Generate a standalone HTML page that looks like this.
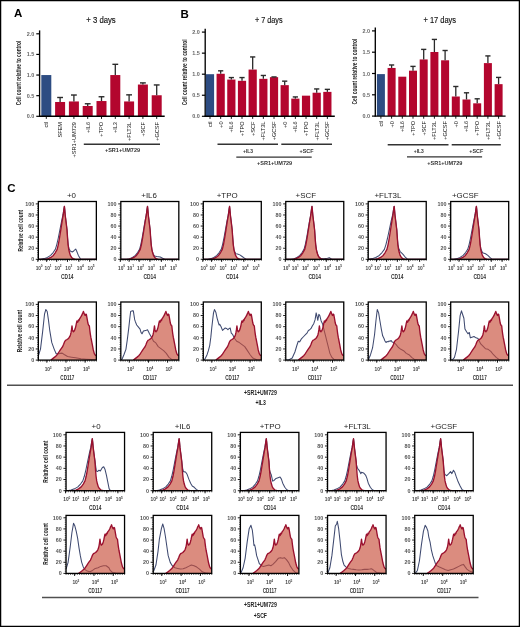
<!DOCTYPE html><html><head><meta charset="utf-8"><style>html,body{margin:0;padding:0;background:#fff;width:520px;height:627px;overflow:hidden;}body{position:relative;font-family:"Liberation Sans",sans-serif;}</style></head><body><svg width="520" height="627" viewBox="0 0 520 627" style="position:absolute;left:0;top:0;will-change:transform;font-family:'Liberation Sans', sans-serif">
<rect x="0" y="0" width="520" height="627" fill="#fff"/>
<text x="13.90" y="17.00" font-size="11.5" text-anchor="start" fill="#000" font-weight="bold" >A</text>
<text x="180.60" y="17.60" font-size="11.5" text-anchor="start" fill="#000" font-weight="bold" >B</text>
<text x="7.30" y="191.80" font-size="11.5" text-anchor="start" fill="#000" font-weight="bold" >C</text>
<text x="101.00" y="23.00" font-size="8.4" text-anchor="middle" fill="#111" textLength="29.40" lengthAdjust="spacingAndGlyphs" stroke="#111" stroke-width="0.15">+ 3 days</text>
<text x="268.80" y="23.00" font-size="8.4" text-anchor="middle" fill="#111" textLength="27.60" lengthAdjust="spacingAndGlyphs" stroke="#111" stroke-width="0.15">+ 7 days</text>
<text x="439.80" y="22.80" font-size="8.4" text-anchor="middle" fill="#111" textLength="32.60" lengthAdjust="spacingAndGlyphs" stroke="#111" stroke-width="0.15">+ 17 days</text>
<line x1="39.60" y1="30.40" x2="39.60" y2="116.80" stroke="#000" stroke-width="1.35" />
<line x1="36.30" y1="116.30" x2="39.60" y2="116.30" stroke="#000" stroke-width="1.2" />
<text x="34.30" y="118.30" font-size="5.8" text-anchor="end" fill="#666" font-weight="bold" textLength="7.60" lengthAdjust="spacingAndGlyphs" >0.0</text>
<line x1="36.30" y1="95.67" x2="39.60" y2="95.67" stroke="#000" stroke-width="1.2" />
<text x="34.30" y="97.67" font-size="5.8" text-anchor="end" fill="#666" font-weight="bold" textLength="7.60" lengthAdjust="spacingAndGlyphs" >0.5</text>
<line x1="36.30" y1="75.05" x2="39.60" y2="75.05" stroke="#000" stroke-width="1.2" />
<text x="34.30" y="77.05" font-size="5.8" text-anchor="end" fill="#666" font-weight="bold" textLength="7.60" lengthAdjust="spacingAndGlyphs" >1.0</text>
<line x1="36.30" y1="54.42" x2="39.60" y2="54.42" stroke="#000" stroke-width="1.2" />
<text x="34.30" y="56.42" font-size="5.8" text-anchor="end" fill="#666" font-weight="bold" textLength="7.60" lengthAdjust="spacingAndGlyphs" >1.5</text>
<line x1="36.30" y1="33.80" x2="39.60" y2="33.80" stroke="#000" stroke-width="1.2" />
<text x="34.30" y="35.80" font-size="5.8" text-anchor="end" fill="#666" font-weight="bold" textLength="7.60" lengthAdjust="spacingAndGlyphs" >2.0</text>
<text x="20.50" y="73.00" font-size="6.3" text-anchor="middle" fill="#222" font-weight="bold" textLength="64.60" lengthAdjust="spacingAndGlyphs" transform="rotate(-90 20.50 73.00)" >Cell count relative to control</text>
<rect x="41.30" y="75.05" width="10.00" height="41.25" fill="#2d4c82"/>
<line x1="46.30" y1="116.30" x2="46.30" y2="118.90" stroke="#000" stroke-width="0.9" />
<rect x="55.10" y="101.99" width="10.00" height="14.31" fill="#b3062e"/>
<line x1="60.10" y1="97.49" x2="60.10" y2="101.99" stroke="#2a2a2a" stroke-width="1.3" />
<line x1="57.20" y1="97.49" x2="63.00" y2="97.49" stroke="#2a2a2a" stroke-width="1.4" />
<line x1="60.10" y1="116.30" x2="60.10" y2="118.90" stroke="#000" stroke-width="0.9" />
<rect x="68.90" y="101.45" width="10.00" height="14.85" fill="#b3062e"/>
<line x1="73.90" y1="95.02" x2="73.90" y2="101.45" stroke="#2a2a2a" stroke-width="1.3" />
<line x1="71.00" y1="95.02" x2="76.80" y2="95.02" stroke="#2a2a2a" stroke-width="1.4" />
<line x1="73.90" y1="116.30" x2="73.90" y2="118.90" stroke="#000" stroke-width="0.9" />
<rect x="82.70" y="105.99" width="10.00" height="10.31" fill="#b3062e"/>
<line x1="87.70" y1="103.76" x2="87.70" y2="105.99" stroke="#2a2a2a" stroke-width="1.3" />
<line x1="84.80" y1="103.76" x2="90.60" y2="103.76" stroke="#2a2a2a" stroke-width="1.4" />
<line x1="87.70" y1="116.30" x2="87.70" y2="118.90" stroke="#000" stroke-width="0.9" />
<rect x="96.50" y="101.04" width="10.00" height="15.26" fill="#b3062e"/>
<line x1="101.50" y1="96.75" x2="101.50" y2="101.04" stroke="#2a2a2a" stroke-width="1.3" />
<line x1="98.60" y1="96.75" x2="104.40" y2="96.75" stroke="#2a2a2a" stroke-width="1.4" />
<line x1="101.50" y1="116.30" x2="101.50" y2="118.90" stroke="#000" stroke-width="0.9" />
<rect x="110.30" y="75.05" width="10.00" height="41.25" fill="#b3062e"/>
<line x1="115.30" y1="64.32" x2="115.30" y2="75.05" stroke="#2a2a2a" stroke-width="1.3" />
<line x1="112.40" y1="64.32" x2="118.20" y2="64.32" stroke="#2a2a2a" stroke-width="1.4" />
<line x1="115.30" y1="116.30" x2="115.30" y2="118.90" stroke="#000" stroke-width="0.9" />
<rect x="124.10" y="101.45" width="10.00" height="14.85" fill="#b3062e"/>
<line x1="129.10" y1="94.85" x2="129.10" y2="101.45" stroke="#2a2a2a" stroke-width="1.3" />
<line x1="126.20" y1="94.85" x2="132.00" y2="94.85" stroke="#2a2a2a" stroke-width="1.4" />
<line x1="129.10" y1="116.30" x2="129.10" y2="118.90" stroke="#000" stroke-width="0.9" />
<rect x="137.90" y="84.54" width="10.00" height="31.76" fill="#b3062e"/>
<line x1="142.90" y1="82.89" x2="142.90" y2="84.54" stroke="#2a2a2a" stroke-width="1.3" />
<line x1="140.00" y1="82.89" x2="145.80" y2="82.89" stroke="#2a2a2a" stroke-width="1.4" />
<line x1="142.90" y1="116.30" x2="142.90" y2="118.90" stroke="#000" stroke-width="0.9" />
<rect x="151.70" y="95.26" width="10.00" height="21.04" fill="#b3062e"/>
<line x1="156.70" y1="84.95" x2="156.70" y2="95.26" stroke="#2a2a2a" stroke-width="1.3" />
<line x1="153.80" y1="84.95" x2="159.60" y2="84.95" stroke="#2a2a2a" stroke-width="1.4" />
<line x1="156.70" y1="116.30" x2="156.70" y2="118.90" stroke="#000" stroke-width="0.9" />
<line x1="39.00" y1="116.30" x2="164.70" y2="116.30" stroke="#000" stroke-width="1.4" />
<text x="48.20" y="122.00" font-size="5.6" text-anchor="end" fill="#111" textLength="5.60" lengthAdjust="spacingAndGlyphs" transform="rotate(-90 48.20 122.00)" >ctl</text>
<text x="62.00" y="122.00" font-size="5.6" text-anchor="end" fill="#111" textLength="15.56" lengthAdjust="spacingAndGlyphs" transform="rotate(-90 62.00 122.00)" >SFEM</text>
<text x="75.80" y="122.00" font-size="5.6" text-anchor="end" fill="#111" textLength="35.49" lengthAdjust="spacingAndGlyphs" transform="rotate(-90 75.80 122.00)" >+SR1+UM729</text>
<text x="89.60" y="122.00" font-size="5.6" text-anchor="end" fill="#111" textLength="11.05" lengthAdjust="spacingAndGlyphs" transform="rotate(-90 89.60 122.00)" >+IL6</text>
<text x="103.40" y="122.00" font-size="5.6" text-anchor="end" fill="#111" textLength="14.78" lengthAdjust="spacingAndGlyphs" transform="rotate(-90 103.40 122.00)" >+TPO</text>
<text x="117.20" y="122.00" font-size="5.6" text-anchor="end" fill="#111" textLength="11.05" lengthAdjust="spacingAndGlyphs" transform="rotate(-90 117.20 122.00)" >+IL3</text>
<text x="131.00" y="122.00" font-size="5.6" text-anchor="end" fill="#111" textLength="19.04" lengthAdjust="spacingAndGlyphs" transform="rotate(-90 131.00 122.00)" >+FLT3L</text>
<text x="144.80" y="122.00" font-size="5.6" text-anchor="end" fill="#111" textLength="14.47" lengthAdjust="spacingAndGlyphs" transform="rotate(-90 144.80 122.00)" >+SCF</text>
<text x="158.60" y="122.00" font-size="5.6" text-anchor="end" fill="#111" textLength="18.83" lengthAdjust="spacingAndGlyphs" transform="rotate(-90 158.60 122.00)" >+GCSF</text>
<line x1="205.20" y1="28.70" x2="205.20" y2="116.80" stroke="#000" stroke-width="1.35" />
<line x1="201.90" y1="116.30" x2="205.20" y2="116.30" stroke="#000" stroke-width="1.2" />
<text x="199.90" y="118.30" font-size="5.8" text-anchor="end" fill="#666" font-weight="bold" textLength="7.60" lengthAdjust="spacingAndGlyphs" >0.0</text>
<line x1="201.90" y1="95.25" x2="205.20" y2="95.25" stroke="#000" stroke-width="1.2" />
<text x="199.90" y="97.25" font-size="5.8" text-anchor="end" fill="#666" font-weight="bold" textLength="7.60" lengthAdjust="spacingAndGlyphs" >0.5</text>
<line x1="201.90" y1="74.20" x2="205.20" y2="74.20" stroke="#000" stroke-width="1.2" />
<text x="199.90" y="76.20" font-size="5.8" text-anchor="end" fill="#666" font-weight="bold" textLength="7.60" lengthAdjust="spacingAndGlyphs" >1.0</text>
<line x1="201.90" y1="53.15" x2="205.20" y2="53.15" stroke="#000" stroke-width="1.2" />
<text x="199.90" y="55.15" font-size="5.8" text-anchor="end" fill="#666" font-weight="bold" textLength="7.60" lengthAdjust="spacingAndGlyphs" >1.5</text>
<line x1="201.90" y1="32.10" x2="205.20" y2="32.10" stroke="#000" stroke-width="1.2" />
<text x="199.90" y="34.10" font-size="5.8" text-anchor="end" fill="#666" font-weight="bold" textLength="7.60" lengthAdjust="spacingAndGlyphs" >2.0</text>
<text x="187.00" y="72.30" font-size="6.3" text-anchor="middle" fill="#222" font-weight="bold" textLength="66.00" lengthAdjust="spacingAndGlyphs" transform="rotate(-90 187.00 72.30)" >Cell count relative to control</text>
<rect x="205.90" y="74.20" width="8.20" height="42.10" fill="#2d4c82"/>
<line x1="210.00" y1="116.30" x2="210.00" y2="118.90" stroke="#000" stroke-width="0.9" />
<rect x="216.57" y="73.78" width="8.20" height="42.52" fill="#b3062e"/>
<line x1="220.67" y1="70.83" x2="220.67" y2="73.78" stroke="#2a2a2a" stroke-width="1.3" />
<line x1="218.07" y1="70.83" x2="223.27" y2="70.83" stroke="#2a2a2a" stroke-width="1.4" />
<line x1="220.67" y1="116.30" x2="220.67" y2="118.90" stroke="#000" stroke-width="0.9" />
<rect x="227.24" y="79.55" width="8.20" height="36.75" fill="#b3062e"/>
<line x1="231.34" y1="77.57" x2="231.34" y2="79.55" stroke="#2a2a2a" stroke-width="1.3" />
<line x1="228.74" y1="77.57" x2="233.94" y2="77.57" stroke="#2a2a2a" stroke-width="1.4" />
<line x1="231.34" y1="116.30" x2="231.34" y2="118.90" stroke="#000" stroke-width="0.9" />
<rect x="237.91" y="80.81" width="8.20" height="35.49" fill="#b3062e"/>
<line x1="242.01" y1="77.57" x2="242.01" y2="80.81" stroke="#2a2a2a" stroke-width="1.3" />
<line x1="239.41" y1="77.57" x2="244.61" y2="77.57" stroke="#2a2a2a" stroke-width="1.4" />
<line x1="242.01" y1="116.30" x2="242.01" y2="118.90" stroke="#000" stroke-width="0.9" />
<rect x="248.58" y="69.57" width="8.20" height="46.73" fill="#b3062e"/>
<line x1="252.68" y1="56.94" x2="252.68" y2="69.57" stroke="#2a2a2a" stroke-width="1.3" />
<line x1="250.08" y1="56.94" x2="255.28" y2="56.94" stroke="#2a2a2a" stroke-width="1.4" />
<line x1="252.68" y1="116.30" x2="252.68" y2="118.90" stroke="#000" stroke-width="0.9" />
<rect x="259.25" y="78.83" width="8.20" height="37.47" fill="#b3062e"/>
<line x1="263.35" y1="75.46" x2="263.35" y2="78.83" stroke="#2a2a2a" stroke-width="1.3" />
<line x1="260.75" y1="75.46" x2="265.95" y2="75.46" stroke="#2a2a2a" stroke-width="1.4" />
<line x1="263.35" y1="116.30" x2="263.35" y2="118.90" stroke="#000" stroke-width="0.9" />
<rect x="269.92" y="77.15" width="8.20" height="39.15" fill="#b3062e"/>
<line x1="274.02" y1="76.94" x2="274.02" y2="77.15" stroke="#2a2a2a" stroke-width="1.3" />
<line x1="271.42" y1="76.94" x2="276.62" y2="76.94" stroke="#2a2a2a" stroke-width="1.4" />
<line x1="274.02" y1="116.30" x2="274.02" y2="118.90" stroke="#000" stroke-width="0.9" />
<rect x="280.59" y="85.15" width="8.20" height="31.15" fill="#b3062e"/>
<line x1="284.69" y1="81.15" x2="284.69" y2="85.15" stroke="#2a2a2a" stroke-width="1.3" />
<line x1="282.09" y1="81.15" x2="287.29" y2="81.15" stroke="#2a2a2a" stroke-width="1.4" />
<line x1="284.69" y1="116.30" x2="284.69" y2="118.90" stroke="#000" stroke-width="0.9" />
<rect x="291.26" y="98.62" width="8.20" height="17.68" fill="#b3062e"/>
<line x1="295.36" y1="96.93" x2="295.36" y2="98.62" stroke="#2a2a2a" stroke-width="1.3" />
<line x1="292.76" y1="96.93" x2="297.96" y2="96.93" stroke="#2a2a2a" stroke-width="1.4" />
<line x1="295.36" y1="116.30" x2="295.36" y2="118.90" stroke="#000" stroke-width="0.9" />
<rect x="301.93" y="95.67" width="8.20" height="20.63" fill="#b3062e"/>
<line x1="306.03" y1="116.30" x2="306.03" y2="118.90" stroke="#000" stroke-width="0.9" />
<rect x="312.60" y="92.72" width="8.20" height="23.58" fill="#b3062e"/>
<line x1="316.70" y1="88.94" x2="316.70" y2="92.72" stroke="#2a2a2a" stroke-width="1.3" />
<line x1="314.10" y1="88.94" x2="319.30" y2="88.94" stroke="#2a2a2a" stroke-width="1.4" />
<line x1="316.70" y1="116.30" x2="316.70" y2="118.90" stroke="#000" stroke-width="0.9" />
<rect x="323.27" y="91.88" width="8.20" height="24.42" fill="#b3062e"/>
<line x1="327.37" y1="89.36" x2="327.37" y2="91.88" stroke="#2a2a2a" stroke-width="1.3" />
<line x1="324.77" y1="89.36" x2="329.97" y2="89.36" stroke="#2a2a2a" stroke-width="1.4" />
<line x1="327.37" y1="116.30" x2="327.37" y2="118.90" stroke="#000" stroke-width="0.9" />
<line x1="204.60" y1="116.30" x2="334.80" y2="116.30" stroke="#000" stroke-width="1.4" />
<text x="211.90" y="121.50" font-size="5.6" text-anchor="end" fill="#111" textLength="5.60" lengthAdjust="spacingAndGlyphs" transform="rotate(-90 211.90 121.50)" >ctl</text>
<text x="222.57" y="121.50" font-size="5.6" text-anchor="end" fill="#111" textLength="6.38" lengthAdjust="spacingAndGlyphs" transform="rotate(-90 222.57 121.50)" >+0</text>
<text x="233.24" y="121.50" font-size="5.6" text-anchor="end" fill="#111" textLength="11.05" lengthAdjust="spacingAndGlyphs" transform="rotate(-90 233.24 121.50)" >+IL6</text>
<text x="243.91" y="121.50" font-size="5.6" text-anchor="end" fill="#111" textLength="14.78" lengthAdjust="spacingAndGlyphs" transform="rotate(-90 243.91 121.50)" >+TPO</text>
<text x="254.58" y="121.50" font-size="5.6" text-anchor="end" fill="#111" textLength="14.47" lengthAdjust="spacingAndGlyphs" transform="rotate(-90 254.58 121.50)" >+SCF</text>
<text x="265.25" y="121.50" font-size="5.6" text-anchor="end" fill="#111" textLength="19.04" lengthAdjust="spacingAndGlyphs" transform="rotate(-90 265.25 121.50)" >+FLT3L</text>
<text x="275.92" y="121.50" font-size="5.6" text-anchor="end" fill="#111" textLength="18.83" lengthAdjust="spacingAndGlyphs" transform="rotate(-90 275.92 121.50)" >+GCSF</text>
<text x="286.59" y="121.50" font-size="5.6" text-anchor="end" fill="#111" textLength="6.38" lengthAdjust="spacingAndGlyphs" transform="rotate(-90 286.59 121.50)" >+0</text>
<text x="297.26" y="121.50" font-size="5.6" text-anchor="end" fill="#111" textLength="11.05" lengthAdjust="spacingAndGlyphs" transform="rotate(-90 297.26 121.50)" >+IL6</text>
<text x="307.93" y="121.50" font-size="5.6" text-anchor="end" fill="#111" textLength="14.78" lengthAdjust="spacingAndGlyphs" transform="rotate(-90 307.93 121.50)" >+TPO</text>
<text x="318.60" y="121.50" font-size="5.6" text-anchor="end" fill="#111" textLength="19.04" lengthAdjust="spacingAndGlyphs" transform="rotate(-90 318.60 121.50)" >+FLT3L</text>
<text x="329.27" y="121.50" font-size="5.6" text-anchor="end" fill="#111" textLength="18.83" lengthAdjust="spacingAndGlyphs" transform="rotate(-90 329.27 121.50)" >+GCSF</text>
<line x1="375.30" y1="27.50" x2="375.30" y2="116.60" stroke="#000" stroke-width="1.35" />
<line x1="372.00" y1="116.10" x2="375.30" y2="116.10" stroke="#000" stroke-width="1.2" />
<text x="370.00" y="118.10" font-size="5.8" text-anchor="end" fill="#666" font-weight="bold" textLength="7.60" lengthAdjust="spacingAndGlyphs" >0.0</text>
<line x1="372.00" y1="94.80" x2="375.30" y2="94.80" stroke="#000" stroke-width="1.2" />
<text x="370.00" y="96.80" font-size="5.8" text-anchor="end" fill="#666" font-weight="bold" textLength="7.60" lengthAdjust="spacingAndGlyphs" >0.5</text>
<line x1="372.00" y1="73.50" x2="375.30" y2="73.50" stroke="#000" stroke-width="1.2" />
<text x="370.00" y="75.50" font-size="5.8" text-anchor="end" fill="#666" font-weight="bold" textLength="7.60" lengthAdjust="spacingAndGlyphs" >1.0</text>
<line x1="372.00" y1="52.20" x2="375.30" y2="52.20" stroke="#000" stroke-width="1.2" />
<text x="370.00" y="54.20" font-size="5.8" text-anchor="end" fill="#666" font-weight="bold" textLength="7.60" lengthAdjust="spacingAndGlyphs" >1.5</text>
<line x1="372.00" y1="30.90" x2="375.30" y2="30.90" stroke="#000" stroke-width="1.2" />
<text x="370.00" y="32.90" font-size="5.8" text-anchor="end" fill="#666" font-weight="bold" textLength="7.60" lengthAdjust="spacingAndGlyphs" >2.0</text>
<text x="357.00" y="71.60" font-size="6.3" text-anchor="middle" fill="#222" font-weight="bold" textLength="66.00" lengthAdjust="spacingAndGlyphs" transform="rotate(-90 357.00 71.60)" >Cell count relative to control</text>
<rect x="376.90" y="74.10" width="8.00" height="42.00" fill="#2d4c82"/>
<line x1="380.90" y1="116.10" x2="380.90" y2="118.70" stroke="#000" stroke-width="0.9" />
<rect x="387.60" y="67.96" width="8.00" height="48.14" fill="#b3062e"/>
<line x1="391.60" y1="64.98" x2="391.60" y2="67.96" stroke="#2a2a2a" stroke-width="1.3" />
<line x1="389.00" y1="64.98" x2="394.20" y2="64.98" stroke="#2a2a2a" stroke-width="1.4" />
<line x1="391.60" y1="116.10" x2="391.60" y2="118.70" stroke="#000" stroke-width="0.9" />
<rect x="398.30" y="76.69" width="8.00" height="39.41" fill="#b3062e"/>
<line x1="402.30" y1="116.10" x2="402.30" y2="118.70" stroke="#000" stroke-width="0.9" />
<rect x="409.00" y="70.69" width="8.00" height="45.41" fill="#b3062e"/>
<line x1="413.00" y1="66.39" x2="413.00" y2="70.69" stroke="#2a2a2a" stroke-width="1.3" />
<line x1="410.40" y1="66.39" x2="415.60" y2="66.39" stroke="#2a2a2a" stroke-width="1.4" />
<line x1="413.00" y1="116.10" x2="413.00" y2="118.70" stroke="#000" stroke-width="0.9" />
<rect x="419.70" y="59.44" width="8.00" height="56.66" fill="#b3062e"/>
<line x1="423.70" y1="49.39" x2="423.70" y2="59.44" stroke="#2a2a2a" stroke-width="1.3" />
<line x1="421.10" y1="49.39" x2="426.30" y2="49.39" stroke="#2a2a2a" stroke-width="1.4" />
<line x1="423.70" y1="116.10" x2="423.70" y2="118.70" stroke="#000" stroke-width="0.9" />
<rect x="430.40" y="51.99" width="8.00" height="64.11" fill="#b3062e"/>
<line x1="434.40" y1="39.42" x2="434.40" y2="51.99" stroke="#2a2a2a" stroke-width="1.3" />
<line x1="431.80" y1="39.42" x2="437.00" y2="39.42" stroke="#2a2a2a" stroke-width="1.4" />
<line x1="434.40" y1="116.10" x2="434.40" y2="118.70" stroke="#000" stroke-width="0.9" />
<rect x="441.10" y="60.29" width="8.00" height="55.81" fill="#b3062e"/>
<line x1="445.10" y1="50.50" x2="445.10" y2="60.29" stroke="#2a2a2a" stroke-width="1.3" />
<line x1="442.50" y1="50.50" x2="447.70" y2="50.50" stroke="#2a2a2a" stroke-width="1.4" />
<line x1="445.10" y1="116.10" x2="445.10" y2="118.70" stroke="#000" stroke-width="0.9" />
<rect x="451.80" y="96.50" width="8.00" height="19.60" fill="#b3062e"/>
<line x1="455.80" y1="86.49" x2="455.80" y2="96.50" stroke="#2a2a2a" stroke-width="1.3" />
<line x1="453.20" y1="86.49" x2="458.40" y2="86.49" stroke="#2a2a2a" stroke-width="1.4" />
<line x1="455.80" y1="116.10" x2="455.80" y2="118.70" stroke="#000" stroke-width="0.9" />
<rect x="462.50" y="99.49" width="8.00" height="16.61" fill="#b3062e"/>
<line x1="466.50" y1="92.80" x2="466.50" y2="99.49" stroke="#2a2a2a" stroke-width="1.3" />
<line x1="463.90" y1="92.80" x2="469.10" y2="92.80" stroke="#2a2a2a" stroke-width="1.4" />
<line x1="466.50" y1="116.10" x2="466.50" y2="118.70" stroke="#000" stroke-width="0.9" />
<rect x="473.20" y="103.32" width="8.00" height="12.78" fill="#b3062e"/>
<line x1="477.20" y1="98.80" x2="477.20" y2="103.32" stroke="#2a2a2a" stroke-width="1.3" />
<line x1="474.60" y1="98.80" x2="479.80" y2="98.80" stroke="#2a2a2a" stroke-width="1.4" />
<line x1="477.20" y1="116.10" x2="477.20" y2="118.70" stroke="#000" stroke-width="0.9" />
<rect x="483.90" y="63.11" width="8.00" height="52.99" fill="#b3062e"/>
<line x1="487.90" y1="55.91" x2="487.90" y2="63.11" stroke="#2a2a2a" stroke-width="1.3" />
<line x1="485.30" y1="55.91" x2="490.50" y2="55.91" stroke="#2a2a2a" stroke-width="1.4" />
<line x1="487.90" y1="116.10" x2="487.90" y2="118.70" stroke="#000" stroke-width="0.9" />
<rect x="494.60" y="84.15" width="8.00" height="31.95" fill="#b3062e"/>
<line x1="498.60" y1="77.42" x2="498.60" y2="84.15" stroke="#2a2a2a" stroke-width="1.3" />
<line x1="496.00" y1="77.42" x2="501.20" y2="77.42" stroke="#2a2a2a" stroke-width="1.4" />
<line x1="498.60" y1="116.10" x2="498.60" y2="118.70" stroke="#000" stroke-width="0.9" />
<line x1="374.70" y1="116.10" x2="505.60" y2="116.10" stroke="#000" stroke-width="1.4" />
<text x="382.80" y="121.00" font-size="5.6" text-anchor="end" fill="#111" textLength="5.60" lengthAdjust="spacingAndGlyphs" transform="rotate(-90 382.80 121.00)" >ctl</text>
<text x="393.50" y="121.00" font-size="5.6" text-anchor="end" fill="#111" textLength="6.38" lengthAdjust="spacingAndGlyphs" transform="rotate(-90 393.50 121.00)" >+0</text>
<text x="404.20" y="121.00" font-size="5.6" text-anchor="end" fill="#111" textLength="11.05" lengthAdjust="spacingAndGlyphs" transform="rotate(-90 404.20 121.00)" >+IL6</text>
<text x="414.90" y="121.00" font-size="5.6" text-anchor="end" fill="#111" textLength="14.78" lengthAdjust="spacingAndGlyphs" transform="rotate(-90 414.90 121.00)" >+TPO</text>
<text x="425.60" y="121.00" font-size="5.6" text-anchor="end" fill="#111" textLength="14.47" lengthAdjust="spacingAndGlyphs" transform="rotate(-90 425.60 121.00)" >+SCF</text>
<text x="436.30" y="121.00" font-size="5.6" text-anchor="end" fill="#111" textLength="19.04" lengthAdjust="spacingAndGlyphs" transform="rotate(-90 436.30 121.00)" >+FLT3L</text>
<text x="447.00" y="121.00" font-size="5.6" text-anchor="end" fill="#111" textLength="18.83" lengthAdjust="spacingAndGlyphs" transform="rotate(-90 447.00 121.00)" >+GCSF</text>
<text x="457.70" y="121.00" font-size="5.6" text-anchor="end" fill="#111" textLength="6.38" lengthAdjust="spacingAndGlyphs" transform="rotate(-90 457.70 121.00)" >+0</text>
<text x="468.40" y="121.00" font-size="5.6" text-anchor="end" fill="#111" textLength="11.05" lengthAdjust="spacingAndGlyphs" transform="rotate(-90 468.40 121.00)" >+IL6</text>
<text x="479.10" y="121.00" font-size="5.6" text-anchor="end" fill="#111" textLength="14.78" lengthAdjust="spacingAndGlyphs" transform="rotate(-90 479.10 121.00)" >+TPO</text>
<text x="489.80" y="121.00" font-size="5.6" text-anchor="end" fill="#111" textLength="19.04" lengthAdjust="spacingAndGlyphs" transform="rotate(-90 489.80 121.00)" >+FLT3L</text>
<text x="500.50" y="121.00" font-size="5.6" text-anchor="end" fill="#111" textLength="18.83" lengthAdjust="spacingAndGlyphs" transform="rotate(-90 500.50 121.00)" >+GCSF</text>
<line x1="83.80" y1="144.30" x2="160.00" y2="144.30" stroke="#333" stroke-width="1.4" />
<text x="122.50" y="152.40" font-size="5.8" text-anchor="middle" fill="#333" font-weight="bold" textLength="35.20" lengthAdjust="spacingAndGlyphs" >+SR1+UM729</text>
<line x1="217.50" y1="144.30" x2="278.00" y2="144.30" stroke="#333" stroke-width="1.4" />
<line x1="281.30" y1="144.30" x2="332.00" y2="144.30" stroke="#333" stroke-width="1.4" />
<text x="248.10" y="152.80" font-size="5.8" text-anchor="middle" fill="#333" font-weight="bold" textLength="10.00" lengthAdjust="spacingAndGlyphs" >+IL3</text>
<text x="306.50" y="152.80" font-size="5.8" text-anchor="middle" fill="#333" font-weight="bold" textLength="14.00" lengthAdjust="spacingAndGlyphs" >+SCF</text>
<line x1="236.30" y1="157.10" x2="311.70" y2="157.10" stroke="#333" stroke-width="1.4" />
<text x="274.60" y="164.70" font-size="5.8" text-anchor="middle" fill="#333" font-weight="bold" textLength="35.20" lengthAdjust="spacingAndGlyphs" >+SR1+UM729</text>
<line x1="387.70" y1="144.80" x2="448.50" y2="144.80" stroke="#333" stroke-width="1.4" />
<line x1="451.70" y1="144.80" x2="500.80" y2="144.80" stroke="#333" stroke-width="1.4" />
<text x="418.80" y="152.80" font-size="5.8" text-anchor="middle" fill="#333" font-weight="bold" textLength="10.00" lengthAdjust="spacingAndGlyphs" >+IL3</text>
<text x="476.30" y="152.80" font-size="5.8" text-anchor="middle" fill="#333" font-weight="bold" textLength="14.00" lengthAdjust="spacingAndGlyphs" >+SCF</text>
<line x1="407.00" y1="156.90" x2="482.10" y2="156.90" stroke="#333" stroke-width="1.4" />
<text x="444.80" y="164.70" font-size="5.8" text-anchor="middle" fill="#333" font-weight="bold" textLength="35.20" lengthAdjust="spacingAndGlyphs" >+SR1+UM729</text>
<clipPath id="c38_201"><rect x="38.35" y="201.50" width="58.00" height="57.80"/></clipPath>
<g clip-path="url(#c38_201)">
<path d="M38.35,259.30 L40.47,259.30 L44.09,258.64 L47.35,257.42 L50.62,255.42 L53.15,252.54 L55.33,249.33 L56.78,244.62 L58.23,238.25 L59.90,229.77 L61.49,221.63 L62.94,214.98 L63.81,209.44 L64.39,206.39 L64.74,209.44 L65.20,214.98 L66.02,221.63 L67.00,229.77 L67.58,238.25 L68.10,244.62 L68.86,248.22 L70.25,250.99 L72.28,251.99 L73.73,250.99 L75.70,249.00 L76.63,250.99 L78.37,255.42 L80.69,259.30 L96.35,259.30" fill="none" stroke="#3f4a70" stroke-width="1.05" stroke-linejoin="round"/>
<path d="M38.35,259.30 L38.35,259.30 L45.25,259.30 L48.15,258.64 L50.76,257.42 L53.37,255.42 L55.40,252.54 L57.14,249.33 L58.30,244.62 L59.46,238.25 L60.80,229.77 L62.07,221.63 L63.23,214.98 L63.93,209.44 L64.39,206.39 L64.74,209.44 L65.20,214.98 L66.02,221.63 L67.00,229.77 L67.58,238.25 L68.10,244.62 L68.74,249.33 L69.50,252.54 L70.37,255.42 L71.64,257.42 L73.09,258.64 L75.41,259.30 L96.35,259.30 L96.35,259.30 Z" fill="#c84f3b" fill-opacity="0.65" stroke="none"/>
<path d="M38.35,259.30 L45.25,259.30 L48.15,258.64 L50.76,257.42 L53.37,255.42 L55.40,252.54 L57.14,249.33 L58.30,244.62 L59.46,238.25 L60.80,229.77 L62.07,221.63 L63.23,214.98 L63.93,209.44 L64.39,206.39 L64.74,209.44 L65.20,214.98 L66.02,221.63 L67.00,229.77 L67.58,238.25 L68.10,244.62 L68.74,249.33 L69.50,252.54 L70.37,255.42 L71.64,257.42 L73.09,258.64 L75.41,259.30 L96.35,259.30" fill="none" stroke="#9a102e" stroke-width="1.35" stroke-linejoin="round"/>
</g>
<rect x="38.35" y="201.50" width="58.00" height="57.80" fill="none" stroke="#000" stroke-width="1.3"/>
<path d="M35.75,259.30H38.35M35.75,248.22H38.35M35.75,237.14H38.35M35.75,226.06H38.35M35.75,214.98H38.35M35.75,203.90H38.35" stroke="#000" stroke-width="0.9"/>
<path d="M37.05,257.08H38.35M37.05,254.87H38.35M37.05,252.65H38.35M37.05,250.44H38.35M37.05,246.00H38.35M37.05,243.79H38.35M37.05,241.57H38.35M37.05,239.36H38.35M37.05,234.92H38.35M37.05,232.71H38.35M37.05,230.49H38.35M37.05,228.28H38.35M37.05,223.84H38.35M37.05,221.63H38.35M37.05,219.41H38.35M37.05,217.20H38.35M37.05,212.76H38.35M37.05,210.55H38.35M37.05,208.33H38.35M37.05,206.12H38.35" stroke="#000" stroke-width="0.6"/>
<text x="34.15" y="261.10" font-size="5.2" text-anchor="end" fill="#555" font-weight="bold" textLength="3.00" lengthAdjust="spacingAndGlyphs" >0</text>
<text x="34.15" y="250.02" font-size="5.2" text-anchor="end" fill="#555" font-weight="bold" textLength="6.00" lengthAdjust="spacingAndGlyphs" >20</text>
<text x="34.15" y="238.94" font-size="5.2" text-anchor="end" fill="#555" font-weight="bold" textLength="6.00" lengthAdjust="spacingAndGlyphs" >40</text>
<text x="34.15" y="227.86" font-size="5.2" text-anchor="end" fill="#555" font-weight="bold" textLength="6.00" lengthAdjust="spacingAndGlyphs" >60</text>
<text x="34.15" y="216.78" font-size="5.2" text-anchor="end" fill="#555" font-weight="bold" textLength="6.00" lengthAdjust="spacingAndGlyphs" >80</text>
<text x="34.15" y="205.70" font-size="5.2" text-anchor="end" fill="#555" font-weight="bold" textLength="9.00" lengthAdjust="spacingAndGlyphs" >100</text>
<path d="M38.35,259.30v1.6M40.58,259.30v1.6M42.81,259.30v1.6M45.04,259.30v1.6M47.27,259.30v1.6M49.50,259.30v1.6M51.73,259.30v1.6M53.97,259.30v1.6M56.20,259.30v1.6M58.43,259.30v1.6M60.66,259.30v1.6M62.89,259.30v1.6M65.12,259.30v1.6M67.35,259.30v1.6M69.58,259.30v1.6M71.81,259.30v1.6M74.04,259.30v1.6M76.27,259.30v1.6M78.50,259.30v1.6M80.73,259.30v1.6M82.97,259.30v1.6M85.20,259.30v1.6M87.43,259.30v1.6M89.66,259.30v1.6M91.89,259.30v1.6M94.12,259.30v1.6M96.35,259.30v1.6" stroke="#000" stroke-width="0.6"/>
<path d="M37.84,259.30v2.6M46.65,259.30v2.6M56.69,259.30v2.6M67.47,259.30v2.6M78.90,259.30v2.6M89.75,259.30v2.6" stroke="#000" stroke-width="0.9"/>
<text x="38.34" y="269.60" font-size="5.5" text-anchor="middle" fill="#444" font-weight="bold" textLength="5.4" lengthAdjust="spacingAndGlyphs">10</text>
<text x="41.74" y="267.20" font-size="3.2" text-anchor="middle" fill="#444" font-weight="bold">0</text>
<text x="47.15" y="269.60" font-size="5.5" text-anchor="middle" fill="#444" font-weight="bold" textLength="5.4" lengthAdjust="spacingAndGlyphs">10</text>
<text x="50.55" y="267.20" font-size="3.2" text-anchor="middle" fill="#444" font-weight="bold">1</text>
<text x="57.19" y="269.60" font-size="5.5" text-anchor="middle" fill="#444" font-weight="bold" textLength="5.4" lengthAdjust="spacingAndGlyphs">10</text>
<text x="60.59" y="267.20" font-size="3.2" text-anchor="middle" fill="#444" font-weight="bold">2</text>
<text x="67.97" y="269.60" font-size="5.5" text-anchor="middle" fill="#444" font-weight="bold" textLength="5.4" lengthAdjust="spacingAndGlyphs">10</text>
<text x="71.37" y="267.20" font-size="3.2" text-anchor="middle" fill="#444" font-weight="bold">3</text>
<text x="79.40" y="269.60" font-size="5.5" text-anchor="middle" fill="#444" font-weight="bold" textLength="5.4" lengthAdjust="spacingAndGlyphs">10</text>
<text x="82.80" y="267.20" font-size="3.2" text-anchor="middle" fill="#444" font-weight="bold">4</text>
<text x="90.25" y="269.60" font-size="5.5" text-anchor="middle" fill="#444" font-weight="bold" textLength="5.4" lengthAdjust="spacingAndGlyphs">10</text>
<text x="93.65" y="267.20" font-size="3.2" text-anchor="middle" fill="#444" font-weight="bold">5</text>
<text x="67.35" y="279.00" font-size="7.0" text-anchor="middle" fill="#333" font-weight="bold" textLength="12.50" lengthAdjust="spacingAndGlyphs" >CD14</text>
<text x="71.50" y="197.60" font-size="8.0" text-anchor="middle" fill="#222" textLength="9.03" lengthAdjust="spacingAndGlyphs" >+0</text>
<clipPath id="c38_302"><rect x="38.35" y="302.00" width="58.00" height="58.10"/></clipPath>
<g clip-path="url(#c38_302)">
<path d="M38.35,355.81 L40.49,349.09 L42.64,331.65 L44.51,314.20 L45.85,309.50 L47.19,311.51 L48.40,319.57 L49.74,330.30 L51.74,342.38 L54.16,349.09 L56.17,353.79 L58.17,353.79 L60.18,353.39 L62.19,353.12 L64.20,354.46 L67.55,356.48 L71.57,357.15 L75.59,357.82 L80.95,358.76 L86.30,359.16 L91.66,359.56 L96.35,359.83" fill="none" stroke="#3f4a70" stroke-width="1.05" stroke-linejoin="round"/>
<path d="M50.87,360.10 L50.87,360.10 L52.75,358.62 L54.63,357.13 L56.25,355.78 L57.59,354.17 L58.94,352.01 L60.15,350.12 L61.36,348.37 L62.57,346.75 L63.65,344.19 L64.59,341.76 L65.53,340.27 L66.61,339.74 L67.55,339.20 L68.36,338.52 L69.03,337.71 L69.84,336.50 L70.51,334.75 L71.05,332.45 L71.45,329.89 L71.99,325.84 L72.53,329.89 L73.07,331.51 L73.47,331.78 L74.01,330.97 L74.41,330.83 L75.22,328.54 L75.90,325.84 L76.43,323.15 L76.97,320.85 L77.38,322.34 L77.91,321.93 L78.45,319.91 L78.99,320.45 L79.66,318.56 L80.47,317.48 L81.14,316.40 L81.95,314.92 L82.49,313.44 L83.03,312.36 L83.43,311.41 L83.97,313.17 L84.37,313.98 L84.91,315.19 L85.32,315.46 L85.85,314.11 L86.39,314.52 L86.93,317.62 L87.33,319.91 L87.87,323.01 L88.28,324.36 L88.81,325.44 L89.35,325.84 L89.76,329.75 L90.29,333.80 L90.83,337.17 L91.37,339.74 L91.91,342.57 L92.31,344.73 L93.25,349.72 L94.33,353.63 L95.27,355.11 L96.35,355.78 L96.35,360.10 Z" fill="#c84f3b" fill-opacity="0.65" stroke="none"/>
<path d="M50.87,360.10 L52.75,358.62 L54.63,357.13 L56.25,355.78 L57.59,354.17 L58.94,352.01 L60.15,350.12 L61.36,348.37 L62.57,346.75 L63.65,344.19 L64.59,341.76 L65.53,340.27 L66.61,339.74 L67.55,339.20 L68.36,338.52 L69.03,337.71 L69.84,336.50 L70.51,334.75 L71.05,332.45 L71.45,329.89 L71.99,325.84 L72.53,329.89 L73.07,331.51 L73.47,331.78 L74.01,330.97 L74.41,330.83 L75.22,328.54 L75.90,325.84 L76.43,323.15 L76.97,320.85 L77.38,322.34 L77.91,321.93 L78.45,319.91 L78.99,320.45 L79.66,318.56 L80.47,317.48 L81.14,316.40 L81.95,314.92 L82.49,313.44 L83.03,312.36 L83.43,311.41 L83.97,313.17 L84.37,313.98 L84.91,315.19 L85.32,315.46 L85.85,314.11 L86.39,314.52 L86.93,317.62 L87.33,319.91 L87.87,323.01 L88.28,324.36 L88.81,325.44 L89.35,325.84 L89.76,329.75 L90.29,333.80 L90.83,337.17 L91.37,339.74 L91.91,342.57 L92.31,344.73 L93.25,349.72 L94.33,353.63 L95.27,355.11 L96.35,355.78" fill="none" stroke="#9a102e" stroke-width="1.35" stroke-linejoin="round"/>
</g>
<rect x="38.35" y="302.00" width="58.00" height="58.10" fill="none" stroke="#000" stroke-width="1.3"/>
<path d="M35.75,360.10H38.35M35.75,348.96H38.35M35.75,337.82H38.35M35.75,326.68H38.35M35.75,315.54H38.35M35.75,304.40H38.35" stroke="#000" stroke-width="0.9"/>
<path d="M37.05,357.87H38.35M37.05,355.64H38.35M37.05,353.42H38.35M37.05,351.19H38.35M37.05,346.73H38.35M37.05,344.50H38.35M37.05,342.28H38.35M37.05,340.05H38.35M37.05,335.59H38.35M37.05,333.36H38.35M37.05,331.14H38.35M37.05,328.91H38.35M37.05,324.45H38.35M37.05,322.22H38.35M37.05,320.00H38.35M37.05,317.77H38.35M37.05,313.31H38.35M37.05,311.08H38.35M37.05,308.86H38.35M37.05,306.63H38.35" stroke="#000" stroke-width="0.6"/>
<text x="34.15" y="361.90" font-size="5.2" text-anchor="end" fill="#555" font-weight="bold" textLength="3.00" lengthAdjust="spacingAndGlyphs" >0</text>
<text x="34.15" y="350.76" font-size="5.2" text-anchor="end" fill="#555" font-weight="bold" textLength="6.00" lengthAdjust="spacingAndGlyphs" >20</text>
<text x="34.15" y="339.62" font-size="5.2" text-anchor="end" fill="#555" font-weight="bold" textLength="6.00" lengthAdjust="spacingAndGlyphs" >40</text>
<text x="34.15" y="328.48" font-size="5.2" text-anchor="end" fill="#555" font-weight="bold" textLength="6.00" lengthAdjust="spacingAndGlyphs" >60</text>
<text x="34.15" y="317.34" font-size="5.2" text-anchor="end" fill="#555" font-weight="bold" textLength="6.00" lengthAdjust="spacingAndGlyphs" >80</text>
<text x="34.15" y="306.20" font-size="5.2" text-anchor="end" fill="#555" font-weight="bold" textLength="9.00" lengthAdjust="spacingAndGlyphs" >100</text>
<path d="M38.35,360.10v1.6M40.58,360.10v1.6M42.81,360.10v1.6M45.04,360.10v1.6M47.27,360.10v1.6M49.50,360.10v1.6M51.73,360.10v1.6M53.97,360.10v1.6M56.20,360.10v1.6M58.43,360.10v1.6M60.66,360.10v1.6M62.89,360.10v1.6M65.12,360.10v1.6M67.35,360.10v1.6M69.58,360.10v1.6M71.81,360.10v1.6M74.04,360.10v1.6M76.27,360.10v1.6M78.50,360.10v1.6M80.73,360.10v1.6M82.97,360.10v1.6M85.20,360.10v1.6M87.43,360.10v1.6M89.66,360.10v1.6M91.89,360.10v1.6M94.12,360.10v1.6M96.35,360.10v1.6" stroke="#000" stroke-width="0.6"/>
<path d="M46.83,360.10v2.6M66.02,360.10v2.6M85.11,360.10v2.6" stroke="#000" stroke-width="0.9"/>
<text x="47.33" y="371.00" font-size="5.5" text-anchor="middle" fill="#444" font-weight="bold" textLength="5.4" lengthAdjust="spacingAndGlyphs">10</text>
<text x="50.73" y="368.60" font-size="3.2" text-anchor="middle" fill="#444" font-weight="bold">3</text>
<text x="66.52" y="371.00" font-size="5.5" text-anchor="middle" fill="#444" font-weight="bold" textLength="5.4" lengthAdjust="spacingAndGlyphs">10</text>
<text x="69.92" y="368.60" font-size="3.2" text-anchor="middle" fill="#444" font-weight="bold">4</text>
<text x="85.61" y="371.00" font-size="5.5" text-anchor="middle" fill="#444" font-weight="bold" textLength="5.4" lengthAdjust="spacingAndGlyphs">10</text>
<text x="89.01" y="368.60" font-size="3.2" text-anchor="middle" fill="#444" font-weight="bold">5</text>
<text x="67.35" y="379.80" font-size="7.0" text-anchor="middle" fill="#333" font-weight="bold" textLength="14.00" lengthAdjust="spacingAndGlyphs" >CD117</text>
<clipPath id="c120_201"><rect x="120.82" y="201.50" width="58.00" height="57.80"/></clipPath>
<g clip-path="url(#c120_201)">
<path d="M120.82,259.30 L126.45,259.30 L129.64,258.64 L132.51,257.42 L135.38,255.42 L137.61,252.54 L139.53,249.33 L140.80,244.62 L142.08,238.25 L143.54,229.77 L144.95,221.63 L146.22,214.98 L146.99,209.44 L147.50,206.39 L147.85,209.44 L148.31,214.98 L149.12,221.63 L150.11,229.77 L150.69,238.25 L151.21,244.62 L151.85,249.33 L152.60,252.54 L153.13,253.76 L154.46,255.98 L156.78,256.53 L160.26,257.08 L162.58,258.19 L164.90,259.30 L178.82,259.30" fill="none" stroke="#3f4a70" stroke-width="1.05" stroke-linejoin="round"/>
<path d="M120.82,259.30 L120.82,259.30 L128.36,259.30 L131.26,258.64 L133.87,257.42 L136.48,255.42 L138.51,252.54 L140.25,249.33 L141.41,244.62 L142.57,238.25 L143.90,229.77 L145.18,221.63 L146.34,214.98 L147.04,209.44 L147.50,206.39 L147.85,209.44 L148.31,214.98 L149.12,221.63 L150.11,229.77 L150.69,238.25 L151.21,244.62 L151.85,249.33 L152.60,252.54 L153.47,255.42 L154.75,257.42 L156.20,258.64 L158.52,259.30 L178.82,259.30 L178.82,259.30 Z" fill="#c84f3b" fill-opacity="0.65" stroke="none"/>
<path d="M120.82,259.30 L128.36,259.30 L131.26,258.64 L133.87,257.42 L136.48,255.42 L138.51,252.54 L140.25,249.33 L141.41,244.62 L142.57,238.25 L143.90,229.77 L145.18,221.63 L146.34,214.98 L147.04,209.44 L147.50,206.39 L147.85,209.44 L148.31,214.98 L149.12,221.63 L150.11,229.77 L150.69,238.25 L151.21,244.62 L151.85,249.33 L152.60,252.54 L153.47,255.42 L154.75,257.42 L156.20,258.64 L158.52,259.30 L178.82,259.30" fill="none" stroke="#9a102e" stroke-width="1.35" stroke-linejoin="round"/>
</g>
<rect x="120.82" y="201.50" width="58.00" height="57.80" fill="none" stroke="#000" stroke-width="1.3"/>
<path d="M118.22,259.30H120.82M118.22,248.22H120.82M118.22,237.14H120.82M118.22,226.06H120.82M118.22,214.98H120.82M118.22,203.90H120.82" stroke="#000" stroke-width="0.9"/>
<path d="M119.52,257.08H120.82M119.52,254.87H120.82M119.52,252.65H120.82M119.52,250.44H120.82M119.52,246.00H120.82M119.52,243.79H120.82M119.52,241.57H120.82M119.52,239.36H120.82M119.52,234.92H120.82M119.52,232.71H120.82M119.52,230.49H120.82M119.52,228.28H120.82M119.52,223.84H120.82M119.52,221.63H120.82M119.52,219.41H120.82M119.52,217.20H120.82M119.52,212.76H120.82M119.52,210.55H120.82M119.52,208.33H120.82M119.52,206.12H120.82" stroke="#000" stroke-width="0.6"/>
<text x="116.62" y="261.10" font-size="5.2" text-anchor="end" fill="#555" font-weight="bold" textLength="3.00" lengthAdjust="spacingAndGlyphs" >0</text>
<text x="116.62" y="250.02" font-size="5.2" text-anchor="end" fill="#555" font-weight="bold" textLength="6.00" lengthAdjust="spacingAndGlyphs" >20</text>
<text x="116.62" y="238.94" font-size="5.2" text-anchor="end" fill="#555" font-weight="bold" textLength="6.00" lengthAdjust="spacingAndGlyphs" >40</text>
<text x="116.62" y="227.86" font-size="5.2" text-anchor="end" fill="#555" font-weight="bold" textLength="6.00" lengthAdjust="spacingAndGlyphs" >60</text>
<text x="116.62" y="216.78" font-size="5.2" text-anchor="end" fill="#555" font-weight="bold" textLength="6.00" lengthAdjust="spacingAndGlyphs" >80</text>
<text x="116.62" y="205.70" font-size="5.2" text-anchor="end" fill="#555" font-weight="bold" textLength="9.00" lengthAdjust="spacingAndGlyphs" >100</text>
<path d="M120.82,259.30v1.6M123.05,259.30v1.6M125.28,259.30v1.6M127.51,259.30v1.6M129.74,259.30v1.6M131.97,259.30v1.6M134.20,259.30v1.6M136.44,259.30v1.6M138.67,259.30v1.6M140.90,259.30v1.6M143.13,259.30v1.6M145.36,259.30v1.6M147.59,259.30v1.6M149.82,259.30v1.6M152.05,259.30v1.6M154.28,259.30v1.6M156.51,259.30v1.6M158.74,259.30v1.6M160.97,259.30v1.6M163.20,259.30v1.6M165.44,259.30v1.6M167.67,259.30v1.6M169.90,259.30v1.6M172.13,259.30v1.6M174.36,259.30v1.6M176.59,259.30v1.6M178.82,259.30v1.6" stroke="#000" stroke-width="0.6"/>
<path d="M120.31,259.30v2.6M129.12,259.30v2.6M139.16,259.30v2.6M149.94,259.30v2.6M161.37,259.30v2.6M172.22,259.30v2.6" stroke="#000" stroke-width="0.9"/>
<text x="120.81" y="269.60" font-size="5.5" text-anchor="middle" fill="#444" font-weight="bold" textLength="5.4" lengthAdjust="spacingAndGlyphs">10</text>
<text x="124.21" y="267.20" font-size="3.2" text-anchor="middle" fill="#444" font-weight="bold">0</text>
<text x="129.62" y="269.60" font-size="5.5" text-anchor="middle" fill="#444" font-weight="bold" textLength="5.4" lengthAdjust="spacingAndGlyphs">10</text>
<text x="133.02" y="267.20" font-size="3.2" text-anchor="middle" fill="#444" font-weight="bold">1</text>
<text x="139.66" y="269.60" font-size="5.5" text-anchor="middle" fill="#444" font-weight="bold" textLength="5.4" lengthAdjust="spacingAndGlyphs">10</text>
<text x="143.06" y="267.20" font-size="3.2" text-anchor="middle" fill="#444" font-weight="bold">2</text>
<text x="150.44" y="269.60" font-size="5.5" text-anchor="middle" fill="#444" font-weight="bold" textLength="5.4" lengthAdjust="spacingAndGlyphs">10</text>
<text x="153.84" y="267.20" font-size="3.2" text-anchor="middle" fill="#444" font-weight="bold">3</text>
<text x="161.87" y="269.60" font-size="5.5" text-anchor="middle" fill="#444" font-weight="bold" textLength="5.4" lengthAdjust="spacingAndGlyphs">10</text>
<text x="165.27" y="267.20" font-size="3.2" text-anchor="middle" fill="#444" font-weight="bold">4</text>
<text x="172.72" y="269.60" font-size="5.5" text-anchor="middle" fill="#444" font-weight="bold" textLength="5.4" lengthAdjust="spacingAndGlyphs">10</text>
<text x="176.12" y="267.20" font-size="3.2" text-anchor="middle" fill="#444" font-weight="bold">5</text>
<text x="149.82" y="279.00" font-size="7.0" text-anchor="middle" fill="#333" font-weight="bold" textLength="12.50" lengthAdjust="spacingAndGlyphs" >CD14</text>
<text x="149.10" y="197.60" font-size="8.0" text-anchor="middle" fill="#222" textLength="15.63" lengthAdjust="spacingAndGlyphs" >+IL6</text>
<clipPath id="c120_302"><rect x="120.82" y="302.00" width="58.00" height="58.10"/></clipPath>
<g clip-path="url(#c120_302)">
<path d="M120.82,360.10 L121.90,359.43 L123.92,354.71 L125.93,349.31 L127.28,339.87 L128.63,329.08 L129.97,316.94 L130.64,311.55 L131.99,310.87 L133.34,310.87 L134.68,319.64 L135.35,321.66 L136.70,325.03 L138.05,326.65 L140.06,329.08 L141.01,332.45 L142.08,333.80 L143.43,331.10 L144.50,330.70 L145.45,330.43 L146.39,330.16 L147.47,329.75 L148.54,331.78 L149.48,333.80 L151.50,337.17 L153.52,341.22 L155.54,342.57 L158.23,346.61 L160.92,348.64 L163.61,350.66 L166.30,353.36 L169.00,357.40 L171.69,359.43 L178.82,360.10" fill="none" stroke="#3f4a70" stroke-width="1.05" stroke-linejoin="round"/>
<path d="M133.34,360.10 L133.34,360.10 L135.22,358.62 L137.10,357.13 L138.72,355.78 L140.06,354.17 L141.41,352.01 L142.62,350.12 L143.83,348.37 L145.04,346.75 L146.12,344.19 L147.06,341.76 L148.00,340.27 L149.08,339.74 L150.02,339.20 L150.83,338.52 L151.50,337.71 L152.31,336.50 L152.98,334.75 L153.52,332.45 L153.92,329.89 L154.46,325.84 L155.00,329.89 L155.54,331.51 L155.94,331.78 L156.48,330.97 L156.88,330.83 L157.69,328.54 L158.37,325.84 L158.90,323.15 L159.44,320.85 L159.85,322.34 L160.38,321.93 L160.92,319.91 L161.46,320.45 L162.13,318.56 L162.94,317.48 L163.61,316.40 L164.42,314.92 L164.96,313.44 L165.50,312.36 L165.90,311.41 L166.44,313.17 L166.84,313.98 L167.38,315.19 L167.79,315.46 L168.32,314.11 L168.86,314.52 L169.40,317.62 L169.80,319.91 L170.34,323.01 L170.75,324.36 L171.28,325.44 L171.82,325.84 L172.23,329.75 L172.76,333.80 L173.30,337.17 L173.84,339.74 L174.38,342.57 L174.78,344.73 L175.72,349.72 L176.80,353.63 L177.74,355.11 L178.82,355.78 L178.82,360.10 Z" fill="#c84f3b" fill-opacity="0.65" stroke="none"/>
<path d="M133.34,360.10 L135.22,358.62 L137.10,357.13 L138.72,355.78 L140.06,354.17 L141.41,352.01 L142.62,350.12 L143.83,348.37 L145.04,346.75 L146.12,344.19 L147.06,341.76 L148.00,340.27 L149.08,339.74 L150.02,339.20 L150.83,338.52 L151.50,337.71 L152.31,336.50 L152.98,334.75 L153.52,332.45 L153.92,329.89 L154.46,325.84 L155.00,329.89 L155.54,331.51 L155.94,331.78 L156.48,330.97 L156.88,330.83 L157.69,328.54 L158.37,325.84 L158.90,323.15 L159.44,320.85 L159.85,322.34 L160.38,321.93 L160.92,319.91 L161.46,320.45 L162.13,318.56 L162.94,317.48 L163.61,316.40 L164.42,314.92 L164.96,313.44 L165.50,312.36 L165.90,311.41 L166.44,313.17 L166.84,313.98 L167.38,315.19 L167.79,315.46 L168.32,314.11 L168.86,314.52 L169.40,317.62 L169.80,319.91 L170.34,323.01 L170.75,324.36 L171.28,325.44 L171.82,325.84 L172.23,329.75 L172.76,333.80 L173.30,337.17 L173.84,339.74 L174.38,342.57 L174.78,344.73 L175.72,349.72 L176.80,353.63 L177.74,355.11 L178.82,355.78" fill="none" stroke="#9a102e" stroke-width="1.35" stroke-linejoin="round"/>
</g>
<rect x="120.82" y="302.00" width="58.00" height="58.10" fill="none" stroke="#000" stroke-width="1.3"/>
<path d="M118.22,360.10H120.82M118.22,348.96H120.82M118.22,337.82H120.82M118.22,326.68H120.82M118.22,315.54H120.82M118.22,304.40H120.82" stroke="#000" stroke-width="0.9"/>
<path d="M119.52,357.87H120.82M119.52,355.64H120.82M119.52,353.42H120.82M119.52,351.19H120.82M119.52,346.73H120.82M119.52,344.50H120.82M119.52,342.28H120.82M119.52,340.05H120.82M119.52,335.59H120.82M119.52,333.36H120.82M119.52,331.14H120.82M119.52,328.91H120.82M119.52,324.45H120.82M119.52,322.22H120.82M119.52,320.00H120.82M119.52,317.77H120.82M119.52,313.31H120.82M119.52,311.08H120.82M119.52,308.86H120.82M119.52,306.63H120.82" stroke="#000" stroke-width="0.6"/>
<text x="116.62" y="361.90" font-size="5.2" text-anchor="end" fill="#555" font-weight="bold" textLength="3.00" lengthAdjust="spacingAndGlyphs" >0</text>
<text x="116.62" y="350.76" font-size="5.2" text-anchor="end" fill="#555" font-weight="bold" textLength="6.00" lengthAdjust="spacingAndGlyphs" >20</text>
<text x="116.62" y="339.62" font-size="5.2" text-anchor="end" fill="#555" font-weight="bold" textLength="6.00" lengthAdjust="spacingAndGlyphs" >40</text>
<text x="116.62" y="328.48" font-size="5.2" text-anchor="end" fill="#555" font-weight="bold" textLength="6.00" lengthAdjust="spacingAndGlyphs" >60</text>
<text x="116.62" y="317.34" font-size="5.2" text-anchor="end" fill="#555" font-weight="bold" textLength="6.00" lengthAdjust="spacingAndGlyphs" >80</text>
<text x="116.62" y="306.20" font-size="5.2" text-anchor="end" fill="#555" font-weight="bold" textLength="9.00" lengthAdjust="spacingAndGlyphs" >100</text>
<path d="M120.82,360.10v1.6M123.05,360.10v1.6M125.28,360.10v1.6M127.51,360.10v1.6M129.74,360.10v1.6M131.97,360.10v1.6M134.20,360.10v1.6M136.44,360.10v1.6M138.67,360.10v1.6M140.90,360.10v1.6M143.13,360.10v1.6M145.36,360.10v1.6M147.59,360.10v1.6M149.82,360.10v1.6M152.05,360.10v1.6M154.28,360.10v1.6M156.51,360.10v1.6M158.74,360.10v1.6M160.97,360.10v1.6M163.20,360.10v1.6M165.44,360.10v1.6M167.67,360.10v1.6M169.90,360.10v1.6M172.13,360.10v1.6M174.36,360.10v1.6M176.59,360.10v1.6M178.82,360.10v1.6" stroke="#000" stroke-width="0.6"/>
<path d="M129.30,360.10v2.6M148.49,360.10v2.6M167.58,360.10v2.6" stroke="#000" stroke-width="0.9"/>
<text x="129.80" y="371.00" font-size="5.5" text-anchor="middle" fill="#444" font-weight="bold" textLength="5.4" lengthAdjust="spacingAndGlyphs">10</text>
<text x="133.20" y="368.60" font-size="3.2" text-anchor="middle" fill="#444" font-weight="bold">3</text>
<text x="148.99" y="371.00" font-size="5.5" text-anchor="middle" fill="#444" font-weight="bold" textLength="5.4" lengthAdjust="spacingAndGlyphs">10</text>
<text x="152.39" y="368.60" font-size="3.2" text-anchor="middle" fill="#444" font-weight="bold">4</text>
<text x="168.08" y="371.00" font-size="5.5" text-anchor="middle" fill="#444" font-weight="bold" textLength="5.4" lengthAdjust="spacingAndGlyphs">10</text>
<text x="171.48" y="368.60" font-size="3.2" text-anchor="middle" fill="#444" font-weight="bold">5</text>
<text x="149.82" y="379.80" font-size="7.0" text-anchor="middle" fill="#333" font-weight="bold" textLength="14.00" lengthAdjust="spacingAndGlyphs" >CD117</text>
<clipPath id="c203_201"><rect x="203.29" y="201.50" width="58.00" height="57.80"/></clipPath>
<g clip-path="url(#c203_201)">
<path d="M203.29,259.30 L207.55,259.30 L210.89,258.64 L213.89,257.42 L216.89,255.42 L219.23,252.54 L221.23,249.33 L222.56,244.62 L223.89,238.25 L225.43,229.77 L226.90,221.63 L228.23,214.98 L229.03,209.44 L229.56,206.39 L229.91,209.44 L230.38,214.98 L231.19,221.63 L232.17,229.77 L232.75,238.25 L233.28,244.62 L233.91,249.33 L234.32,250.99 L235.77,253.76 L237.51,254.04 L239.83,254.87 L242.15,256.53 L244.47,258.19 L246.21,259.30 L261.29,259.30" fill="none" stroke="#3f4a70" stroke-width="1.05" stroke-linejoin="round"/>
<path d="M203.29,259.30 L203.29,259.30 L210.42,259.30 L213.32,258.64 L215.93,257.42 L218.54,255.42 L220.57,252.54 L222.31,249.33 L223.47,244.62 L224.63,238.25 L225.97,229.77 L227.24,221.63 L228.40,214.98 L229.10,209.44 L229.56,206.39 L229.91,209.44 L230.38,214.98 L231.19,221.63 L232.17,229.77 L232.75,238.25 L233.28,244.62 L233.91,249.33 L234.67,252.54 L235.54,255.42 L236.81,257.42 L238.26,258.64 L240.58,259.30 L261.29,259.30 L261.29,259.30 Z" fill="#c84f3b" fill-opacity="0.65" stroke="none"/>
<path d="M203.29,259.30 L210.42,259.30 L213.32,258.64 L215.93,257.42 L218.54,255.42 L220.57,252.54 L222.31,249.33 L223.47,244.62 L224.63,238.25 L225.97,229.77 L227.24,221.63 L228.40,214.98 L229.10,209.44 L229.56,206.39 L229.91,209.44 L230.38,214.98 L231.19,221.63 L232.17,229.77 L232.75,238.25 L233.28,244.62 L233.91,249.33 L234.67,252.54 L235.54,255.42 L236.81,257.42 L238.26,258.64 L240.58,259.30 L261.29,259.30" fill="none" stroke="#9a102e" stroke-width="1.35" stroke-linejoin="round"/>
</g>
<rect x="203.29" y="201.50" width="58.00" height="57.80" fill="none" stroke="#000" stroke-width="1.3"/>
<path d="M200.69,259.30H203.29M200.69,248.22H203.29M200.69,237.14H203.29M200.69,226.06H203.29M200.69,214.98H203.29M200.69,203.90H203.29" stroke="#000" stroke-width="0.9"/>
<path d="M201.99,257.08H203.29M201.99,254.87H203.29M201.99,252.65H203.29M201.99,250.44H203.29M201.99,246.00H203.29M201.99,243.79H203.29M201.99,241.57H203.29M201.99,239.36H203.29M201.99,234.92H203.29M201.99,232.71H203.29M201.99,230.49H203.29M201.99,228.28H203.29M201.99,223.84H203.29M201.99,221.63H203.29M201.99,219.41H203.29M201.99,217.20H203.29M201.99,212.76H203.29M201.99,210.55H203.29M201.99,208.33H203.29M201.99,206.12H203.29" stroke="#000" stroke-width="0.6"/>
<text x="199.09" y="261.10" font-size="5.2" text-anchor="end" fill="#555" font-weight="bold" textLength="3.00" lengthAdjust="spacingAndGlyphs" >0</text>
<text x="199.09" y="250.02" font-size="5.2" text-anchor="end" fill="#555" font-weight="bold" textLength="6.00" lengthAdjust="spacingAndGlyphs" >20</text>
<text x="199.09" y="238.94" font-size="5.2" text-anchor="end" fill="#555" font-weight="bold" textLength="6.00" lengthAdjust="spacingAndGlyphs" >40</text>
<text x="199.09" y="227.86" font-size="5.2" text-anchor="end" fill="#555" font-weight="bold" textLength="6.00" lengthAdjust="spacingAndGlyphs" >60</text>
<text x="199.09" y="216.78" font-size="5.2" text-anchor="end" fill="#555" font-weight="bold" textLength="6.00" lengthAdjust="spacingAndGlyphs" >80</text>
<text x="199.09" y="205.70" font-size="5.2" text-anchor="end" fill="#555" font-weight="bold" textLength="9.00" lengthAdjust="spacingAndGlyphs" >100</text>
<path d="M203.29,259.30v1.6M205.52,259.30v1.6M207.75,259.30v1.6M209.98,259.30v1.6M212.21,259.30v1.6M214.44,259.30v1.6M216.67,259.30v1.6M218.91,259.30v1.6M221.14,259.30v1.6M223.37,259.30v1.6M225.60,259.30v1.6M227.83,259.30v1.6M230.06,259.30v1.6M232.29,259.30v1.6M234.52,259.30v1.6M236.75,259.30v1.6M238.98,259.30v1.6M241.21,259.30v1.6M243.44,259.30v1.6M245.67,259.30v1.6M247.91,259.30v1.6M250.14,259.30v1.6M252.37,259.30v1.6M254.60,259.30v1.6M256.83,259.30v1.6M259.06,259.30v1.6M261.29,259.30v1.6" stroke="#000" stroke-width="0.6"/>
<path d="M202.78,259.30v2.6M211.59,259.30v2.6M221.63,259.30v2.6M232.41,259.30v2.6M243.84,259.30v2.6M254.69,259.30v2.6" stroke="#000" stroke-width="0.9"/>
<text x="203.28" y="269.60" font-size="5.5" text-anchor="middle" fill="#444" font-weight="bold" textLength="5.4" lengthAdjust="spacingAndGlyphs">10</text>
<text x="206.68" y="267.20" font-size="3.2" text-anchor="middle" fill="#444" font-weight="bold">0</text>
<text x="212.09" y="269.60" font-size="5.5" text-anchor="middle" fill="#444" font-weight="bold" textLength="5.4" lengthAdjust="spacingAndGlyphs">10</text>
<text x="215.49" y="267.20" font-size="3.2" text-anchor="middle" fill="#444" font-weight="bold">1</text>
<text x="222.13" y="269.60" font-size="5.5" text-anchor="middle" fill="#444" font-weight="bold" textLength="5.4" lengthAdjust="spacingAndGlyphs">10</text>
<text x="225.53" y="267.20" font-size="3.2" text-anchor="middle" fill="#444" font-weight="bold">2</text>
<text x="232.91" y="269.60" font-size="5.5" text-anchor="middle" fill="#444" font-weight="bold" textLength="5.4" lengthAdjust="spacingAndGlyphs">10</text>
<text x="236.31" y="267.20" font-size="3.2" text-anchor="middle" fill="#444" font-weight="bold">3</text>
<text x="244.34" y="269.60" font-size="5.5" text-anchor="middle" fill="#444" font-weight="bold" textLength="5.4" lengthAdjust="spacingAndGlyphs">10</text>
<text x="247.74" y="267.20" font-size="3.2" text-anchor="middle" fill="#444" font-weight="bold">4</text>
<text x="255.19" y="269.60" font-size="5.5" text-anchor="middle" fill="#444" font-weight="bold" textLength="5.4" lengthAdjust="spacingAndGlyphs">10</text>
<text x="258.59" y="267.20" font-size="3.2" text-anchor="middle" fill="#444" font-weight="bold">5</text>
<text x="232.29" y="279.00" font-size="7.0" text-anchor="middle" fill="#333" font-weight="bold" textLength="12.50" lengthAdjust="spacingAndGlyphs" >CD14</text>
<text x="227.20" y="197.60" font-size="8.0" text-anchor="middle" fill="#222" textLength="20.91" lengthAdjust="spacingAndGlyphs" >+TPO</text>
<clipPath id="c203_302"><rect x="203.29" y="302.00" width="58.00" height="58.10"/></clipPath>
<g clip-path="url(#c203_302)">
<path d="M203.29,360.10 L204.37,360.10 L205.71,357.40 L207.06,354.71 L208.40,350.66 L209.75,345.26 L210.83,337.17 L211.77,327.73 L212.71,319.64 L213.52,312.90 L214.46,309.52 L215.81,312.22 L217.15,318.29 L218.50,323.01 L219.17,325.03 L219.84,324.36 L221.19,327.06 L222.53,330.43 L223.88,329.08 L225.23,328.00 L226.57,328.41 L227.92,329.75 L229.26,328.41 L230.20,328.00 L231.28,333.13 L232.63,334.48 L234.64,338.52 L236.66,341.22 L239.35,342.57 L242.05,344.59 L244.74,346.61 L247.43,350.66 L250.12,354.71 L252.81,358.08 L256.85,359.83 L261.29,360.10" fill="none" stroke="#3f4a70" stroke-width="1.05" stroke-linejoin="round"/>
<path d="M215.81,360.10 L215.81,360.10 L217.69,358.62 L219.57,357.13 L221.19,355.78 L222.53,354.17 L223.88,352.01 L225.09,350.12 L226.30,348.37 L227.51,346.75 L228.59,344.19 L229.53,341.76 L230.47,340.27 L231.55,339.74 L232.49,339.20 L233.30,338.52 L233.97,337.71 L234.78,336.50 L235.45,334.75 L235.99,332.45 L236.39,329.89 L236.93,325.84 L237.47,329.89 L238.01,331.51 L238.41,331.78 L238.95,330.97 L239.35,330.83 L240.16,328.54 L240.84,325.84 L241.37,323.15 L241.91,320.85 L242.32,322.34 L242.85,321.93 L243.39,319.91 L243.93,320.45 L244.60,318.56 L245.41,317.48 L246.08,316.40 L246.89,314.92 L247.43,313.44 L247.97,312.36 L248.37,311.41 L248.91,313.17 L249.31,313.98 L249.85,315.19 L250.26,315.46 L250.79,314.11 L251.33,314.52 L251.87,317.62 L252.27,319.91 L252.81,323.01 L253.22,324.36 L253.75,325.44 L254.29,325.84 L254.70,329.75 L255.23,333.80 L255.77,337.17 L256.31,339.74 L256.85,342.57 L257.25,344.73 L258.19,349.72 L259.27,353.63 L260.21,355.11 L261.29,355.78 L261.29,360.10 Z" fill="#c84f3b" fill-opacity="0.65" stroke="none"/>
<path d="M215.81,360.10 L217.69,358.62 L219.57,357.13 L221.19,355.78 L222.53,354.17 L223.88,352.01 L225.09,350.12 L226.30,348.37 L227.51,346.75 L228.59,344.19 L229.53,341.76 L230.47,340.27 L231.55,339.74 L232.49,339.20 L233.30,338.52 L233.97,337.71 L234.78,336.50 L235.45,334.75 L235.99,332.45 L236.39,329.89 L236.93,325.84 L237.47,329.89 L238.01,331.51 L238.41,331.78 L238.95,330.97 L239.35,330.83 L240.16,328.54 L240.84,325.84 L241.37,323.15 L241.91,320.85 L242.32,322.34 L242.85,321.93 L243.39,319.91 L243.93,320.45 L244.60,318.56 L245.41,317.48 L246.08,316.40 L246.89,314.92 L247.43,313.44 L247.97,312.36 L248.37,311.41 L248.91,313.17 L249.31,313.98 L249.85,315.19 L250.26,315.46 L250.79,314.11 L251.33,314.52 L251.87,317.62 L252.27,319.91 L252.81,323.01 L253.22,324.36 L253.75,325.44 L254.29,325.84 L254.70,329.75 L255.23,333.80 L255.77,337.17 L256.31,339.74 L256.85,342.57 L257.25,344.73 L258.19,349.72 L259.27,353.63 L260.21,355.11 L261.29,355.78" fill="none" stroke="#9a102e" stroke-width="1.35" stroke-linejoin="round"/>
</g>
<rect x="203.29" y="302.00" width="58.00" height="58.10" fill="none" stroke="#000" stroke-width="1.3"/>
<path d="M200.69,360.10H203.29M200.69,348.96H203.29M200.69,337.82H203.29M200.69,326.68H203.29M200.69,315.54H203.29M200.69,304.40H203.29" stroke="#000" stroke-width="0.9"/>
<path d="M201.99,357.87H203.29M201.99,355.64H203.29M201.99,353.42H203.29M201.99,351.19H203.29M201.99,346.73H203.29M201.99,344.50H203.29M201.99,342.28H203.29M201.99,340.05H203.29M201.99,335.59H203.29M201.99,333.36H203.29M201.99,331.14H203.29M201.99,328.91H203.29M201.99,324.45H203.29M201.99,322.22H203.29M201.99,320.00H203.29M201.99,317.77H203.29M201.99,313.31H203.29M201.99,311.08H203.29M201.99,308.86H203.29M201.99,306.63H203.29" stroke="#000" stroke-width="0.6"/>
<text x="199.09" y="361.90" font-size="5.2" text-anchor="end" fill="#555" font-weight="bold" textLength="3.00" lengthAdjust="spacingAndGlyphs" >0</text>
<text x="199.09" y="350.76" font-size="5.2" text-anchor="end" fill="#555" font-weight="bold" textLength="6.00" lengthAdjust="spacingAndGlyphs" >20</text>
<text x="199.09" y="339.62" font-size="5.2" text-anchor="end" fill="#555" font-weight="bold" textLength="6.00" lengthAdjust="spacingAndGlyphs" >40</text>
<text x="199.09" y="328.48" font-size="5.2" text-anchor="end" fill="#555" font-weight="bold" textLength="6.00" lengthAdjust="spacingAndGlyphs" >60</text>
<text x="199.09" y="317.34" font-size="5.2" text-anchor="end" fill="#555" font-weight="bold" textLength="6.00" lengthAdjust="spacingAndGlyphs" >80</text>
<text x="199.09" y="306.20" font-size="5.2" text-anchor="end" fill="#555" font-weight="bold" textLength="9.00" lengthAdjust="spacingAndGlyphs" >100</text>
<path d="M203.29,360.10v1.6M205.52,360.10v1.6M207.75,360.10v1.6M209.98,360.10v1.6M212.21,360.10v1.6M214.44,360.10v1.6M216.67,360.10v1.6M218.91,360.10v1.6M221.14,360.10v1.6M223.37,360.10v1.6M225.60,360.10v1.6M227.83,360.10v1.6M230.06,360.10v1.6M232.29,360.10v1.6M234.52,360.10v1.6M236.75,360.10v1.6M238.98,360.10v1.6M241.21,360.10v1.6M243.44,360.10v1.6M245.67,360.10v1.6M247.91,360.10v1.6M250.14,360.10v1.6M252.37,360.10v1.6M254.60,360.10v1.6M256.83,360.10v1.6M259.06,360.10v1.6M261.29,360.10v1.6" stroke="#000" stroke-width="0.6"/>
<path d="M211.77,360.10v2.6M230.96,360.10v2.6M250.05,360.10v2.6" stroke="#000" stroke-width="0.9"/>
<text x="212.27" y="371.00" font-size="5.5" text-anchor="middle" fill="#444" font-weight="bold" textLength="5.4" lengthAdjust="spacingAndGlyphs">10</text>
<text x="215.67" y="368.60" font-size="3.2" text-anchor="middle" fill="#444" font-weight="bold">3</text>
<text x="231.46" y="371.00" font-size="5.5" text-anchor="middle" fill="#444" font-weight="bold" textLength="5.4" lengthAdjust="spacingAndGlyphs">10</text>
<text x="234.86" y="368.60" font-size="3.2" text-anchor="middle" fill="#444" font-weight="bold">4</text>
<text x="250.55" y="371.00" font-size="5.5" text-anchor="middle" fill="#444" font-weight="bold" textLength="5.4" lengthAdjust="spacingAndGlyphs">10</text>
<text x="253.95" y="368.60" font-size="3.2" text-anchor="middle" fill="#444" font-weight="bold">5</text>
<text x="232.29" y="379.80" font-size="7.0" text-anchor="middle" fill="#333" font-weight="bold" textLength="14.00" lengthAdjust="spacingAndGlyphs" >CD117</text>
<clipPath id="c285_201"><rect x="285.76" y="201.50" width="58.00" height="57.80"/></clipPath>
<g clip-path="url(#c285_201)">
<path d="M285.76,259.30 L290.92,259.30 L294.11,258.64 L296.98,257.42 L299.85,255.42 L302.09,252.54 L304.00,249.33 L305.28,244.62 L306.55,238.25 L308.02,229.77 L309.42,221.63 L310.70,214.98 L311.47,209.44 L311.98,206.39 L312.32,209.44 L312.79,214.98 L313.60,221.63 L314.59,229.77 L315.17,238.25 L315.69,244.62 L316.33,249.33 L317.08,252.54 L318.53,256.53 L320.56,258.47 L324.04,258.75 L327.52,258.19 L329.26,257.64 L331.00,258.75 L332.16,259.30 L343.76,259.30" fill="none" stroke="#3f4a70" stroke-width="1.05" stroke-linejoin="round"/>
<path d="M285.76,259.30 L285.76,259.30 L292.84,259.30 L295.74,258.64 L298.35,257.42 L300.96,255.42 L302.99,252.54 L304.73,249.33 L305.89,244.62 L307.05,238.25 L308.38,229.77 L309.66,221.63 L310.82,214.98 L311.51,209.44 L311.98,206.39 L312.32,209.44 L312.79,214.98 L313.60,221.63 L314.59,229.77 L315.17,238.25 L315.69,244.62 L316.33,249.33 L317.08,252.54 L317.95,255.42 L319.23,257.42 L320.68,258.64 L323.00,259.30 L343.76,259.30 L343.76,259.30 Z" fill="#c84f3b" fill-opacity="0.65" stroke="none"/>
<path d="M285.76,259.30 L292.84,259.30 L295.74,258.64 L298.35,257.42 L300.96,255.42 L302.99,252.54 L304.73,249.33 L305.89,244.62 L307.05,238.25 L308.38,229.77 L309.66,221.63 L310.82,214.98 L311.51,209.44 L311.98,206.39 L312.32,209.44 L312.79,214.98 L313.60,221.63 L314.59,229.77 L315.17,238.25 L315.69,244.62 L316.33,249.33 L317.08,252.54 L317.95,255.42 L319.23,257.42 L320.68,258.64 L323.00,259.30 L343.76,259.30" fill="none" stroke="#9a102e" stroke-width="1.35" stroke-linejoin="round"/>
</g>
<rect x="285.76" y="201.50" width="58.00" height="57.80" fill="none" stroke="#000" stroke-width="1.3"/>
<path d="M283.16,259.30H285.76M283.16,248.22H285.76M283.16,237.14H285.76M283.16,226.06H285.76M283.16,214.98H285.76M283.16,203.90H285.76" stroke="#000" stroke-width="0.9"/>
<path d="M284.46,257.08H285.76M284.46,254.87H285.76M284.46,252.65H285.76M284.46,250.44H285.76M284.46,246.00H285.76M284.46,243.79H285.76M284.46,241.57H285.76M284.46,239.36H285.76M284.46,234.92H285.76M284.46,232.71H285.76M284.46,230.49H285.76M284.46,228.28H285.76M284.46,223.84H285.76M284.46,221.63H285.76M284.46,219.41H285.76M284.46,217.20H285.76M284.46,212.76H285.76M284.46,210.55H285.76M284.46,208.33H285.76M284.46,206.12H285.76" stroke="#000" stroke-width="0.6"/>
<text x="281.56" y="261.10" font-size="5.2" text-anchor="end" fill="#555" font-weight="bold" textLength="3.00" lengthAdjust="spacingAndGlyphs" >0</text>
<text x="281.56" y="250.02" font-size="5.2" text-anchor="end" fill="#555" font-weight="bold" textLength="6.00" lengthAdjust="spacingAndGlyphs" >20</text>
<text x="281.56" y="238.94" font-size="5.2" text-anchor="end" fill="#555" font-weight="bold" textLength="6.00" lengthAdjust="spacingAndGlyphs" >40</text>
<text x="281.56" y="227.86" font-size="5.2" text-anchor="end" fill="#555" font-weight="bold" textLength="6.00" lengthAdjust="spacingAndGlyphs" >60</text>
<text x="281.56" y="216.78" font-size="5.2" text-anchor="end" fill="#555" font-weight="bold" textLength="6.00" lengthAdjust="spacingAndGlyphs" >80</text>
<text x="281.56" y="205.70" font-size="5.2" text-anchor="end" fill="#555" font-weight="bold" textLength="9.00" lengthAdjust="spacingAndGlyphs" >100</text>
<path d="M285.76,259.30v1.6M287.99,259.30v1.6M290.22,259.30v1.6M292.45,259.30v1.6M294.68,259.30v1.6M296.91,259.30v1.6M299.14,259.30v1.6M301.38,259.30v1.6M303.61,259.30v1.6M305.84,259.30v1.6M308.07,259.30v1.6M310.30,259.30v1.6M312.53,259.30v1.6M314.76,259.30v1.6M316.99,259.30v1.6M319.22,259.30v1.6M321.45,259.30v1.6M323.68,259.30v1.6M325.91,259.30v1.6M328.14,259.30v1.6M330.38,259.30v1.6M332.61,259.30v1.6M334.84,259.30v1.6M337.07,259.30v1.6M339.30,259.30v1.6M341.53,259.30v1.6M343.76,259.30v1.6" stroke="#000" stroke-width="0.6"/>
<path d="M285.25,259.30v2.6M294.06,259.30v2.6M304.10,259.30v2.6M314.88,259.30v2.6M326.31,259.30v2.6M337.16,259.30v2.6" stroke="#000" stroke-width="0.9"/>
<text x="285.75" y="269.60" font-size="5.5" text-anchor="middle" fill="#444" font-weight="bold" textLength="5.4" lengthAdjust="spacingAndGlyphs">10</text>
<text x="289.15" y="267.20" font-size="3.2" text-anchor="middle" fill="#444" font-weight="bold">0</text>
<text x="294.56" y="269.60" font-size="5.5" text-anchor="middle" fill="#444" font-weight="bold" textLength="5.4" lengthAdjust="spacingAndGlyphs">10</text>
<text x="297.96" y="267.20" font-size="3.2" text-anchor="middle" fill="#444" font-weight="bold">1</text>
<text x="304.60" y="269.60" font-size="5.5" text-anchor="middle" fill="#444" font-weight="bold" textLength="5.4" lengthAdjust="spacingAndGlyphs">10</text>
<text x="308.00" y="267.20" font-size="3.2" text-anchor="middle" fill="#444" font-weight="bold">2</text>
<text x="315.38" y="269.60" font-size="5.5" text-anchor="middle" fill="#444" font-weight="bold" textLength="5.4" lengthAdjust="spacingAndGlyphs">10</text>
<text x="318.78" y="267.20" font-size="3.2" text-anchor="middle" fill="#444" font-weight="bold">3</text>
<text x="326.81" y="269.60" font-size="5.5" text-anchor="middle" fill="#444" font-weight="bold" textLength="5.4" lengthAdjust="spacingAndGlyphs">10</text>
<text x="330.21" y="267.20" font-size="3.2" text-anchor="middle" fill="#444" font-weight="bold">4</text>
<text x="337.66" y="269.60" font-size="5.5" text-anchor="middle" fill="#444" font-weight="bold" textLength="5.4" lengthAdjust="spacingAndGlyphs">10</text>
<text x="341.06" y="267.20" font-size="3.2" text-anchor="middle" fill="#444" font-weight="bold">5</text>
<text x="314.76" y="279.00" font-size="7.0" text-anchor="middle" fill="#333" font-weight="bold" textLength="12.50" lengthAdjust="spacingAndGlyphs" >CD14</text>
<text x="305.80" y="197.60" font-size="8.0" text-anchor="middle" fill="#222" textLength="20.47" lengthAdjust="spacingAndGlyphs" >+SCF</text>
<clipPath id="c285_302"><rect x="285.76" y="302.00" width="58.00" height="58.10"/></clipPath>
<g clip-path="url(#c285_302)">
<path d="M285.76,360.10 L288.18,360.10 L292.22,358.08 L294.91,352.01 L296.93,345.26 L298.28,341.22 L299.62,341.89 L301.64,338.52 L303.66,336.50 L305.68,334.48 L307.02,333.13 L308.37,330.43 L309.71,329.75 L311.06,328.41 L312.41,325.71 L313.75,323.69 L315.10,319.64 L316.17,312.90 L317.11,316.94 L317.79,320.31 L318.86,314.25 L319.81,315.59 L321.15,320.99 L322.50,323.69 L323.17,326.38 L324.52,331.78 L325.86,337.17 L327.21,342.57 L328.55,347.96 L329.90,353.36 L331.92,357.40 L333.94,359.43 L336.63,360.10 L343.76,360.10" fill="none" stroke="#3f4a70" stroke-width="1.05" stroke-linejoin="round"/>
<path d="M298.28,360.10 L298.28,360.10 L300.16,358.62 L302.04,357.13 L303.66,355.78 L305.00,354.17 L306.35,352.01 L307.56,350.12 L308.77,348.37 L309.98,346.75 L311.06,344.19 L312.00,341.76 L312.94,340.27 L314.02,339.74 L314.96,339.20 L315.77,338.52 L316.44,337.71 L317.25,336.50 L317.92,334.75 L318.46,332.45 L318.86,329.89 L319.40,325.84 L319.94,329.89 L320.48,331.51 L320.88,331.78 L321.42,330.97 L321.82,330.83 L322.63,328.54 L323.31,325.84 L323.84,323.15 L324.38,320.85 L324.79,322.34 L325.32,321.93 L325.86,319.91 L326.40,320.45 L327.07,318.56 L327.88,317.48 L328.55,316.40 L329.36,314.92 L329.90,313.44 L330.44,312.36 L330.84,311.41 L331.38,313.17 L331.78,313.98 L332.32,315.19 L332.73,315.46 L333.26,314.11 L333.80,314.52 L334.34,317.62 L334.74,319.91 L335.28,323.01 L335.69,324.36 L336.22,325.44 L336.76,325.84 L337.17,329.75 L337.70,333.80 L338.24,337.17 L338.78,339.74 L339.32,342.57 L339.72,344.73 L340.66,349.72 L341.74,353.63 L342.68,355.11 L343.76,355.78 L343.76,360.10 Z" fill="#c84f3b" fill-opacity="0.65" stroke="none"/>
<path d="M298.28,360.10 L300.16,358.62 L302.04,357.13 L303.66,355.78 L305.00,354.17 L306.35,352.01 L307.56,350.12 L308.77,348.37 L309.98,346.75 L311.06,344.19 L312.00,341.76 L312.94,340.27 L314.02,339.74 L314.96,339.20 L315.77,338.52 L316.44,337.71 L317.25,336.50 L317.92,334.75 L318.46,332.45 L318.86,329.89 L319.40,325.84 L319.94,329.89 L320.48,331.51 L320.88,331.78 L321.42,330.97 L321.82,330.83 L322.63,328.54 L323.31,325.84 L323.84,323.15 L324.38,320.85 L324.79,322.34 L325.32,321.93 L325.86,319.91 L326.40,320.45 L327.07,318.56 L327.88,317.48 L328.55,316.40 L329.36,314.92 L329.90,313.44 L330.44,312.36 L330.84,311.41 L331.38,313.17 L331.78,313.98 L332.32,315.19 L332.73,315.46 L333.26,314.11 L333.80,314.52 L334.34,317.62 L334.74,319.91 L335.28,323.01 L335.69,324.36 L336.22,325.44 L336.76,325.84 L337.17,329.75 L337.70,333.80 L338.24,337.17 L338.78,339.74 L339.32,342.57 L339.72,344.73 L340.66,349.72 L341.74,353.63 L342.68,355.11 L343.76,355.78" fill="none" stroke="#9a102e" stroke-width="1.35" stroke-linejoin="round"/>
</g>
<rect x="285.76" y="302.00" width="58.00" height="58.10" fill="none" stroke="#000" stroke-width="1.3"/>
<path d="M283.16,360.10H285.76M283.16,348.96H285.76M283.16,337.82H285.76M283.16,326.68H285.76M283.16,315.54H285.76M283.16,304.40H285.76" stroke="#000" stroke-width="0.9"/>
<path d="M284.46,357.87H285.76M284.46,355.64H285.76M284.46,353.42H285.76M284.46,351.19H285.76M284.46,346.73H285.76M284.46,344.50H285.76M284.46,342.28H285.76M284.46,340.05H285.76M284.46,335.59H285.76M284.46,333.36H285.76M284.46,331.14H285.76M284.46,328.91H285.76M284.46,324.45H285.76M284.46,322.22H285.76M284.46,320.00H285.76M284.46,317.77H285.76M284.46,313.31H285.76M284.46,311.08H285.76M284.46,308.86H285.76M284.46,306.63H285.76" stroke="#000" stroke-width="0.6"/>
<text x="281.56" y="361.90" font-size="5.2" text-anchor="end" fill="#555" font-weight="bold" textLength="3.00" lengthAdjust="spacingAndGlyphs" >0</text>
<text x="281.56" y="350.76" font-size="5.2" text-anchor="end" fill="#555" font-weight="bold" textLength="6.00" lengthAdjust="spacingAndGlyphs" >20</text>
<text x="281.56" y="339.62" font-size="5.2" text-anchor="end" fill="#555" font-weight="bold" textLength="6.00" lengthAdjust="spacingAndGlyphs" >40</text>
<text x="281.56" y="328.48" font-size="5.2" text-anchor="end" fill="#555" font-weight="bold" textLength="6.00" lengthAdjust="spacingAndGlyphs" >60</text>
<text x="281.56" y="317.34" font-size="5.2" text-anchor="end" fill="#555" font-weight="bold" textLength="6.00" lengthAdjust="spacingAndGlyphs" >80</text>
<text x="281.56" y="306.20" font-size="5.2" text-anchor="end" fill="#555" font-weight="bold" textLength="9.00" lengthAdjust="spacingAndGlyphs" >100</text>
<path d="M285.76,360.10v1.6M287.99,360.10v1.6M290.22,360.10v1.6M292.45,360.10v1.6M294.68,360.10v1.6M296.91,360.10v1.6M299.14,360.10v1.6M301.38,360.10v1.6M303.61,360.10v1.6M305.84,360.10v1.6M308.07,360.10v1.6M310.30,360.10v1.6M312.53,360.10v1.6M314.76,360.10v1.6M316.99,360.10v1.6M319.22,360.10v1.6M321.45,360.10v1.6M323.68,360.10v1.6M325.91,360.10v1.6M328.14,360.10v1.6M330.38,360.10v1.6M332.61,360.10v1.6M334.84,360.10v1.6M337.07,360.10v1.6M339.30,360.10v1.6M341.53,360.10v1.6M343.76,360.10v1.6" stroke="#000" stroke-width="0.6"/>
<path d="M294.24,360.10v2.6M313.43,360.10v2.6M332.52,360.10v2.6" stroke="#000" stroke-width="0.9"/>
<text x="294.74" y="371.00" font-size="5.5" text-anchor="middle" fill="#444" font-weight="bold" textLength="5.4" lengthAdjust="spacingAndGlyphs">10</text>
<text x="298.14" y="368.60" font-size="3.2" text-anchor="middle" fill="#444" font-weight="bold">3</text>
<text x="313.93" y="371.00" font-size="5.5" text-anchor="middle" fill="#444" font-weight="bold" textLength="5.4" lengthAdjust="spacingAndGlyphs">10</text>
<text x="317.33" y="368.60" font-size="3.2" text-anchor="middle" fill="#444" font-weight="bold">4</text>
<text x="333.02" y="371.00" font-size="5.5" text-anchor="middle" fill="#444" font-weight="bold" textLength="5.4" lengthAdjust="spacingAndGlyphs">10</text>
<text x="336.42" y="368.60" font-size="3.2" text-anchor="middle" fill="#444" font-weight="bold">5</text>
<text x="314.76" y="379.80" font-size="7.0" text-anchor="middle" fill="#333" font-weight="bold" textLength="14.00" lengthAdjust="spacingAndGlyphs" >CD117</text>
<clipPath id="c368_201"><rect x="368.23" y="201.50" width="58.00" height="57.80"/></clipPath>
<g clip-path="url(#c368_201)">
<path d="M368.23,259.30 L368.32,259.30 L372.23,258.64 L375.76,257.42 L379.28,255.42 L382.02,252.54 L384.37,249.33 L385.93,244.62 L387.50,238.25 L389.30,229.77 L391.02,221.63 L392.59,214.98 L393.53,209.44 L394.16,206.39 L394.50,209.44 L394.97,214.98 L395.78,221.63 L396.77,229.77 L397.35,238.25 L397.87,244.62 L398.68,248.22 L400.13,251.54 L401.29,252.65 L403.03,254.31 L404.77,256.53 L407.67,259.30 L426.23,259.30" fill="none" stroke="#3f4a70" stroke-width="1.05" stroke-linejoin="round"/>
<path d="M368.23,259.30 L368.23,259.30 L375.02,259.30 L377.92,258.64 L380.53,257.42 L383.14,255.42 L385.17,252.54 L386.91,249.33 L388.07,244.62 L389.23,238.25 L390.56,229.77 L391.84,221.63 L393.00,214.98 L393.69,209.44 L394.16,206.39 L394.50,209.44 L394.97,214.98 L395.78,221.63 L396.77,229.77 L397.35,238.25 L397.87,244.62 L398.51,249.33 L399.26,252.54 L400.13,255.42 L401.41,257.42 L402.86,258.64 L405.18,259.30 L426.23,259.30 L426.23,259.30 Z" fill="#c84f3b" fill-opacity="0.65" stroke="none"/>
<path d="M368.23,259.30 L375.02,259.30 L377.92,258.64 L380.53,257.42 L383.14,255.42 L385.17,252.54 L386.91,249.33 L388.07,244.62 L389.23,238.25 L390.56,229.77 L391.84,221.63 L393.00,214.98 L393.69,209.44 L394.16,206.39 L394.50,209.44 L394.97,214.98 L395.78,221.63 L396.77,229.77 L397.35,238.25 L397.87,244.62 L398.51,249.33 L399.26,252.54 L400.13,255.42 L401.41,257.42 L402.86,258.64 L405.18,259.30 L426.23,259.30" fill="none" stroke="#9a102e" stroke-width="1.35" stroke-linejoin="round"/>
</g>
<rect x="368.23" y="201.50" width="58.00" height="57.80" fill="none" stroke="#000" stroke-width="1.3"/>
<path d="M365.63,259.30H368.23M365.63,248.22H368.23M365.63,237.14H368.23M365.63,226.06H368.23M365.63,214.98H368.23M365.63,203.90H368.23" stroke="#000" stroke-width="0.9"/>
<path d="M366.93,257.08H368.23M366.93,254.87H368.23M366.93,252.65H368.23M366.93,250.44H368.23M366.93,246.00H368.23M366.93,243.79H368.23M366.93,241.57H368.23M366.93,239.36H368.23M366.93,234.92H368.23M366.93,232.71H368.23M366.93,230.49H368.23M366.93,228.28H368.23M366.93,223.84H368.23M366.93,221.63H368.23M366.93,219.41H368.23M366.93,217.20H368.23M366.93,212.76H368.23M366.93,210.55H368.23M366.93,208.33H368.23M366.93,206.12H368.23" stroke="#000" stroke-width="0.6"/>
<text x="364.03" y="261.10" font-size="5.2" text-anchor="end" fill="#555" font-weight="bold" textLength="3.00" lengthAdjust="spacingAndGlyphs" >0</text>
<text x="364.03" y="250.02" font-size="5.2" text-anchor="end" fill="#555" font-weight="bold" textLength="6.00" lengthAdjust="spacingAndGlyphs" >20</text>
<text x="364.03" y="238.94" font-size="5.2" text-anchor="end" fill="#555" font-weight="bold" textLength="6.00" lengthAdjust="spacingAndGlyphs" >40</text>
<text x="364.03" y="227.86" font-size="5.2" text-anchor="end" fill="#555" font-weight="bold" textLength="6.00" lengthAdjust="spacingAndGlyphs" >60</text>
<text x="364.03" y="216.78" font-size="5.2" text-anchor="end" fill="#555" font-weight="bold" textLength="6.00" lengthAdjust="spacingAndGlyphs" >80</text>
<text x="364.03" y="205.70" font-size="5.2" text-anchor="end" fill="#555" font-weight="bold" textLength="9.00" lengthAdjust="spacingAndGlyphs" >100</text>
<path d="M368.23,259.30v1.6M370.46,259.30v1.6M372.69,259.30v1.6M374.92,259.30v1.6M377.15,259.30v1.6M379.38,259.30v1.6M381.61,259.30v1.6M383.85,259.30v1.6M386.08,259.30v1.6M388.31,259.30v1.6M390.54,259.30v1.6M392.77,259.30v1.6M395.00,259.30v1.6M397.23,259.30v1.6M399.46,259.30v1.6M401.69,259.30v1.6M403.92,259.30v1.6M406.15,259.30v1.6M408.38,259.30v1.6M410.61,259.30v1.6M412.85,259.30v1.6M415.08,259.30v1.6M417.31,259.30v1.6M419.54,259.30v1.6M421.77,259.30v1.6M424.00,259.30v1.6M426.23,259.30v1.6" stroke="#000" stroke-width="0.6"/>
<path d="M367.72,259.30v2.6M376.53,259.30v2.6M386.57,259.30v2.6M397.35,259.30v2.6M408.78,259.30v2.6M419.63,259.30v2.6" stroke="#000" stroke-width="0.9"/>
<text x="368.22" y="269.60" font-size="5.5" text-anchor="middle" fill="#444" font-weight="bold" textLength="5.4" lengthAdjust="spacingAndGlyphs">10</text>
<text x="371.62" y="267.20" font-size="3.2" text-anchor="middle" fill="#444" font-weight="bold">0</text>
<text x="377.03" y="269.60" font-size="5.5" text-anchor="middle" fill="#444" font-weight="bold" textLength="5.4" lengthAdjust="spacingAndGlyphs">10</text>
<text x="380.43" y="267.20" font-size="3.2" text-anchor="middle" fill="#444" font-weight="bold">1</text>
<text x="387.07" y="269.60" font-size="5.5" text-anchor="middle" fill="#444" font-weight="bold" textLength="5.4" lengthAdjust="spacingAndGlyphs">10</text>
<text x="390.47" y="267.20" font-size="3.2" text-anchor="middle" fill="#444" font-weight="bold">2</text>
<text x="397.85" y="269.60" font-size="5.5" text-anchor="middle" fill="#444" font-weight="bold" textLength="5.4" lengthAdjust="spacingAndGlyphs">10</text>
<text x="401.25" y="267.20" font-size="3.2" text-anchor="middle" fill="#444" font-weight="bold">3</text>
<text x="409.28" y="269.60" font-size="5.5" text-anchor="middle" fill="#444" font-weight="bold" textLength="5.4" lengthAdjust="spacingAndGlyphs">10</text>
<text x="412.68" y="267.20" font-size="3.2" text-anchor="middle" fill="#444" font-weight="bold">4</text>
<text x="420.13" y="269.60" font-size="5.5" text-anchor="middle" fill="#444" font-weight="bold" textLength="5.4" lengthAdjust="spacingAndGlyphs">10</text>
<text x="423.53" y="267.20" font-size="3.2" text-anchor="middle" fill="#444" font-weight="bold">5</text>
<text x="397.23" y="279.00" font-size="7.0" text-anchor="middle" fill="#333" font-weight="bold" textLength="12.50" lengthAdjust="spacingAndGlyphs" >CD14</text>
<text x="387.90" y="197.60" font-size="8.0" text-anchor="middle" fill="#222" textLength="26.93" lengthAdjust="spacingAndGlyphs" >+FLT3L</text>
<clipPath id="c368_302"><rect x="368.23" y="302.00" width="58.00" height="58.10"/></clipPath>
<g clip-path="url(#c368_302)">
<path d="M368.23,360.10 L368.50,359.43 L370.52,354.71 L372.55,347.96 L374.57,334.48 L375.92,320.99 L377.27,309.52 L378.62,312.90 L379.96,320.99 L381.31,329.08 L382.66,335.82 L384.01,338.52 L384.96,340.95 L386.03,342.57 L387.11,341.49 L388.06,341.89 L389.14,340.95 L390.08,341.22 L391.16,340.54 L392.10,341.89 L394.13,342.57 L396.15,344.59 L398.17,347.29 L400.87,349.31 L403.57,350.66 L406.27,353.36 L408.96,354.71 L411.66,357.40 L414.36,359.43 L418.41,360.10 L426.23,360.10" fill="none" stroke="#3f4a70" stroke-width="1.05" stroke-linejoin="round"/>
<path d="M380.75,360.10 L380.75,360.10 L382.63,358.62 L384.51,357.13 L386.13,355.78 L387.47,354.17 L388.82,352.01 L390.03,350.12 L391.24,348.37 L392.45,346.75 L393.53,344.19 L394.47,341.76 L395.41,340.27 L396.49,339.74 L397.43,339.20 L398.24,338.52 L398.91,337.71 L399.72,336.50 L400.39,334.75 L400.93,332.45 L401.33,329.89 L401.87,325.84 L402.41,329.89 L402.95,331.51 L403.35,331.78 L403.89,330.97 L404.29,330.83 L405.10,328.54 L405.78,325.84 L406.31,323.15 L406.85,320.85 L407.26,322.34 L407.79,321.93 L408.33,319.91 L408.87,320.45 L409.54,318.56 L410.35,317.48 L411.02,316.40 L411.83,314.92 L412.37,313.44 L412.91,312.36 L413.31,311.41 L413.85,313.17 L414.25,313.98 L414.79,315.19 L415.20,315.46 L415.73,314.11 L416.27,314.52 L416.81,317.62 L417.21,319.91 L417.75,323.01 L418.16,324.36 L418.69,325.44 L419.23,325.84 L419.64,329.75 L420.17,333.80 L420.71,337.17 L421.25,339.74 L421.79,342.57 L422.19,344.73 L423.13,349.72 L424.21,353.63 L425.15,355.11 L426.23,355.78 L426.23,360.10 Z" fill="#c84f3b" fill-opacity="0.65" stroke="none"/>
<path d="M380.75,360.10 L382.63,358.62 L384.51,357.13 L386.13,355.78 L387.47,354.17 L388.82,352.01 L390.03,350.12 L391.24,348.37 L392.45,346.75 L393.53,344.19 L394.47,341.76 L395.41,340.27 L396.49,339.74 L397.43,339.20 L398.24,338.52 L398.91,337.71 L399.72,336.50 L400.39,334.75 L400.93,332.45 L401.33,329.89 L401.87,325.84 L402.41,329.89 L402.95,331.51 L403.35,331.78 L403.89,330.97 L404.29,330.83 L405.10,328.54 L405.78,325.84 L406.31,323.15 L406.85,320.85 L407.26,322.34 L407.79,321.93 L408.33,319.91 L408.87,320.45 L409.54,318.56 L410.35,317.48 L411.02,316.40 L411.83,314.92 L412.37,313.44 L412.91,312.36 L413.31,311.41 L413.85,313.17 L414.25,313.98 L414.79,315.19 L415.20,315.46 L415.73,314.11 L416.27,314.52 L416.81,317.62 L417.21,319.91 L417.75,323.01 L418.16,324.36 L418.69,325.44 L419.23,325.84 L419.64,329.75 L420.17,333.80 L420.71,337.17 L421.25,339.74 L421.79,342.57 L422.19,344.73 L423.13,349.72 L424.21,353.63 L425.15,355.11 L426.23,355.78" fill="none" stroke="#9a102e" stroke-width="1.35" stroke-linejoin="round"/>
</g>
<rect x="368.23" y="302.00" width="58.00" height="58.10" fill="none" stroke="#000" stroke-width="1.3"/>
<path d="M365.63,360.10H368.23M365.63,348.96H368.23M365.63,337.82H368.23M365.63,326.68H368.23M365.63,315.54H368.23M365.63,304.40H368.23" stroke="#000" stroke-width="0.9"/>
<path d="M366.93,357.87H368.23M366.93,355.64H368.23M366.93,353.42H368.23M366.93,351.19H368.23M366.93,346.73H368.23M366.93,344.50H368.23M366.93,342.28H368.23M366.93,340.05H368.23M366.93,335.59H368.23M366.93,333.36H368.23M366.93,331.14H368.23M366.93,328.91H368.23M366.93,324.45H368.23M366.93,322.22H368.23M366.93,320.00H368.23M366.93,317.77H368.23M366.93,313.31H368.23M366.93,311.08H368.23M366.93,308.86H368.23M366.93,306.63H368.23" stroke="#000" stroke-width="0.6"/>
<text x="364.03" y="361.90" font-size="5.2" text-anchor="end" fill="#555" font-weight="bold" textLength="3.00" lengthAdjust="spacingAndGlyphs" >0</text>
<text x="364.03" y="350.76" font-size="5.2" text-anchor="end" fill="#555" font-weight="bold" textLength="6.00" lengthAdjust="spacingAndGlyphs" >20</text>
<text x="364.03" y="339.62" font-size="5.2" text-anchor="end" fill="#555" font-weight="bold" textLength="6.00" lengthAdjust="spacingAndGlyphs" >40</text>
<text x="364.03" y="328.48" font-size="5.2" text-anchor="end" fill="#555" font-weight="bold" textLength="6.00" lengthAdjust="spacingAndGlyphs" >60</text>
<text x="364.03" y="317.34" font-size="5.2" text-anchor="end" fill="#555" font-weight="bold" textLength="6.00" lengthAdjust="spacingAndGlyphs" >80</text>
<text x="364.03" y="306.20" font-size="5.2" text-anchor="end" fill="#555" font-weight="bold" textLength="9.00" lengthAdjust="spacingAndGlyphs" >100</text>
<path d="M368.23,360.10v1.6M370.46,360.10v1.6M372.69,360.10v1.6M374.92,360.10v1.6M377.15,360.10v1.6M379.38,360.10v1.6M381.61,360.10v1.6M383.85,360.10v1.6M386.08,360.10v1.6M388.31,360.10v1.6M390.54,360.10v1.6M392.77,360.10v1.6M395.00,360.10v1.6M397.23,360.10v1.6M399.46,360.10v1.6M401.69,360.10v1.6M403.92,360.10v1.6M406.15,360.10v1.6M408.38,360.10v1.6M410.61,360.10v1.6M412.85,360.10v1.6M415.08,360.10v1.6M417.31,360.10v1.6M419.54,360.10v1.6M421.77,360.10v1.6M424.00,360.10v1.6M426.23,360.10v1.6" stroke="#000" stroke-width="0.6"/>
<path d="M376.71,360.10v2.6M395.90,360.10v2.6M414.99,360.10v2.6" stroke="#000" stroke-width="0.9"/>
<text x="377.21" y="371.00" font-size="5.5" text-anchor="middle" fill="#444" font-weight="bold" textLength="5.4" lengthAdjust="spacingAndGlyphs">10</text>
<text x="380.61" y="368.60" font-size="3.2" text-anchor="middle" fill="#444" font-weight="bold">3</text>
<text x="396.40" y="371.00" font-size="5.5" text-anchor="middle" fill="#444" font-weight="bold" textLength="5.4" lengthAdjust="spacingAndGlyphs">10</text>
<text x="399.80" y="368.60" font-size="3.2" text-anchor="middle" fill="#444" font-weight="bold">4</text>
<text x="415.49" y="371.00" font-size="5.5" text-anchor="middle" fill="#444" font-weight="bold" textLength="5.4" lengthAdjust="spacingAndGlyphs">10</text>
<text x="418.89" y="368.60" font-size="3.2" text-anchor="middle" fill="#444" font-weight="bold">5</text>
<text x="397.23" y="379.80" font-size="7.0" text-anchor="middle" fill="#333" font-weight="bold" textLength="14.00" lengthAdjust="spacingAndGlyphs" >CD117</text>
<clipPath id="c450_201"><rect x="450.70" y="201.50" width="58.00" height="57.80"/></clipPath>
<g clip-path="url(#c450_201)">
<path d="M450.70,259.30 L453.43,259.30 L456.91,258.64 L460.04,257.42 L463.17,255.42 L465.61,252.54 L467.69,249.33 L469.09,244.62 L470.48,238.25 L472.08,229.77 L473.61,221.63 L475.00,214.98 L475.84,209.44 L476.39,206.39 L476.74,209.44 L477.21,214.98 L478.02,221.63 L479.00,229.77 L479.58,238.25 L480.11,244.62 L480.98,249.33 L482.60,252.65 L485.50,253.76 L487.82,255.42 L490.14,257.64 L492.17,259.30 L508.70,259.30" fill="none" stroke="#3f4a70" stroke-width="1.05" stroke-linejoin="round"/>
<path d="M450.70,259.30 L450.70,259.30 L457.25,259.30 L460.15,258.64 L462.76,257.42 L465.37,255.42 L467.40,252.54 L469.14,249.33 L470.30,244.62 L471.46,238.25 L472.80,229.77 L474.07,221.63 L475.23,214.98 L475.93,209.44 L476.39,206.39 L476.74,209.44 L477.21,214.98 L478.02,221.63 L479.00,229.77 L479.58,238.25 L480.11,244.62 L480.74,249.33 L481.50,252.54 L482.37,255.42 L483.64,257.42 L485.09,258.64 L487.41,259.30 L508.70,259.30 L508.70,259.30 Z" fill="#c84f3b" fill-opacity="0.65" stroke="none"/>
<path d="M450.70,259.30 L457.25,259.30 L460.15,258.64 L462.76,257.42 L465.37,255.42 L467.40,252.54 L469.14,249.33 L470.30,244.62 L471.46,238.25 L472.80,229.77 L474.07,221.63 L475.23,214.98 L475.93,209.44 L476.39,206.39 L476.74,209.44 L477.21,214.98 L478.02,221.63 L479.00,229.77 L479.58,238.25 L480.11,244.62 L480.74,249.33 L481.50,252.54 L482.37,255.42 L483.64,257.42 L485.09,258.64 L487.41,259.30 L508.70,259.30" fill="none" stroke="#9a102e" stroke-width="1.35" stroke-linejoin="round"/>
</g>
<rect x="450.70" y="201.50" width="58.00" height="57.80" fill="none" stroke="#000" stroke-width="1.3"/>
<path d="M448.10,259.30H450.70M448.10,248.22H450.70M448.10,237.14H450.70M448.10,226.06H450.70M448.10,214.98H450.70M448.10,203.90H450.70" stroke="#000" stroke-width="0.9"/>
<path d="M449.40,257.08H450.70M449.40,254.87H450.70M449.40,252.65H450.70M449.40,250.44H450.70M449.40,246.00H450.70M449.40,243.79H450.70M449.40,241.57H450.70M449.40,239.36H450.70M449.40,234.92H450.70M449.40,232.71H450.70M449.40,230.49H450.70M449.40,228.28H450.70M449.40,223.84H450.70M449.40,221.63H450.70M449.40,219.41H450.70M449.40,217.20H450.70M449.40,212.76H450.70M449.40,210.55H450.70M449.40,208.33H450.70M449.40,206.12H450.70" stroke="#000" stroke-width="0.6"/>
<text x="446.50" y="261.10" font-size="5.2" text-anchor="end" fill="#555" font-weight="bold" textLength="3.00" lengthAdjust="spacingAndGlyphs" >0</text>
<text x="446.50" y="250.02" font-size="5.2" text-anchor="end" fill="#555" font-weight="bold" textLength="6.00" lengthAdjust="spacingAndGlyphs" >20</text>
<text x="446.50" y="238.94" font-size="5.2" text-anchor="end" fill="#555" font-weight="bold" textLength="6.00" lengthAdjust="spacingAndGlyphs" >40</text>
<text x="446.50" y="227.86" font-size="5.2" text-anchor="end" fill="#555" font-weight="bold" textLength="6.00" lengthAdjust="spacingAndGlyphs" >60</text>
<text x="446.50" y="216.78" font-size="5.2" text-anchor="end" fill="#555" font-weight="bold" textLength="6.00" lengthAdjust="spacingAndGlyphs" >80</text>
<text x="446.50" y="205.70" font-size="5.2" text-anchor="end" fill="#555" font-weight="bold" textLength="9.00" lengthAdjust="spacingAndGlyphs" >100</text>
<path d="M450.70,259.30v1.6M452.93,259.30v1.6M455.16,259.30v1.6M457.39,259.30v1.6M459.62,259.30v1.6M461.85,259.30v1.6M464.08,259.30v1.6M466.32,259.30v1.6M468.55,259.30v1.6M470.78,259.30v1.6M473.01,259.30v1.6M475.24,259.30v1.6M477.47,259.30v1.6M479.70,259.30v1.6M481.93,259.30v1.6M484.16,259.30v1.6M486.39,259.30v1.6M488.62,259.30v1.6M490.85,259.30v1.6M493.08,259.30v1.6M495.32,259.30v1.6M497.55,259.30v1.6M499.78,259.30v1.6M502.01,259.30v1.6M504.24,259.30v1.6M506.47,259.30v1.6M508.70,259.30v1.6" stroke="#000" stroke-width="0.6"/>
<path d="M450.19,259.30v2.6M459.00,259.30v2.6M469.04,259.30v2.6M479.82,259.30v2.6M491.25,259.30v2.6M502.10,259.30v2.6" stroke="#000" stroke-width="0.9"/>
<text x="450.69" y="269.60" font-size="5.5" text-anchor="middle" fill="#444" font-weight="bold" textLength="5.4" lengthAdjust="spacingAndGlyphs">10</text>
<text x="454.09" y="267.20" font-size="3.2" text-anchor="middle" fill="#444" font-weight="bold">0</text>
<text x="459.50" y="269.60" font-size="5.5" text-anchor="middle" fill="#444" font-weight="bold" textLength="5.4" lengthAdjust="spacingAndGlyphs">10</text>
<text x="462.90" y="267.20" font-size="3.2" text-anchor="middle" fill="#444" font-weight="bold">1</text>
<text x="469.54" y="269.60" font-size="5.5" text-anchor="middle" fill="#444" font-weight="bold" textLength="5.4" lengthAdjust="spacingAndGlyphs">10</text>
<text x="472.94" y="267.20" font-size="3.2" text-anchor="middle" fill="#444" font-weight="bold">2</text>
<text x="480.32" y="269.60" font-size="5.5" text-anchor="middle" fill="#444" font-weight="bold" textLength="5.4" lengthAdjust="spacingAndGlyphs">10</text>
<text x="483.72" y="267.20" font-size="3.2" text-anchor="middle" fill="#444" font-weight="bold">3</text>
<text x="491.75" y="269.60" font-size="5.5" text-anchor="middle" fill="#444" font-weight="bold" textLength="5.4" lengthAdjust="spacingAndGlyphs">10</text>
<text x="495.15" y="267.20" font-size="3.2" text-anchor="middle" fill="#444" font-weight="bold">4</text>
<text x="502.60" y="269.60" font-size="5.5" text-anchor="middle" fill="#444" font-weight="bold" textLength="5.4" lengthAdjust="spacingAndGlyphs">10</text>
<text x="506.00" y="267.20" font-size="3.2" text-anchor="middle" fill="#444" font-weight="bold">5</text>
<text x="479.70" y="279.00" font-size="7.0" text-anchor="middle" fill="#333" font-weight="bold" textLength="12.50" lengthAdjust="spacingAndGlyphs" >CD14</text>
<text x="465.30" y="197.60" font-size="8.0" text-anchor="middle" fill="#222" textLength="26.63" lengthAdjust="spacingAndGlyphs" >+GCSF</text>
<clipPath id="c450_302"><rect x="450.70" y="302.00" width="58.00" height="58.10"/></clipPath>
<g clip-path="url(#c450_302)">
<path d="M450.70,360.10 L452.45,359.83 L454.47,357.40 L456.49,349.31 L458.51,331.78 L460.12,315.59 L461.47,310.87 L462.54,314.25 L463.89,318.29 L464.96,329.08 L466.58,331.78 L467.93,333.80 L469.27,332.45 L470.35,337.85 L471.96,337.17 L473.98,336.50 L476.00,337.85 L478.02,338.52 L479.36,341.22 L480.71,343.92 L482.73,345.94 L485.42,348.64 L488.11,349.31 L490.80,351.33 L493.49,354.71 L496.18,357.40 L498.88,359.43 L501.57,360.10 L508.70,360.10" fill="none" stroke="#3f4a70" stroke-width="1.05" stroke-linejoin="round"/>
<path d="M463.22,360.10 L463.22,360.10 L465.10,358.62 L466.98,357.13 L468.60,355.78 L469.94,354.17 L471.29,352.01 L472.50,350.12 L473.71,348.37 L474.92,346.75 L476.00,344.19 L476.94,341.76 L477.88,340.27 L478.96,339.74 L479.90,339.20 L480.71,338.52 L481.38,337.71 L482.19,336.50 L482.86,334.75 L483.40,332.45 L483.80,329.89 L484.34,325.84 L484.88,329.89 L485.42,331.51 L485.82,331.78 L486.36,330.97 L486.76,330.83 L487.57,328.54 L488.25,325.84 L488.78,323.15 L489.32,320.85 L489.73,322.34 L490.26,321.93 L490.80,319.91 L491.34,320.45 L492.01,318.56 L492.82,317.48 L493.49,316.40 L494.30,314.92 L494.84,313.44 L495.38,312.36 L495.78,311.41 L496.32,313.17 L496.72,313.98 L497.26,315.19 L497.67,315.46 L498.20,314.11 L498.74,314.52 L499.28,317.62 L499.68,319.91 L500.22,323.01 L500.63,324.36 L501.16,325.44 L501.70,325.84 L502.11,329.75 L502.64,333.80 L503.18,337.17 L503.72,339.74 L504.26,342.57 L504.66,344.73 L505.60,349.72 L506.68,353.63 L507.62,355.11 L508.70,355.78 L508.70,360.10 Z" fill="#c84f3b" fill-opacity="0.65" stroke="none"/>
<path d="M463.22,360.10 L465.10,358.62 L466.98,357.13 L468.60,355.78 L469.94,354.17 L471.29,352.01 L472.50,350.12 L473.71,348.37 L474.92,346.75 L476.00,344.19 L476.94,341.76 L477.88,340.27 L478.96,339.74 L479.90,339.20 L480.71,338.52 L481.38,337.71 L482.19,336.50 L482.86,334.75 L483.40,332.45 L483.80,329.89 L484.34,325.84 L484.88,329.89 L485.42,331.51 L485.82,331.78 L486.36,330.97 L486.76,330.83 L487.57,328.54 L488.25,325.84 L488.78,323.15 L489.32,320.85 L489.73,322.34 L490.26,321.93 L490.80,319.91 L491.34,320.45 L492.01,318.56 L492.82,317.48 L493.49,316.40 L494.30,314.92 L494.84,313.44 L495.38,312.36 L495.78,311.41 L496.32,313.17 L496.72,313.98 L497.26,315.19 L497.67,315.46 L498.20,314.11 L498.74,314.52 L499.28,317.62 L499.68,319.91 L500.22,323.01 L500.63,324.36 L501.16,325.44 L501.70,325.84 L502.11,329.75 L502.64,333.80 L503.18,337.17 L503.72,339.74 L504.26,342.57 L504.66,344.73 L505.60,349.72 L506.68,353.63 L507.62,355.11 L508.70,355.78" fill="none" stroke="#9a102e" stroke-width="1.35" stroke-linejoin="round"/>
</g>
<rect x="450.70" y="302.00" width="58.00" height="58.10" fill="none" stroke="#000" stroke-width="1.3"/>
<path d="M448.10,360.10H450.70M448.10,348.96H450.70M448.10,337.82H450.70M448.10,326.68H450.70M448.10,315.54H450.70M448.10,304.40H450.70" stroke="#000" stroke-width="0.9"/>
<path d="M449.40,357.87H450.70M449.40,355.64H450.70M449.40,353.42H450.70M449.40,351.19H450.70M449.40,346.73H450.70M449.40,344.50H450.70M449.40,342.28H450.70M449.40,340.05H450.70M449.40,335.59H450.70M449.40,333.36H450.70M449.40,331.14H450.70M449.40,328.91H450.70M449.40,324.45H450.70M449.40,322.22H450.70M449.40,320.00H450.70M449.40,317.77H450.70M449.40,313.31H450.70M449.40,311.08H450.70M449.40,308.86H450.70M449.40,306.63H450.70" stroke="#000" stroke-width="0.6"/>
<text x="446.50" y="361.90" font-size="5.2" text-anchor="end" fill="#555" font-weight="bold" textLength="3.00" lengthAdjust="spacingAndGlyphs" >0</text>
<text x="446.50" y="350.76" font-size="5.2" text-anchor="end" fill="#555" font-weight="bold" textLength="6.00" lengthAdjust="spacingAndGlyphs" >20</text>
<text x="446.50" y="339.62" font-size="5.2" text-anchor="end" fill="#555" font-weight="bold" textLength="6.00" lengthAdjust="spacingAndGlyphs" >40</text>
<text x="446.50" y="328.48" font-size="5.2" text-anchor="end" fill="#555" font-weight="bold" textLength="6.00" lengthAdjust="spacingAndGlyphs" >60</text>
<text x="446.50" y="317.34" font-size="5.2" text-anchor="end" fill="#555" font-weight="bold" textLength="6.00" lengthAdjust="spacingAndGlyphs" >80</text>
<text x="446.50" y="306.20" font-size="5.2" text-anchor="end" fill="#555" font-weight="bold" textLength="9.00" lengthAdjust="spacingAndGlyphs" >100</text>
<path d="M450.70,360.10v1.6M452.93,360.10v1.6M455.16,360.10v1.6M457.39,360.10v1.6M459.62,360.10v1.6M461.85,360.10v1.6M464.08,360.10v1.6M466.32,360.10v1.6M468.55,360.10v1.6M470.78,360.10v1.6M473.01,360.10v1.6M475.24,360.10v1.6M477.47,360.10v1.6M479.70,360.10v1.6M481.93,360.10v1.6M484.16,360.10v1.6M486.39,360.10v1.6M488.62,360.10v1.6M490.85,360.10v1.6M493.08,360.10v1.6M495.32,360.10v1.6M497.55,360.10v1.6M499.78,360.10v1.6M502.01,360.10v1.6M504.24,360.10v1.6M506.47,360.10v1.6M508.70,360.10v1.6" stroke="#000" stroke-width="0.6"/>
<path d="M459.18,360.10v2.6M478.37,360.10v2.6M497.46,360.10v2.6" stroke="#000" stroke-width="0.9"/>
<text x="459.68" y="371.00" font-size="5.5" text-anchor="middle" fill="#444" font-weight="bold" textLength="5.4" lengthAdjust="spacingAndGlyphs">10</text>
<text x="463.08" y="368.60" font-size="3.2" text-anchor="middle" fill="#444" font-weight="bold">3</text>
<text x="478.87" y="371.00" font-size="5.5" text-anchor="middle" fill="#444" font-weight="bold" textLength="5.4" lengthAdjust="spacingAndGlyphs">10</text>
<text x="482.27" y="368.60" font-size="3.2" text-anchor="middle" fill="#444" font-weight="bold">4</text>
<text x="497.96" y="371.00" font-size="5.5" text-anchor="middle" fill="#444" font-weight="bold" textLength="5.4" lengthAdjust="spacingAndGlyphs">10</text>
<text x="501.36" y="368.60" font-size="3.2" text-anchor="middle" fill="#444" font-weight="bold">5</text>
<text x="479.70" y="379.80" font-size="7.0" text-anchor="middle" fill="#333" font-weight="bold" textLength="14.00" lengthAdjust="spacingAndGlyphs" >CD117</text>
<text x="22.60" y="230.70" font-size="7.2" text-anchor="middle" fill="#222" font-weight="bold" textLength="41.70" lengthAdjust="spacingAndGlyphs" transform="rotate(-90 22.60 230.70)" >Relative cell count</text>
<text x="22.40" y="331.10" font-size="7.2" text-anchor="middle" fill="#222" font-weight="bold" textLength="42.20" lengthAdjust="spacingAndGlyphs" transform="rotate(-90 22.40 331.10)" >Relative cell count</text>
<line x1="7.00" y1="385.20" x2="513.00" y2="385.20" stroke="#505050" stroke-width="1.5" />
<text x="260.40" y="395.00" font-size="7.0" text-anchor="middle" fill="#222" font-weight="bold" textLength="33.00" lengthAdjust="spacingAndGlyphs" >+SR1+UM729</text>
<text x="260.60" y="405.30" font-size="7.0" text-anchor="middle" fill="#222" font-weight="bold" textLength="10.40" lengthAdjust="spacingAndGlyphs" >+IL3</text>
<clipPath id="c66_432"><rect x="66.05" y="432.40" width="58.50" height="58.30"/></clipPath>
<g clip-path="url(#c66_432)">
<path d="M66.05,490.70 L67.22,490.70 L71.02,490.05 L74.44,488.85 L77.87,486.89 L80.53,484.06 L82.81,480.90 L84.33,476.27 L85.85,470.01 L87.60,461.69 L89.27,453.68 L90.80,447.15 L91.71,441.71 L92.32,438.71 L92.67,441.71 L93.14,447.15 L93.95,453.68 L95.24,462.75 L96.29,470.91 L97.29,471.58 L98.99,470.24 L100.33,470.91 L102.38,467.50 L103.72,466.83 L105.07,469.57 L106.41,475.05 L107.76,481.81 L109.11,488.63 L110.45,490.70 L124.55,490.70" fill="none" stroke="#3f4a70" stroke-width="1.05" stroke-linejoin="round"/>
<path d="M66.05,490.70 L66.05,490.70 L73.01,490.70 L75.94,490.05 L78.57,488.85 L81.20,486.89 L83.25,484.06 L85.00,480.90 L86.17,476.27 L87.34,470.01 L88.69,461.69 L89.98,453.68 L91.15,447.15 L91.85,441.71 L92.32,438.71 L92.67,441.71 L93.14,447.15 L93.95,453.68 L94.95,461.69 L95.53,470.01 L96.06,476.27 L96.70,480.90 L97.46,484.06 L98.34,486.89 L99.63,488.85 L101.09,490.05 L103.43,490.70 L124.55,490.70 L124.55,490.70 Z" fill="#c84f3b" fill-opacity="0.65" stroke="none"/>
<path d="M66.05,490.70 L73.01,490.70 L75.94,490.05 L78.57,488.85 L81.20,486.89 L83.25,484.06 L85.00,480.90 L86.17,476.27 L87.34,470.01 L88.69,461.69 L89.98,453.68 L91.15,447.15 L91.85,441.71 L92.32,438.71 L92.67,441.71 L93.14,447.15 L93.95,453.68 L94.95,461.69 L95.53,470.01 L96.06,476.27 L96.70,480.90 L97.46,484.06 L98.34,486.89 L99.63,488.85 L101.09,490.05 L103.43,490.70 L124.55,490.70" fill="none" stroke="#9a102e" stroke-width="1.35" stroke-linejoin="round"/>
</g>
<rect x="66.05" y="432.40" width="58.50" height="58.30" fill="none" stroke="#000" stroke-width="1.3"/>
<path d="M63.45,490.70H66.05M63.45,479.52H66.05M63.45,468.34H66.05M63.45,457.16H66.05M63.45,445.98H66.05M63.45,434.80H66.05" stroke="#000" stroke-width="0.9"/>
<path d="M64.75,488.46H66.05M64.75,486.23H66.05M64.75,483.99H66.05M64.75,481.76H66.05M64.75,477.28H66.05M64.75,475.05H66.05M64.75,472.81H66.05M64.75,470.58H66.05M64.75,466.10H66.05M64.75,463.87H66.05M64.75,461.63H66.05M64.75,459.40H66.05M64.75,454.92H66.05M64.75,452.69H66.05M64.75,450.45H66.05M64.75,448.22H66.05M64.75,443.74H66.05M64.75,441.51H66.05M64.75,439.27H66.05M64.75,437.04H66.05" stroke="#000" stroke-width="0.6"/>
<text x="61.85" y="492.50" font-size="5.2" text-anchor="end" fill="#555" font-weight="bold" textLength="3.00" lengthAdjust="spacingAndGlyphs" >0</text>
<text x="61.85" y="481.32" font-size="5.2" text-anchor="end" fill="#555" font-weight="bold" textLength="6.00" lengthAdjust="spacingAndGlyphs" >20</text>
<text x="61.85" y="470.14" font-size="5.2" text-anchor="end" fill="#555" font-weight="bold" textLength="6.00" lengthAdjust="spacingAndGlyphs" >40</text>
<text x="61.85" y="458.96" font-size="5.2" text-anchor="end" fill="#555" font-weight="bold" textLength="6.00" lengthAdjust="spacingAndGlyphs" >60</text>
<text x="61.85" y="447.78" font-size="5.2" text-anchor="end" fill="#555" font-weight="bold" textLength="6.00" lengthAdjust="spacingAndGlyphs" >80</text>
<text x="61.85" y="436.60" font-size="5.2" text-anchor="end" fill="#555" font-weight="bold" textLength="9.00" lengthAdjust="spacingAndGlyphs" >100</text>
<path d="M66.05,490.70v1.6M68.30,490.70v1.6M70.55,490.70v1.6M72.80,490.70v1.6M75.05,490.70v1.6M77.30,490.70v1.6M79.55,490.70v1.6M81.80,490.70v1.6M84.05,490.70v1.6M86.30,490.70v1.6M88.55,490.70v1.6M90.80,490.70v1.6M93.05,490.70v1.6M95.30,490.70v1.6M97.55,490.70v1.6M99.80,490.70v1.6M102.05,490.70v1.6M104.30,490.70v1.6M106.55,490.70v1.6M108.80,490.70v1.6M111.05,490.70v1.6M113.30,490.70v1.6M115.55,490.70v1.6M117.80,490.70v1.6M120.05,490.70v1.6M122.30,490.70v1.6M124.55,490.70v1.6" stroke="#000" stroke-width="0.6"/>
<path d="M65.54,490.70v2.6M74.44,490.70v2.6M84.56,490.70v2.6M95.44,490.70v2.6M106.96,490.70v2.6M117.90,490.70v2.6" stroke="#000" stroke-width="0.9"/>
<text x="66.04" y="501.00" font-size="5.5" text-anchor="middle" fill="#444" font-weight="bold" textLength="5.4" lengthAdjust="spacingAndGlyphs">10</text>
<text x="69.44" y="498.60" font-size="3.2" text-anchor="middle" fill="#444" font-weight="bold">0</text>
<text x="74.94" y="501.00" font-size="5.5" text-anchor="middle" fill="#444" font-weight="bold" textLength="5.4" lengthAdjust="spacingAndGlyphs">10</text>
<text x="78.34" y="498.60" font-size="3.2" text-anchor="middle" fill="#444" font-weight="bold">1</text>
<text x="85.06" y="501.00" font-size="5.5" text-anchor="middle" fill="#444" font-weight="bold" textLength="5.4" lengthAdjust="spacingAndGlyphs">10</text>
<text x="88.46" y="498.60" font-size="3.2" text-anchor="middle" fill="#444" font-weight="bold">2</text>
<text x="95.94" y="501.00" font-size="5.5" text-anchor="middle" fill="#444" font-weight="bold" textLength="5.4" lengthAdjust="spacingAndGlyphs">10</text>
<text x="99.34" y="498.60" font-size="3.2" text-anchor="middle" fill="#444" font-weight="bold">3</text>
<text x="107.46" y="501.00" font-size="5.5" text-anchor="middle" fill="#444" font-weight="bold" textLength="5.4" lengthAdjust="spacingAndGlyphs">10</text>
<text x="110.86" y="498.60" font-size="3.2" text-anchor="middle" fill="#444" font-weight="bold">4</text>
<text x="118.40" y="501.00" font-size="5.5" text-anchor="middle" fill="#444" font-weight="bold" textLength="5.4" lengthAdjust="spacingAndGlyphs">10</text>
<text x="121.80" y="498.60" font-size="3.2" text-anchor="middle" fill="#444" font-weight="bold">5</text>
<text x="95.30" y="510.40" font-size="7.0" text-anchor="middle" fill="#333" font-weight="bold" textLength="12.50" lengthAdjust="spacingAndGlyphs" >CD14</text>
<text x="96.10" y="428.50" font-size="8.0" text-anchor="middle" fill="#222" textLength="9.03" lengthAdjust="spacingAndGlyphs" >+0</text>
<clipPath id="c66_515"><rect x="66.05" y="515.40" width="58.50" height="58.00"/></clipPath>
<g clip-path="url(#c66_515)">
<path d="M66.05,569.09 L66.46,567.75 L68.09,562.36 L70.13,547.55 L71.90,532.74 L73.53,523.32 L74.89,526.01 L76.25,531.40 L77.61,538.13 L78.97,547.55 L80.33,555.63 L81.70,562.36 L83.06,566.40 L84.42,569.09 L87.14,571.11 L89.86,571.78 L92.58,570.44 L95.30,568.42 L98.02,567.75 L100.74,566.40 L103.46,565.73 L106.18,565.73 L108.90,567.75 L110.27,570.44 L112.31,572.46 L115.71,573.13 L124.55,573.40" fill="none" stroke="#3f4a70" stroke-width="1.05" stroke-linejoin="round"/>
<path d="M78.67,573.40 L78.67,573.40 L80.57,571.92 L82.47,570.44 L84.10,569.09 L85.46,567.48 L86.82,565.32 L88.04,563.44 L89.26,561.69 L90.48,560.07 L91.57,557.51 L92.52,555.09 L93.47,553.61 L94.55,553.07 L95.50,552.53 L96.32,551.86 L97.00,551.05 L97.81,549.84 L98.49,548.09 L99.03,545.80 L99.44,543.24 L99.98,539.21 L100.53,543.24 L101.07,544.86 L101.48,545.13 L102.02,544.32 L102.43,544.19 L103.24,541.90 L103.92,539.21 L104.46,536.51 L105.00,534.22 L105.41,535.71 L105.95,535.30 L106.50,533.28 L107.04,533.82 L107.72,531.94 L108.53,530.86 L109.21,529.78 L110.03,528.30 L110.57,526.82 L111.11,525.74 L111.52,524.80 L112.06,526.55 L112.47,527.36 L113.01,528.57 L113.42,528.84 L113.96,527.49 L114.51,527.90 L115.05,530.99 L115.46,533.28 L116.00,536.38 L116.41,537.72 L116.95,538.80 L117.49,539.21 L117.90,543.11 L118.44,547.15 L118.99,550.51 L119.53,553.07 L120.07,555.90 L120.48,558.05 L121.43,563.03 L122.51,566.94 L123.46,568.42 L124.55,569.09 L124.55,573.40 Z" fill="#c84f3b" fill-opacity="0.65" stroke="none"/>
<path d="M78.67,573.40 L80.57,571.92 L82.47,570.44 L84.10,569.09 L85.46,567.48 L86.82,565.32 L88.04,563.44 L89.26,561.69 L90.48,560.07 L91.57,557.51 L92.52,555.09 L93.47,553.61 L94.55,553.07 L95.50,552.53 L96.32,551.86 L97.00,551.05 L97.81,549.84 L98.49,548.09 L99.03,545.80 L99.44,543.24 L99.98,539.21 L100.53,543.24 L101.07,544.86 L101.48,545.13 L102.02,544.32 L102.43,544.19 L103.24,541.90 L103.92,539.21 L104.46,536.51 L105.00,534.22 L105.41,535.71 L105.95,535.30 L106.50,533.28 L107.04,533.82 L107.72,531.94 L108.53,530.86 L109.21,529.78 L110.03,528.30 L110.57,526.82 L111.11,525.74 L111.52,524.80 L112.06,526.55 L112.47,527.36 L113.01,528.57 L113.42,528.84 L113.96,527.49 L114.51,527.90 L115.05,530.99 L115.46,533.28 L116.00,536.38 L116.41,537.72 L116.95,538.80 L117.49,539.21 L117.90,543.11 L118.44,547.15 L118.99,550.51 L119.53,553.07 L120.07,555.90 L120.48,558.05 L121.43,563.03 L122.51,566.94 L123.46,568.42 L124.55,569.09" fill="none" stroke="#9a102e" stroke-width="1.35" stroke-linejoin="round"/>
</g>
<rect x="66.05" y="515.40" width="58.50" height="58.00" fill="none" stroke="#000" stroke-width="1.3"/>
<path d="M63.45,573.40H66.05M63.45,562.28H66.05M63.45,551.16H66.05M63.45,540.04H66.05M63.45,528.92H66.05M63.45,517.80H66.05" stroke="#000" stroke-width="0.9"/>
<path d="M64.75,571.18H66.05M64.75,568.95H66.05M64.75,566.73H66.05M64.75,564.50H66.05M64.75,560.06H66.05M64.75,557.83H66.05M64.75,555.61H66.05M64.75,553.38H66.05M64.75,548.94H66.05M64.75,546.71H66.05M64.75,544.49H66.05M64.75,542.26H66.05M64.75,537.82H66.05M64.75,535.59H66.05M64.75,533.37H66.05M64.75,531.14H66.05M64.75,526.70H66.05M64.75,524.47H66.05M64.75,522.25H66.05M64.75,520.02H66.05" stroke="#000" stroke-width="0.6"/>
<text x="61.85" y="575.20" font-size="5.2" text-anchor="end" fill="#555" font-weight="bold" textLength="3.00" lengthAdjust="spacingAndGlyphs" >0</text>
<text x="61.85" y="564.08" font-size="5.2" text-anchor="end" fill="#555" font-weight="bold" textLength="6.00" lengthAdjust="spacingAndGlyphs" >20</text>
<text x="61.85" y="552.96" font-size="5.2" text-anchor="end" fill="#555" font-weight="bold" textLength="6.00" lengthAdjust="spacingAndGlyphs" >40</text>
<text x="61.85" y="541.84" font-size="5.2" text-anchor="end" fill="#555" font-weight="bold" textLength="6.00" lengthAdjust="spacingAndGlyphs" >60</text>
<text x="61.85" y="530.72" font-size="5.2" text-anchor="end" fill="#555" font-weight="bold" textLength="6.00" lengthAdjust="spacingAndGlyphs" >80</text>
<text x="61.85" y="519.60" font-size="5.2" text-anchor="end" fill="#555" font-weight="bold" textLength="9.00" lengthAdjust="spacingAndGlyphs" >100</text>
<path d="M66.05,573.40v1.6M68.30,573.40v1.6M70.55,573.40v1.6M72.80,573.40v1.6M75.05,573.40v1.6M77.30,573.40v1.6M79.55,573.40v1.6M81.80,573.40v1.6M84.05,573.40v1.6M86.30,573.40v1.6M88.55,573.40v1.6M90.80,573.40v1.6M93.05,573.40v1.6M95.30,573.40v1.6M97.55,573.40v1.6M99.80,573.40v1.6M102.05,573.40v1.6M104.30,573.40v1.6M106.55,573.40v1.6M108.80,573.40v1.6M111.05,573.40v1.6M113.30,573.40v1.6M115.55,573.40v1.6M117.80,573.40v1.6M120.05,573.40v1.6M122.30,573.40v1.6M124.55,573.40v1.6" stroke="#000" stroke-width="0.6"/>
<path d="M74.61,573.40v2.6M93.98,573.40v2.6M113.22,573.40v2.6" stroke="#000" stroke-width="0.9"/>
<text x="75.11" y="584.30" font-size="5.5" text-anchor="middle" fill="#444" font-weight="bold" textLength="5.4" lengthAdjust="spacingAndGlyphs">10</text>
<text x="78.51" y="581.90" font-size="3.2" text-anchor="middle" fill="#444" font-weight="bold">3</text>
<text x="94.48" y="584.30" font-size="5.5" text-anchor="middle" fill="#444" font-weight="bold" textLength="5.4" lengthAdjust="spacingAndGlyphs">10</text>
<text x="97.88" y="581.90" font-size="3.2" text-anchor="middle" fill="#444" font-weight="bold">4</text>
<text x="113.72" y="584.30" font-size="5.5" text-anchor="middle" fill="#444" font-weight="bold" textLength="5.4" lengthAdjust="spacingAndGlyphs">10</text>
<text x="117.12" y="581.90" font-size="3.2" text-anchor="middle" fill="#444" font-weight="bold">5</text>
<text x="95.30" y="593.10" font-size="7.0" text-anchor="middle" fill="#333" font-weight="bold" textLength="14.00" lengthAdjust="spacingAndGlyphs" >CD117</text>
<clipPath id="c153_432"><rect x="153.22" y="432.40" width="58.50" height="58.30"/></clipPath>
<g clip-path="url(#c153_432)">
<path d="M153.22,490.70 L155.97,490.70 L159.48,490.05 L162.64,488.85 L165.80,486.89 L168.25,484.06 L170.36,480.90 L171.76,476.27 L173.17,470.01 L174.78,461.69 L176.33,453.68 L177.73,447.15 L178.57,441.71 L179.14,438.71 L179.49,441.71 L179.95,447.15 L180.77,453.68 L181.77,461.69 L182.65,468.34 L183.46,471.64 L185.51,472.03 L187.09,474.32 L188.85,479.13 L190.60,483.21 L192.24,485.95 L194.23,487.29 L196.28,489.36 L198.26,490.70 L211.72,490.70" fill="none" stroke="#3f4a70" stroke-width="1.05" stroke-linejoin="round"/>
<path d="M153.22,490.70 L153.22,490.70 L159.83,490.70 L162.76,490.05 L165.39,488.85 L168.02,486.89 L170.07,484.06 L171.82,480.90 L172.99,476.27 L174.16,470.01 L175.51,461.69 L176.80,453.68 L177.97,447.15 L178.67,441.71 L179.14,438.71 L179.49,441.71 L179.95,447.15 L180.77,453.68 L181.77,461.69 L182.35,470.01 L182.88,476.27 L183.52,480.90 L184.28,484.06 L185.16,486.89 L186.45,488.85 L187.91,490.05 L190.25,490.70 L211.72,490.70 L211.72,490.70 Z" fill="#c84f3b" fill-opacity="0.65" stroke="none"/>
<path d="M153.22,490.70 L159.83,490.70 L162.76,490.05 L165.39,488.85 L168.02,486.89 L170.07,484.06 L171.82,480.90 L172.99,476.27 L174.16,470.01 L175.51,461.69 L176.80,453.68 L177.97,447.15 L178.67,441.71 L179.14,438.71 L179.49,441.71 L179.95,447.15 L180.77,453.68 L181.77,461.69 L182.35,470.01 L182.88,476.27 L183.52,480.90 L184.28,484.06 L185.16,486.89 L186.45,488.85 L187.91,490.05 L190.25,490.70 L211.72,490.70" fill="none" stroke="#9a102e" stroke-width="1.35" stroke-linejoin="round"/>
</g>
<rect x="153.22" y="432.40" width="58.50" height="58.30" fill="none" stroke="#000" stroke-width="1.3"/>
<path d="M150.62,490.70H153.22M150.62,479.52H153.22M150.62,468.34H153.22M150.62,457.16H153.22M150.62,445.98H153.22M150.62,434.80H153.22" stroke="#000" stroke-width="0.9"/>
<path d="M151.92,488.46H153.22M151.92,486.23H153.22M151.92,483.99H153.22M151.92,481.76H153.22M151.92,477.28H153.22M151.92,475.05H153.22M151.92,472.81H153.22M151.92,470.58H153.22M151.92,466.10H153.22M151.92,463.87H153.22M151.92,461.63H153.22M151.92,459.40H153.22M151.92,454.92H153.22M151.92,452.69H153.22M151.92,450.45H153.22M151.92,448.22H153.22M151.92,443.74H153.22M151.92,441.51H153.22M151.92,439.27H153.22M151.92,437.04H153.22" stroke="#000" stroke-width="0.6"/>
<text x="149.02" y="492.50" font-size="5.2" text-anchor="end" fill="#555" font-weight="bold" textLength="3.00" lengthAdjust="spacingAndGlyphs" >0</text>
<text x="149.02" y="481.32" font-size="5.2" text-anchor="end" fill="#555" font-weight="bold" textLength="6.00" lengthAdjust="spacingAndGlyphs" >20</text>
<text x="149.02" y="470.14" font-size="5.2" text-anchor="end" fill="#555" font-weight="bold" textLength="6.00" lengthAdjust="spacingAndGlyphs" >40</text>
<text x="149.02" y="458.96" font-size="5.2" text-anchor="end" fill="#555" font-weight="bold" textLength="6.00" lengthAdjust="spacingAndGlyphs" >60</text>
<text x="149.02" y="447.78" font-size="5.2" text-anchor="end" fill="#555" font-weight="bold" textLength="6.00" lengthAdjust="spacingAndGlyphs" >80</text>
<text x="149.02" y="436.60" font-size="5.2" text-anchor="end" fill="#555" font-weight="bold" textLength="9.00" lengthAdjust="spacingAndGlyphs" >100</text>
<path d="M153.22,490.70v1.6M155.47,490.70v1.6M157.72,490.70v1.6M159.97,490.70v1.6M162.22,490.70v1.6M164.47,490.70v1.6M166.72,490.70v1.6M168.97,490.70v1.6M171.22,490.70v1.6M173.47,490.70v1.6M175.72,490.70v1.6M177.97,490.70v1.6M180.22,490.70v1.6M182.47,490.70v1.6M184.72,490.70v1.6M186.97,490.70v1.6M189.22,490.70v1.6M191.47,490.70v1.6M193.72,490.70v1.6M195.97,490.70v1.6M198.22,490.70v1.6M200.47,490.70v1.6M202.72,490.70v1.6M204.97,490.70v1.6M207.22,490.70v1.6M209.47,490.70v1.6M211.72,490.70v1.6" stroke="#000" stroke-width="0.6"/>
<path d="M152.71,490.70v2.6M161.61,490.70v2.6M171.73,490.70v2.6M182.61,490.70v2.6M194.13,490.70v2.6M205.07,490.70v2.6" stroke="#000" stroke-width="0.9"/>
<text x="153.21" y="501.00" font-size="5.5" text-anchor="middle" fill="#444" font-weight="bold" textLength="5.4" lengthAdjust="spacingAndGlyphs">10</text>
<text x="156.61" y="498.60" font-size="3.2" text-anchor="middle" fill="#444" font-weight="bold">0</text>
<text x="162.11" y="501.00" font-size="5.5" text-anchor="middle" fill="#444" font-weight="bold" textLength="5.4" lengthAdjust="spacingAndGlyphs">10</text>
<text x="165.51" y="498.60" font-size="3.2" text-anchor="middle" fill="#444" font-weight="bold">1</text>
<text x="172.23" y="501.00" font-size="5.5" text-anchor="middle" fill="#444" font-weight="bold" textLength="5.4" lengthAdjust="spacingAndGlyphs">10</text>
<text x="175.63" y="498.60" font-size="3.2" text-anchor="middle" fill="#444" font-weight="bold">2</text>
<text x="183.11" y="501.00" font-size="5.5" text-anchor="middle" fill="#444" font-weight="bold" textLength="5.4" lengthAdjust="spacingAndGlyphs">10</text>
<text x="186.51" y="498.60" font-size="3.2" text-anchor="middle" fill="#444" font-weight="bold">3</text>
<text x="194.63" y="501.00" font-size="5.5" text-anchor="middle" fill="#444" font-weight="bold" textLength="5.4" lengthAdjust="spacingAndGlyphs">10</text>
<text x="198.03" y="498.60" font-size="3.2" text-anchor="middle" fill="#444" font-weight="bold">4</text>
<text x="205.57" y="501.00" font-size="5.5" text-anchor="middle" fill="#444" font-weight="bold" textLength="5.4" lengthAdjust="spacingAndGlyphs">10</text>
<text x="208.97" y="498.60" font-size="3.2" text-anchor="middle" fill="#444" font-weight="bold">5</text>
<text x="182.47" y="510.40" font-size="7.0" text-anchor="middle" fill="#333" font-weight="bold" textLength="12.50" lengthAdjust="spacingAndGlyphs" >CD14</text>
<text x="182.50" y="428.50" font-size="8.0" text-anchor="middle" fill="#222" textLength="15.63" lengthAdjust="spacingAndGlyphs" >+IL6</text>
<clipPath id="c153_515"><rect x="153.22" y="515.40" width="58.50" height="58.00"/></clipPath>
<g clip-path="url(#c153_515)">
<path d="M153.22,571.78 L153.90,570.44 L155.94,565.05 L157.98,551.59 L159.34,539.47 L161.38,528.70 L162.74,523.99 L164.10,528.70 L165.46,536.78 L166.82,546.21 L168.19,555.63 L170.23,562.36 L172.27,565.73 L174.99,567.75 L177.71,568.42 L180.43,569.09 L183.15,568.82 L185.87,567.75 L188.59,566.40 L191.31,565.05 L194.03,565.73 L196.75,567.07 L199.48,569.09 L202.20,571.78 L206.28,573.13 L211.72,573.40" fill="none" stroke="#3f4a70" stroke-width="1.05" stroke-linejoin="round"/>
<path d="M165.84,573.40 L165.84,573.40 L167.74,571.92 L169.64,570.44 L171.27,569.09 L172.63,567.48 L173.99,565.32 L175.21,563.44 L176.43,561.69 L177.65,560.07 L178.74,557.51 L179.69,555.09 L180.64,553.61 L181.72,553.07 L182.67,552.53 L183.49,551.86 L184.17,551.05 L184.98,549.84 L185.66,548.09 L186.20,545.80 L186.61,543.24 L187.15,539.21 L187.70,543.24 L188.24,544.86 L188.65,545.13 L189.19,544.32 L189.60,544.19 L190.41,541.90 L191.09,539.21 L191.63,536.51 L192.17,534.22 L192.58,535.71 L193.12,535.30 L193.67,533.28 L194.21,533.82 L194.89,531.94 L195.70,530.86 L196.38,529.78 L197.20,528.30 L197.74,526.82 L198.28,525.74 L198.69,524.80 L199.23,526.55 L199.64,527.36 L200.18,528.57 L200.59,528.84 L201.13,527.49 L201.68,527.90 L202.22,530.99 L202.63,533.28 L203.17,536.38 L203.58,537.72 L204.12,538.80 L204.66,539.21 L205.07,543.11 L205.61,547.15 L206.16,550.51 L206.70,553.07 L207.24,555.90 L207.65,558.05 L208.60,563.03 L209.68,566.94 L210.63,568.42 L211.72,569.09 L211.72,573.40 Z" fill="#c84f3b" fill-opacity="0.65" stroke="none"/>
<path d="M165.84,573.40 L167.74,571.92 L169.64,570.44 L171.27,569.09 L172.63,567.48 L173.99,565.32 L175.21,563.44 L176.43,561.69 L177.65,560.07 L178.74,557.51 L179.69,555.09 L180.64,553.61 L181.72,553.07 L182.67,552.53 L183.49,551.86 L184.17,551.05 L184.98,549.84 L185.66,548.09 L186.20,545.80 L186.61,543.24 L187.15,539.21 L187.70,543.24 L188.24,544.86 L188.65,545.13 L189.19,544.32 L189.60,544.19 L190.41,541.90 L191.09,539.21 L191.63,536.51 L192.17,534.22 L192.58,535.71 L193.12,535.30 L193.67,533.28 L194.21,533.82 L194.89,531.94 L195.70,530.86 L196.38,529.78 L197.20,528.30 L197.74,526.82 L198.28,525.74 L198.69,524.80 L199.23,526.55 L199.64,527.36 L200.18,528.57 L200.59,528.84 L201.13,527.49 L201.68,527.90 L202.22,530.99 L202.63,533.28 L203.17,536.38 L203.58,537.72 L204.12,538.80 L204.66,539.21 L205.07,543.11 L205.61,547.15 L206.16,550.51 L206.70,553.07 L207.24,555.90 L207.65,558.05 L208.60,563.03 L209.68,566.94 L210.63,568.42 L211.72,569.09" fill="none" stroke="#9a102e" stroke-width="1.35" stroke-linejoin="round"/>
</g>
<rect x="153.22" y="515.40" width="58.50" height="58.00" fill="none" stroke="#000" stroke-width="1.3"/>
<path d="M150.62,573.40H153.22M150.62,562.28H153.22M150.62,551.16H153.22M150.62,540.04H153.22M150.62,528.92H153.22M150.62,517.80H153.22" stroke="#000" stroke-width="0.9"/>
<path d="M151.92,571.18H153.22M151.92,568.95H153.22M151.92,566.73H153.22M151.92,564.50H153.22M151.92,560.06H153.22M151.92,557.83H153.22M151.92,555.61H153.22M151.92,553.38H153.22M151.92,548.94H153.22M151.92,546.71H153.22M151.92,544.49H153.22M151.92,542.26H153.22M151.92,537.82H153.22M151.92,535.59H153.22M151.92,533.37H153.22M151.92,531.14H153.22M151.92,526.70H153.22M151.92,524.47H153.22M151.92,522.25H153.22M151.92,520.02H153.22" stroke="#000" stroke-width="0.6"/>
<text x="149.02" y="575.20" font-size="5.2" text-anchor="end" fill="#555" font-weight="bold" textLength="3.00" lengthAdjust="spacingAndGlyphs" >0</text>
<text x="149.02" y="564.08" font-size="5.2" text-anchor="end" fill="#555" font-weight="bold" textLength="6.00" lengthAdjust="spacingAndGlyphs" >20</text>
<text x="149.02" y="552.96" font-size="5.2" text-anchor="end" fill="#555" font-weight="bold" textLength="6.00" lengthAdjust="spacingAndGlyphs" >40</text>
<text x="149.02" y="541.84" font-size="5.2" text-anchor="end" fill="#555" font-weight="bold" textLength="6.00" lengthAdjust="spacingAndGlyphs" >60</text>
<text x="149.02" y="530.72" font-size="5.2" text-anchor="end" fill="#555" font-weight="bold" textLength="6.00" lengthAdjust="spacingAndGlyphs" >80</text>
<text x="149.02" y="519.60" font-size="5.2" text-anchor="end" fill="#555" font-weight="bold" textLength="9.00" lengthAdjust="spacingAndGlyphs" >100</text>
<path d="M153.22,573.40v1.6M155.47,573.40v1.6M157.72,573.40v1.6M159.97,573.40v1.6M162.22,573.40v1.6M164.47,573.40v1.6M166.72,573.40v1.6M168.97,573.40v1.6M171.22,573.40v1.6M173.47,573.40v1.6M175.72,573.40v1.6M177.97,573.40v1.6M180.22,573.40v1.6M182.47,573.40v1.6M184.72,573.40v1.6M186.97,573.40v1.6M189.22,573.40v1.6M191.47,573.40v1.6M193.72,573.40v1.6M195.97,573.40v1.6M198.22,573.40v1.6M200.47,573.40v1.6M202.72,573.40v1.6M204.97,573.40v1.6M207.22,573.40v1.6M209.47,573.40v1.6M211.72,573.40v1.6" stroke="#000" stroke-width="0.6"/>
<path d="M161.78,573.40v2.6M181.15,573.40v2.6M200.39,573.40v2.6" stroke="#000" stroke-width="0.9"/>
<text x="162.28" y="584.30" font-size="5.5" text-anchor="middle" fill="#444" font-weight="bold" textLength="5.4" lengthAdjust="spacingAndGlyphs">10</text>
<text x="165.68" y="581.90" font-size="3.2" text-anchor="middle" fill="#444" font-weight="bold">3</text>
<text x="181.65" y="584.30" font-size="5.5" text-anchor="middle" fill="#444" font-weight="bold" textLength="5.4" lengthAdjust="spacingAndGlyphs">10</text>
<text x="185.05" y="581.90" font-size="3.2" text-anchor="middle" fill="#444" font-weight="bold">4</text>
<text x="200.89" y="584.30" font-size="5.5" text-anchor="middle" fill="#444" font-weight="bold" textLength="5.4" lengthAdjust="spacingAndGlyphs">10</text>
<text x="204.29" y="581.90" font-size="3.2" text-anchor="middle" fill="#444" font-weight="bold">5</text>
<text x="182.47" y="593.10" font-size="7.0" text-anchor="middle" fill="#333" font-weight="bold" textLength="14.00" lengthAdjust="spacingAndGlyphs" >CD117</text>
<clipPath id="c240_432"><rect x="240.39" y="432.40" width="58.50" height="58.30"/></clipPath>
<g clip-path="url(#c240_432)">
<path d="M240.39,490.70 L243.14,490.70 L246.65,490.05 L249.81,488.85 L252.97,486.89 L255.42,484.06 L257.53,480.90 L258.93,476.27 L260.34,470.01 L261.95,461.69 L263.50,453.68 L264.90,447.15 L265.74,441.71 L266.31,438.71 L266.66,441.71 L267.12,447.15 L267.94,453.68 L268.94,461.69 L269.52,470.01 L270.34,472.81 L271.34,475.05 L272.68,481.14 L274.03,480.47 L276.02,478.40 L278.06,477.73 L280.05,477.06 L281.40,479.13 L282.74,483.21 L284.79,487.29 L286.78,489.75 L288.83,490.70 L298.89,490.70" fill="none" stroke="#3f4a70" stroke-width="1.05" stroke-linejoin="round"/>
<path d="M240.39,490.70 L240.39,490.70 L247.00,490.70 L249.93,490.05 L252.56,488.85 L255.19,486.89 L257.24,484.06 L258.99,480.90 L260.16,476.27 L261.33,470.01 L262.68,461.69 L263.97,453.68 L265.14,447.15 L265.84,441.71 L266.31,438.71 L266.66,441.71 L267.12,447.15 L267.94,453.68 L268.94,461.69 L269.52,470.01 L270.05,476.27 L270.69,480.90 L271.45,484.06 L272.33,486.89 L273.62,488.85 L275.08,490.05 L277.42,490.70 L298.89,490.70 L298.89,490.70 Z" fill="#c84f3b" fill-opacity="0.65" stroke="none"/>
<path d="M240.39,490.70 L247.00,490.70 L249.93,490.05 L252.56,488.85 L255.19,486.89 L257.24,484.06 L258.99,480.90 L260.16,476.27 L261.33,470.01 L262.68,461.69 L263.97,453.68 L265.14,447.15 L265.84,441.71 L266.31,438.71 L266.66,441.71 L267.12,447.15 L267.94,453.68 L268.94,461.69 L269.52,470.01 L270.05,476.27 L270.69,480.90 L271.45,484.06 L272.33,486.89 L273.62,488.85 L275.08,490.05 L277.42,490.70 L298.89,490.70" fill="none" stroke="#9a102e" stroke-width="1.35" stroke-linejoin="round"/>
</g>
<rect x="240.39" y="432.40" width="58.50" height="58.30" fill="none" stroke="#000" stroke-width="1.3"/>
<path d="M237.79,490.70H240.39M237.79,479.52H240.39M237.79,468.34H240.39M237.79,457.16H240.39M237.79,445.98H240.39M237.79,434.80H240.39" stroke="#000" stroke-width="0.9"/>
<path d="M239.09,488.46H240.39M239.09,486.23H240.39M239.09,483.99H240.39M239.09,481.76H240.39M239.09,477.28H240.39M239.09,475.05H240.39M239.09,472.81H240.39M239.09,470.58H240.39M239.09,466.10H240.39M239.09,463.87H240.39M239.09,461.63H240.39M239.09,459.40H240.39M239.09,454.92H240.39M239.09,452.69H240.39M239.09,450.45H240.39M239.09,448.22H240.39M239.09,443.74H240.39M239.09,441.51H240.39M239.09,439.27H240.39M239.09,437.04H240.39" stroke="#000" stroke-width="0.6"/>
<text x="236.19" y="492.50" font-size="5.2" text-anchor="end" fill="#555" font-weight="bold" textLength="3.00" lengthAdjust="spacingAndGlyphs" >0</text>
<text x="236.19" y="481.32" font-size="5.2" text-anchor="end" fill="#555" font-weight="bold" textLength="6.00" lengthAdjust="spacingAndGlyphs" >20</text>
<text x="236.19" y="470.14" font-size="5.2" text-anchor="end" fill="#555" font-weight="bold" textLength="6.00" lengthAdjust="spacingAndGlyphs" >40</text>
<text x="236.19" y="458.96" font-size="5.2" text-anchor="end" fill="#555" font-weight="bold" textLength="6.00" lengthAdjust="spacingAndGlyphs" >60</text>
<text x="236.19" y="447.78" font-size="5.2" text-anchor="end" fill="#555" font-weight="bold" textLength="6.00" lengthAdjust="spacingAndGlyphs" >80</text>
<text x="236.19" y="436.60" font-size="5.2" text-anchor="end" fill="#555" font-weight="bold" textLength="9.00" lengthAdjust="spacingAndGlyphs" >100</text>
<path d="M240.39,490.70v1.6M242.64,490.70v1.6M244.89,490.70v1.6M247.14,490.70v1.6M249.39,490.70v1.6M251.64,490.70v1.6M253.89,490.70v1.6M256.14,490.70v1.6M258.39,490.70v1.6M260.64,490.70v1.6M262.89,490.70v1.6M265.14,490.70v1.6M267.39,490.70v1.6M269.64,490.70v1.6M271.89,490.70v1.6M274.14,490.70v1.6M276.39,490.70v1.6M278.64,490.70v1.6M280.89,490.70v1.6M283.14,490.70v1.6M285.39,490.70v1.6M287.64,490.70v1.6M289.89,490.70v1.6M292.14,490.70v1.6M294.39,490.70v1.6M296.64,490.70v1.6M298.89,490.70v1.6" stroke="#000" stroke-width="0.6"/>
<path d="M239.88,490.70v2.6M248.78,490.70v2.6M258.90,490.70v2.6M269.78,490.70v2.6M281.30,490.70v2.6M292.24,490.70v2.6" stroke="#000" stroke-width="0.9"/>
<text x="240.38" y="501.00" font-size="5.5" text-anchor="middle" fill="#444" font-weight="bold" textLength="5.4" lengthAdjust="spacingAndGlyphs">10</text>
<text x="243.78" y="498.60" font-size="3.2" text-anchor="middle" fill="#444" font-weight="bold">0</text>
<text x="249.28" y="501.00" font-size="5.5" text-anchor="middle" fill="#444" font-weight="bold" textLength="5.4" lengthAdjust="spacingAndGlyphs">10</text>
<text x="252.68" y="498.60" font-size="3.2" text-anchor="middle" fill="#444" font-weight="bold">1</text>
<text x="259.40" y="501.00" font-size="5.5" text-anchor="middle" fill="#444" font-weight="bold" textLength="5.4" lengthAdjust="spacingAndGlyphs">10</text>
<text x="262.80" y="498.60" font-size="3.2" text-anchor="middle" fill="#444" font-weight="bold">2</text>
<text x="270.28" y="501.00" font-size="5.5" text-anchor="middle" fill="#444" font-weight="bold" textLength="5.4" lengthAdjust="spacingAndGlyphs">10</text>
<text x="273.68" y="498.60" font-size="3.2" text-anchor="middle" fill="#444" font-weight="bold">3</text>
<text x="281.80" y="501.00" font-size="5.5" text-anchor="middle" fill="#444" font-weight="bold" textLength="5.4" lengthAdjust="spacingAndGlyphs">10</text>
<text x="285.20" y="498.60" font-size="3.2" text-anchor="middle" fill="#444" font-weight="bold">4</text>
<text x="292.74" y="501.00" font-size="5.5" text-anchor="middle" fill="#444" font-weight="bold" textLength="5.4" lengthAdjust="spacingAndGlyphs">10</text>
<text x="296.14" y="498.60" font-size="3.2" text-anchor="middle" fill="#444" font-weight="bold">5</text>
<text x="269.64" y="510.40" font-size="7.0" text-anchor="middle" fill="#333" font-weight="bold" textLength="12.50" lengthAdjust="spacingAndGlyphs" >CD14</text>
<text x="270.20" y="428.50" font-size="8.0" text-anchor="middle" fill="#222" textLength="20.91" lengthAdjust="spacingAndGlyphs" >+TPO</text>
<clipPath id="c240_515"><rect x="240.39" y="515.40" width="58.50" height="58.00"/></clipPath>
<g clip-path="url(#c240_515)">
<path d="M240.39,573.13 L241.07,572.46 L243.10,567.75 L245.13,558.32 L247.16,542.17 L249.19,528.70 L250.95,525.34 L252.31,530.05 L253.25,538.13 L253.93,545.53 L254.61,544.86 L255.29,547.55 L256.64,555.63 L257.99,559.67 L259.35,563.71 L261.38,565.73 L263.41,566.40 L266.12,565.73 L268.83,565.05 L270.86,565.73 L272.89,564.38 L275.60,561.69 L278.31,558.32 L280.34,557.65 L282.37,558.32 L284.40,557.65 L286.43,559.67 L288.46,562.36 L290.49,566.40 L293.20,570.44 L295.91,572.86 L298.89,573.40" fill="none" stroke="#3f4a70" stroke-width="1.05" stroke-linejoin="round"/>
<path d="M253.01,573.40 L253.01,573.40 L254.91,571.92 L256.81,570.44 L258.44,569.09 L259.80,567.48 L261.16,565.32 L262.38,563.44 L263.60,561.69 L264.82,560.07 L265.91,557.51 L266.86,555.09 L267.81,553.61 L268.89,553.07 L269.84,552.53 L270.66,551.86 L271.34,551.05 L272.15,549.84 L272.83,548.09 L273.37,545.80 L273.78,543.24 L274.32,539.21 L274.87,543.24 L275.41,544.86 L275.82,545.13 L276.36,544.32 L276.77,544.19 L277.58,541.90 L278.26,539.21 L278.80,536.51 L279.34,534.22 L279.75,535.71 L280.29,535.30 L280.84,533.28 L281.38,533.82 L282.06,531.94 L282.87,530.86 L283.55,529.78 L284.37,528.30 L284.91,526.82 L285.45,525.74 L285.86,524.80 L286.40,526.55 L286.81,527.36 L287.35,528.57 L287.76,528.84 L288.30,527.49 L288.85,527.90 L289.39,530.99 L289.80,533.28 L290.34,536.38 L290.75,537.72 L291.29,538.80 L291.83,539.21 L292.24,543.11 L292.78,547.15 L293.33,550.51 L293.87,553.07 L294.41,555.90 L294.82,558.05 L295.77,563.03 L296.85,566.94 L297.80,568.42 L298.89,569.09 L298.89,573.40 Z" fill="#c84f3b" fill-opacity="0.65" stroke="none"/>
<path d="M253.01,573.40 L254.91,571.92 L256.81,570.44 L258.44,569.09 L259.80,567.48 L261.16,565.32 L262.38,563.44 L263.60,561.69 L264.82,560.07 L265.91,557.51 L266.86,555.09 L267.81,553.61 L268.89,553.07 L269.84,552.53 L270.66,551.86 L271.34,551.05 L272.15,549.84 L272.83,548.09 L273.37,545.80 L273.78,543.24 L274.32,539.21 L274.87,543.24 L275.41,544.86 L275.82,545.13 L276.36,544.32 L276.77,544.19 L277.58,541.90 L278.26,539.21 L278.80,536.51 L279.34,534.22 L279.75,535.71 L280.29,535.30 L280.84,533.28 L281.38,533.82 L282.06,531.94 L282.87,530.86 L283.55,529.78 L284.37,528.30 L284.91,526.82 L285.45,525.74 L285.86,524.80 L286.40,526.55 L286.81,527.36 L287.35,528.57 L287.76,528.84 L288.30,527.49 L288.85,527.90 L289.39,530.99 L289.80,533.28 L290.34,536.38 L290.75,537.72 L291.29,538.80 L291.83,539.21 L292.24,543.11 L292.78,547.15 L293.33,550.51 L293.87,553.07 L294.41,555.90 L294.82,558.05 L295.77,563.03 L296.85,566.94 L297.80,568.42 L298.89,569.09" fill="none" stroke="#9a102e" stroke-width="1.35" stroke-linejoin="round"/>
</g>
<rect x="240.39" y="515.40" width="58.50" height="58.00" fill="none" stroke="#000" stroke-width="1.3"/>
<path d="M237.79,573.40H240.39M237.79,562.28H240.39M237.79,551.16H240.39M237.79,540.04H240.39M237.79,528.92H240.39M237.79,517.80H240.39" stroke="#000" stroke-width="0.9"/>
<path d="M239.09,571.18H240.39M239.09,568.95H240.39M239.09,566.73H240.39M239.09,564.50H240.39M239.09,560.06H240.39M239.09,557.83H240.39M239.09,555.61H240.39M239.09,553.38H240.39M239.09,548.94H240.39M239.09,546.71H240.39M239.09,544.49H240.39M239.09,542.26H240.39M239.09,537.82H240.39M239.09,535.59H240.39M239.09,533.37H240.39M239.09,531.14H240.39M239.09,526.70H240.39M239.09,524.47H240.39M239.09,522.25H240.39M239.09,520.02H240.39" stroke="#000" stroke-width="0.6"/>
<text x="236.19" y="575.20" font-size="5.2" text-anchor="end" fill="#555" font-weight="bold" textLength="3.00" lengthAdjust="spacingAndGlyphs" >0</text>
<text x="236.19" y="564.08" font-size="5.2" text-anchor="end" fill="#555" font-weight="bold" textLength="6.00" lengthAdjust="spacingAndGlyphs" >20</text>
<text x="236.19" y="552.96" font-size="5.2" text-anchor="end" fill="#555" font-weight="bold" textLength="6.00" lengthAdjust="spacingAndGlyphs" >40</text>
<text x="236.19" y="541.84" font-size="5.2" text-anchor="end" fill="#555" font-weight="bold" textLength="6.00" lengthAdjust="spacingAndGlyphs" >60</text>
<text x="236.19" y="530.72" font-size="5.2" text-anchor="end" fill="#555" font-weight="bold" textLength="6.00" lengthAdjust="spacingAndGlyphs" >80</text>
<text x="236.19" y="519.60" font-size="5.2" text-anchor="end" fill="#555" font-weight="bold" textLength="9.00" lengthAdjust="spacingAndGlyphs" >100</text>
<path d="M240.39,573.40v1.6M242.64,573.40v1.6M244.89,573.40v1.6M247.14,573.40v1.6M249.39,573.40v1.6M251.64,573.40v1.6M253.89,573.40v1.6M256.14,573.40v1.6M258.39,573.40v1.6M260.64,573.40v1.6M262.89,573.40v1.6M265.14,573.40v1.6M267.39,573.40v1.6M269.64,573.40v1.6M271.89,573.40v1.6M274.14,573.40v1.6M276.39,573.40v1.6M278.64,573.40v1.6M280.89,573.40v1.6M283.14,573.40v1.6M285.39,573.40v1.6M287.64,573.40v1.6M289.89,573.40v1.6M292.14,573.40v1.6M294.39,573.40v1.6M296.64,573.40v1.6M298.89,573.40v1.6" stroke="#000" stroke-width="0.6"/>
<path d="M248.95,573.40v2.6M268.32,573.40v2.6M287.56,573.40v2.6" stroke="#000" stroke-width="0.9"/>
<text x="249.45" y="584.30" font-size="5.5" text-anchor="middle" fill="#444" font-weight="bold" textLength="5.4" lengthAdjust="spacingAndGlyphs">10</text>
<text x="252.85" y="581.90" font-size="3.2" text-anchor="middle" fill="#444" font-weight="bold">3</text>
<text x="268.82" y="584.30" font-size="5.5" text-anchor="middle" fill="#444" font-weight="bold" textLength="5.4" lengthAdjust="spacingAndGlyphs">10</text>
<text x="272.22" y="581.90" font-size="3.2" text-anchor="middle" fill="#444" font-weight="bold">4</text>
<text x="288.06" y="584.30" font-size="5.5" text-anchor="middle" fill="#444" font-weight="bold" textLength="5.4" lengthAdjust="spacingAndGlyphs">10</text>
<text x="291.46" y="581.90" font-size="3.2" text-anchor="middle" fill="#444" font-weight="bold">5</text>
<text x="269.64" y="593.10" font-size="7.0" text-anchor="middle" fill="#333" font-weight="bold" textLength="14.00" lengthAdjust="spacingAndGlyphs" >CD117</text>
<clipPath id="c327_432"><rect x="327.56" y="432.40" width="58.50" height="58.30"/></clipPath>
<g clip-path="url(#c327_432)">
<path d="M327.56,490.70 L330.37,490.70 L333.88,490.05 L337.04,488.85 L340.20,486.89 L342.65,484.06 L344.76,480.90 L346.16,476.27 L347.57,470.01 L349.18,461.69 L350.73,453.68 L352.13,447.15 L352.97,441.71 L353.53,438.71 L353.88,441.71 L354.35,447.15 L355.17,453.68 L356.17,461.69 L356.58,465.54 L357.51,468.23 L359.50,470.91 L360.85,473.65 L361.55,472.31 L363.54,472.98 L365.58,475.05 L366.93,478.40 L368.28,483.21 L370.32,487.29 L372.31,489.75 L374.36,490.70 L386.06,490.70" fill="none" stroke="#3f4a70" stroke-width="1.05" stroke-linejoin="round"/>
<path d="M327.56,490.70 L327.56,490.70 L334.23,490.70 L337.15,490.05 L339.79,488.85 L342.42,486.89 L344.47,484.06 L346.22,480.90 L347.39,476.27 L348.56,470.01 L349.91,461.69 L351.19,453.68 L352.36,447.15 L353.07,441.71 L353.53,438.71 L353.88,441.71 L354.35,447.15 L355.17,453.68 L356.17,461.69 L356.75,470.01 L357.28,476.27 L357.92,480.90 L358.68,484.06 L359.56,486.89 L360.85,488.85 L362.31,490.05 L364.65,490.70 L386.06,490.70 L386.06,490.70 Z" fill="#c84f3b" fill-opacity="0.65" stroke="none"/>
<path d="M327.56,490.70 L334.23,490.70 L337.15,490.05 L339.79,488.85 L342.42,486.89 L344.47,484.06 L346.22,480.90 L347.39,476.27 L348.56,470.01 L349.91,461.69 L351.19,453.68 L352.36,447.15 L353.07,441.71 L353.53,438.71 L353.88,441.71 L354.35,447.15 L355.17,453.68 L356.17,461.69 L356.75,470.01 L357.28,476.27 L357.92,480.90 L358.68,484.06 L359.56,486.89 L360.85,488.85 L362.31,490.05 L364.65,490.70 L386.06,490.70" fill="none" stroke="#9a102e" stroke-width="1.35" stroke-linejoin="round"/>
</g>
<rect x="327.56" y="432.40" width="58.50" height="58.30" fill="none" stroke="#000" stroke-width="1.3"/>
<path d="M324.96,490.70H327.56M324.96,479.52H327.56M324.96,468.34H327.56M324.96,457.16H327.56M324.96,445.98H327.56M324.96,434.80H327.56" stroke="#000" stroke-width="0.9"/>
<path d="M326.26,488.46H327.56M326.26,486.23H327.56M326.26,483.99H327.56M326.26,481.76H327.56M326.26,477.28H327.56M326.26,475.05H327.56M326.26,472.81H327.56M326.26,470.58H327.56M326.26,466.10H327.56M326.26,463.87H327.56M326.26,461.63H327.56M326.26,459.40H327.56M326.26,454.92H327.56M326.26,452.69H327.56M326.26,450.45H327.56M326.26,448.22H327.56M326.26,443.74H327.56M326.26,441.51H327.56M326.26,439.27H327.56M326.26,437.04H327.56" stroke="#000" stroke-width="0.6"/>
<text x="323.36" y="492.50" font-size="5.2" text-anchor="end" fill="#555" font-weight="bold" textLength="3.00" lengthAdjust="spacingAndGlyphs" >0</text>
<text x="323.36" y="481.32" font-size="5.2" text-anchor="end" fill="#555" font-weight="bold" textLength="6.00" lengthAdjust="spacingAndGlyphs" >20</text>
<text x="323.36" y="470.14" font-size="5.2" text-anchor="end" fill="#555" font-weight="bold" textLength="6.00" lengthAdjust="spacingAndGlyphs" >40</text>
<text x="323.36" y="458.96" font-size="5.2" text-anchor="end" fill="#555" font-weight="bold" textLength="6.00" lengthAdjust="spacingAndGlyphs" >60</text>
<text x="323.36" y="447.78" font-size="5.2" text-anchor="end" fill="#555" font-weight="bold" textLength="6.00" lengthAdjust="spacingAndGlyphs" >80</text>
<text x="323.36" y="436.60" font-size="5.2" text-anchor="end" fill="#555" font-weight="bold" textLength="9.00" lengthAdjust="spacingAndGlyphs" >100</text>
<path d="M327.56,490.70v1.6M329.81,490.70v1.6M332.06,490.70v1.6M334.31,490.70v1.6M336.56,490.70v1.6M338.81,490.70v1.6M341.06,490.70v1.6M343.31,490.70v1.6M345.56,490.70v1.6M347.81,490.70v1.6M350.06,490.70v1.6M352.31,490.70v1.6M354.56,490.70v1.6M356.81,490.70v1.6M359.06,490.70v1.6M361.31,490.70v1.6M363.56,490.70v1.6M365.81,490.70v1.6M368.06,490.70v1.6M370.31,490.70v1.6M372.56,490.70v1.6M374.81,490.70v1.6M377.06,490.70v1.6M379.31,490.70v1.6M381.56,490.70v1.6M383.81,490.70v1.6M386.06,490.70v1.6" stroke="#000" stroke-width="0.6"/>
<path d="M327.05,490.70v2.6M335.95,490.70v2.6M346.07,490.70v2.6M356.95,490.70v2.6M368.47,490.70v2.6M379.41,490.70v2.6" stroke="#000" stroke-width="0.9"/>
<text x="327.55" y="501.00" font-size="5.5" text-anchor="middle" fill="#444" font-weight="bold" textLength="5.4" lengthAdjust="spacingAndGlyphs">10</text>
<text x="330.95" y="498.60" font-size="3.2" text-anchor="middle" fill="#444" font-weight="bold">0</text>
<text x="336.45" y="501.00" font-size="5.5" text-anchor="middle" fill="#444" font-weight="bold" textLength="5.4" lengthAdjust="spacingAndGlyphs">10</text>
<text x="339.85" y="498.60" font-size="3.2" text-anchor="middle" fill="#444" font-weight="bold">1</text>
<text x="346.57" y="501.00" font-size="5.5" text-anchor="middle" fill="#444" font-weight="bold" textLength="5.4" lengthAdjust="spacingAndGlyphs">10</text>
<text x="349.97" y="498.60" font-size="3.2" text-anchor="middle" fill="#444" font-weight="bold">2</text>
<text x="357.45" y="501.00" font-size="5.5" text-anchor="middle" fill="#444" font-weight="bold" textLength="5.4" lengthAdjust="spacingAndGlyphs">10</text>
<text x="360.85" y="498.60" font-size="3.2" text-anchor="middle" fill="#444" font-weight="bold">3</text>
<text x="368.97" y="501.00" font-size="5.5" text-anchor="middle" fill="#444" font-weight="bold" textLength="5.4" lengthAdjust="spacingAndGlyphs">10</text>
<text x="372.37" y="498.60" font-size="3.2" text-anchor="middle" fill="#444" font-weight="bold">4</text>
<text x="379.91" y="501.00" font-size="5.5" text-anchor="middle" fill="#444" font-weight="bold" textLength="5.4" lengthAdjust="spacingAndGlyphs">10</text>
<text x="383.31" y="498.60" font-size="3.2" text-anchor="middle" fill="#444" font-weight="bold">5</text>
<text x="356.81" y="510.40" font-size="7.0" text-anchor="middle" fill="#333" font-weight="bold" textLength="12.50" lengthAdjust="spacingAndGlyphs" >CD14</text>
<text x="357.30" y="428.50" font-size="8.0" text-anchor="middle" fill="#222" textLength="26.93" lengthAdjust="spacingAndGlyphs" >+FLT3L</text>
<clipPath id="c327_515"><rect x="327.56" y="515.40" width="58.50" height="58.00"/></clipPath>
<g clip-path="url(#c327_515)">
<path d="M327.56,573.40 L327.83,572.86 L329.86,567.75 L331.89,555.63 L333.92,538.13 L335.28,526.01 L336.63,523.99 L337.31,521.30 L338.66,528.70 L340.02,540.82 L341.37,554.28 L342.73,561.01 L344.08,565.05 L346.11,567.07 L348.14,568.42 L350.85,569.09 L353.56,569.36 L356.27,569.77 L358.98,570.03 L361.69,569.77 L364.39,569.36 L367.10,569.36 L369.81,569.09 L371.84,568.82 L373.87,570.44 L376.58,572.46 L380.64,573.13 L386.06,573.40" fill="none" stroke="#3f4a70" stroke-width="1.05" stroke-linejoin="round"/>
<path d="M340.18,573.40 L340.18,573.40 L342.08,571.92 L343.98,570.44 L345.61,569.09 L346.97,567.48 L348.33,565.32 L349.55,563.44 L350.77,561.69 L351.99,560.07 L353.08,557.51 L354.03,555.09 L354.98,553.61 L356.06,553.07 L357.01,552.53 L357.83,551.86 L358.51,551.05 L359.32,549.84 L360.00,548.09 L360.54,545.80 L360.95,543.24 L361.49,539.21 L362.04,543.24 L362.58,544.86 L362.99,545.13 L363.53,544.32 L363.94,544.19 L364.75,541.90 L365.43,539.21 L365.97,536.51 L366.51,534.22 L366.92,535.71 L367.46,535.30 L368.01,533.28 L368.55,533.82 L369.23,531.94 L370.04,530.86 L370.72,529.78 L371.54,528.30 L372.08,526.82 L372.62,525.74 L373.03,524.80 L373.57,526.55 L373.98,527.36 L374.52,528.57 L374.93,528.84 L375.47,527.49 L376.02,527.90 L376.56,530.99 L376.97,533.28 L377.51,536.38 L377.92,537.72 L378.46,538.80 L379.00,539.21 L379.41,543.11 L379.95,547.15 L380.50,550.51 L381.04,553.07 L381.58,555.90 L381.99,558.05 L382.94,563.03 L384.02,566.94 L384.97,568.42 L386.06,569.09 L386.06,573.40 Z" fill="#c84f3b" fill-opacity="0.65" stroke="none"/>
<path d="M340.18,573.40 L342.08,571.92 L343.98,570.44 L345.61,569.09 L346.97,567.48 L348.33,565.32 L349.55,563.44 L350.77,561.69 L351.99,560.07 L353.08,557.51 L354.03,555.09 L354.98,553.61 L356.06,553.07 L357.01,552.53 L357.83,551.86 L358.51,551.05 L359.32,549.84 L360.00,548.09 L360.54,545.80 L360.95,543.24 L361.49,539.21 L362.04,543.24 L362.58,544.86 L362.99,545.13 L363.53,544.32 L363.94,544.19 L364.75,541.90 L365.43,539.21 L365.97,536.51 L366.51,534.22 L366.92,535.71 L367.46,535.30 L368.01,533.28 L368.55,533.82 L369.23,531.94 L370.04,530.86 L370.72,529.78 L371.54,528.30 L372.08,526.82 L372.62,525.74 L373.03,524.80 L373.57,526.55 L373.98,527.36 L374.52,528.57 L374.93,528.84 L375.47,527.49 L376.02,527.90 L376.56,530.99 L376.97,533.28 L377.51,536.38 L377.92,537.72 L378.46,538.80 L379.00,539.21 L379.41,543.11 L379.95,547.15 L380.50,550.51 L381.04,553.07 L381.58,555.90 L381.99,558.05 L382.94,563.03 L384.02,566.94 L384.97,568.42 L386.06,569.09" fill="none" stroke="#9a102e" stroke-width="1.35" stroke-linejoin="round"/>
</g>
<rect x="327.56" y="515.40" width="58.50" height="58.00" fill="none" stroke="#000" stroke-width="1.3"/>
<path d="M324.96,573.40H327.56M324.96,562.28H327.56M324.96,551.16H327.56M324.96,540.04H327.56M324.96,528.92H327.56M324.96,517.80H327.56" stroke="#000" stroke-width="0.9"/>
<path d="M326.26,571.18H327.56M326.26,568.95H327.56M326.26,566.73H327.56M326.26,564.50H327.56M326.26,560.06H327.56M326.26,557.83H327.56M326.26,555.61H327.56M326.26,553.38H327.56M326.26,548.94H327.56M326.26,546.71H327.56M326.26,544.49H327.56M326.26,542.26H327.56M326.26,537.82H327.56M326.26,535.59H327.56M326.26,533.37H327.56M326.26,531.14H327.56M326.26,526.70H327.56M326.26,524.47H327.56M326.26,522.25H327.56M326.26,520.02H327.56" stroke="#000" stroke-width="0.6"/>
<text x="323.36" y="575.20" font-size="5.2" text-anchor="end" fill="#555" font-weight="bold" textLength="3.00" lengthAdjust="spacingAndGlyphs" >0</text>
<text x="323.36" y="564.08" font-size="5.2" text-anchor="end" fill="#555" font-weight="bold" textLength="6.00" lengthAdjust="spacingAndGlyphs" >20</text>
<text x="323.36" y="552.96" font-size="5.2" text-anchor="end" fill="#555" font-weight="bold" textLength="6.00" lengthAdjust="spacingAndGlyphs" >40</text>
<text x="323.36" y="541.84" font-size="5.2" text-anchor="end" fill="#555" font-weight="bold" textLength="6.00" lengthAdjust="spacingAndGlyphs" >60</text>
<text x="323.36" y="530.72" font-size="5.2" text-anchor="end" fill="#555" font-weight="bold" textLength="6.00" lengthAdjust="spacingAndGlyphs" >80</text>
<text x="323.36" y="519.60" font-size="5.2" text-anchor="end" fill="#555" font-weight="bold" textLength="9.00" lengthAdjust="spacingAndGlyphs" >100</text>
<path d="M327.56,573.40v1.6M329.81,573.40v1.6M332.06,573.40v1.6M334.31,573.40v1.6M336.56,573.40v1.6M338.81,573.40v1.6M341.06,573.40v1.6M343.31,573.40v1.6M345.56,573.40v1.6M347.81,573.40v1.6M350.06,573.40v1.6M352.31,573.40v1.6M354.56,573.40v1.6M356.81,573.40v1.6M359.06,573.40v1.6M361.31,573.40v1.6M363.56,573.40v1.6M365.81,573.40v1.6M368.06,573.40v1.6M370.31,573.40v1.6M372.56,573.40v1.6M374.81,573.40v1.6M377.06,573.40v1.6M379.31,573.40v1.6M381.56,573.40v1.6M383.81,573.40v1.6M386.06,573.40v1.6" stroke="#000" stroke-width="0.6"/>
<path d="M336.12,573.40v2.6M355.49,573.40v2.6M374.73,573.40v2.6" stroke="#000" stroke-width="0.9"/>
<text x="336.62" y="584.30" font-size="5.5" text-anchor="middle" fill="#444" font-weight="bold" textLength="5.4" lengthAdjust="spacingAndGlyphs">10</text>
<text x="340.02" y="581.90" font-size="3.2" text-anchor="middle" fill="#444" font-weight="bold">3</text>
<text x="355.99" y="584.30" font-size="5.5" text-anchor="middle" fill="#444" font-weight="bold" textLength="5.4" lengthAdjust="spacingAndGlyphs">10</text>
<text x="359.39" y="581.90" font-size="3.2" text-anchor="middle" fill="#444" font-weight="bold">4</text>
<text x="375.23" y="584.30" font-size="5.5" text-anchor="middle" fill="#444" font-weight="bold" textLength="5.4" lengthAdjust="spacingAndGlyphs">10</text>
<text x="378.63" y="581.90" font-size="3.2" text-anchor="middle" fill="#444" font-weight="bold">5</text>
<text x="356.81" y="593.10" font-size="7.0" text-anchor="middle" fill="#333" font-weight="bold" textLength="14.00" lengthAdjust="spacingAndGlyphs" >CD117</text>
<clipPath id="c414_432"><rect x="414.73" y="432.40" width="58.50" height="58.30"/></clipPath>
<g clip-path="url(#c414_432)">
<path d="M414.73,490.70 L417.48,490.70 L420.99,490.05 L424.15,488.85 L427.31,486.89 L429.76,484.06 L431.87,480.90 L433.27,476.27 L434.68,470.01 L436.29,461.69 L437.84,453.68 L439.24,447.15 L440.08,441.71 L440.65,438.71 L441.00,441.71 L441.46,447.15 L442.28,453.68 L443.28,461.69 L443.86,470.01 L444.80,474.32 L446.79,475.72 L448.78,473.65 L450.53,471.64 L451.88,473.65 L453.46,470.24 L454.80,472.31 L456.15,476.39 L458.14,481.81 L460.13,485.95 L462.17,489.75 L464.16,490.70 L473.23,490.70" fill="none" stroke="#3f4a70" stroke-width="1.05" stroke-linejoin="round"/>
<path d="M414.73,490.70 L414.73,490.70 L421.34,490.70 L424.27,490.05 L426.90,488.85 L429.53,486.89 L431.58,484.06 L433.33,480.90 L434.50,476.27 L435.67,470.01 L437.02,461.69 L438.31,453.68 L439.48,447.15 L440.18,441.71 L440.65,438.71 L441.00,441.71 L441.46,447.15 L442.28,453.68 L443.28,461.69 L443.86,470.01 L444.39,476.27 L445.03,480.90 L445.79,484.06 L446.67,486.89 L447.96,488.85 L449.42,490.05 L451.76,490.70 L473.23,490.70 L473.23,490.70 Z" fill="#c84f3b" fill-opacity="0.65" stroke="none"/>
<path d="M414.73,490.70 L421.34,490.70 L424.27,490.05 L426.90,488.85 L429.53,486.89 L431.58,484.06 L433.33,480.90 L434.50,476.27 L435.67,470.01 L437.02,461.69 L438.31,453.68 L439.48,447.15 L440.18,441.71 L440.65,438.71 L441.00,441.71 L441.46,447.15 L442.28,453.68 L443.28,461.69 L443.86,470.01 L444.39,476.27 L445.03,480.90 L445.79,484.06 L446.67,486.89 L447.96,488.85 L449.42,490.05 L451.76,490.70 L473.23,490.70" fill="none" stroke="#9a102e" stroke-width="1.35" stroke-linejoin="round"/>
</g>
<rect x="414.73" y="432.40" width="58.50" height="58.30" fill="none" stroke="#000" stroke-width="1.3"/>
<path d="M412.13,490.70H414.73M412.13,479.52H414.73M412.13,468.34H414.73M412.13,457.16H414.73M412.13,445.98H414.73M412.13,434.80H414.73" stroke="#000" stroke-width="0.9"/>
<path d="M413.43,488.46H414.73M413.43,486.23H414.73M413.43,483.99H414.73M413.43,481.76H414.73M413.43,477.28H414.73M413.43,475.05H414.73M413.43,472.81H414.73M413.43,470.58H414.73M413.43,466.10H414.73M413.43,463.87H414.73M413.43,461.63H414.73M413.43,459.40H414.73M413.43,454.92H414.73M413.43,452.69H414.73M413.43,450.45H414.73M413.43,448.22H414.73M413.43,443.74H414.73M413.43,441.51H414.73M413.43,439.27H414.73M413.43,437.04H414.73" stroke="#000" stroke-width="0.6"/>
<text x="410.53" y="492.50" font-size="5.2" text-anchor="end" fill="#555" font-weight="bold" textLength="3.00" lengthAdjust="spacingAndGlyphs" >0</text>
<text x="410.53" y="481.32" font-size="5.2" text-anchor="end" fill="#555" font-weight="bold" textLength="6.00" lengthAdjust="spacingAndGlyphs" >20</text>
<text x="410.53" y="470.14" font-size="5.2" text-anchor="end" fill="#555" font-weight="bold" textLength="6.00" lengthAdjust="spacingAndGlyphs" >40</text>
<text x="410.53" y="458.96" font-size="5.2" text-anchor="end" fill="#555" font-weight="bold" textLength="6.00" lengthAdjust="spacingAndGlyphs" >60</text>
<text x="410.53" y="447.78" font-size="5.2" text-anchor="end" fill="#555" font-weight="bold" textLength="6.00" lengthAdjust="spacingAndGlyphs" >80</text>
<text x="410.53" y="436.60" font-size="5.2" text-anchor="end" fill="#555" font-weight="bold" textLength="9.00" lengthAdjust="spacingAndGlyphs" >100</text>
<path d="M414.73,490.70v1.6M416.98,490.70v1.6M419.23,490.70v1.6M421.48,490.70v1.6M423.73,490.70v1.6M425.98,490.70v1.6M428.23,490.70v1.6M430.48,490.70v1.6M432.73,490.70v1.6M434.98,490.70v1.6M437.23,490.70v1.6M439.48,490.70v1.6M441.73,490.70v1.6M443.98,490.70v1.6M446.23,490.70v1.6M448.48,490.70v1.6M450.73,490.70v1.6M452.98,490.70v1.6M455.23,490.70v1.6M457.48,490.70v1.6M459.73,490.70v1.6M461.98,490.70v1.6M464.23,490.70v1.6M466.48,490.70v1.6M468.73,490.70v1.6M470.98,490.70v1.6M473.23,490.70v1.6" stroke="#000" stroke-width="0.6"/>
<path d="M414.22,490.70v2.6M423.12,490.70v2.6M433.24,490.70v2.6M444.12,490.70v2.6M455.64,490.70v2.6M466.58,490.70v2.6" stroke="#000" stroke-width="0.9"/>
<text x="414.72" y="501.00" font-size="5.5" text-anchor="middle" fill="#444" font-weight="bold" textLength="5.4" lengthAdjust="spacingAndGlyphs">10</text>
<text x="418.12" y="498.60" font-size="3.2" text-anchor="middle" fill="#444" font-weight="bold">0</text>
<text x="423.62" y="501.00" font-size="5.5" text-anchor="middle" fill="#444" font-weight="bold" textLength="5.4" lengthAdjust="spacingAndGlyphs">10</text>
<text x="427.02" y="498.60" font-size="3.2" text-anchor="middle" fill="#444" font-weight="bold">1</text>
<text x="433.74" y="501.00" font-size="5.5" text-anchor="middle" fill="#444" font-weight="bold" textLength="5.4" lengthAdjust="spacingAndGlyphs">10</text>
<text x="437.14" y="498.60" font-size="3.2" text-anchor="middle" fill="#444" font-weight="bold">2</text>
<text x="444.62" y="501.00" font-size="5.5" text-anchor="middle" fill="#444" font-weight="bold" textLength="5.4" lengthAdjust="spacingAndGlyphs">10</text>
<text x="448.02" y="498.60" font-size="3.2" text-anchor="middle" fill="#444" font-weight="bold">3</text>
<text x="456.14" y="501.00" font-size="5.5" text-anchor="middle" fill="#444" font-weight="bold" textLength="5.4" lengthAdjust="spacingAndGlyphs">10</text>
<text x="459.54" y="498.60" font-size="3.2" text-anchor="middle" fill="#444" font-weight="bold">4</text>
<text x="467.08" y="501.00" font-size="5.5" text-anchor="middle" fill="#444" font-weight="bold" textLength="5.4" lengthAdjust="spacingAndGlyphs">10</text>
<text x="470.48" y="498.60" font-size="3.2" text-anchor="middle" fill="#444" font-weight="bold">5</text>
<text x="443.98" y="510.40" font-size="7.0" text-anchor="middle" fill="#333" font-weight="bold" textLength="12.50" lengthAdjust="spacingAndGlyphs" >CD14</text>
<text x="443.90" y="428.50" font-size="8.0" text-anchor="middle" fill="#222" textLength="26.63" lengthAdjust="spacingAndGlyphs" >+GCSF</text>
<clipPath id="c414_515"><rect x="414.73" y="515.40" width="58.50" height="58.00"/></clipPath>
<g clip-path="url(#c414_515)">
<path d="M414.73,573.40 L415.40,573.13 L417.40,570.44 L419.40,561.01 L421.41,544.86 L423.41,531.40 L425.15,525.34 L426.48,527.36 L427.82,530.72 L428.75,536.78 L430.09,542.17 L431.43,550.24 L432.76,555.63 L434.10,559.67 L435.43,563.71 L436.77,565.73 L439.44,567.07 L442.78,568.42 L445.45,569.77 L448.12,570.44 L450.79,569.77 L453.46,569.09 L456.13,567.75 L458.81,566.40 L461.48,565.05 L463.48,564.38 L464.82,566.40 L466.82,569.09 L469.49,571.11 L473.23,572.46" fill="none" stroke="#3f4a70" stroke-width="1.05" stroke-linejoin="round"/>
<path d="M427.35,573.40 L427.35,573.40 L429.25,571.92 L431.15,570.44 L432.78,569.09 L434.14,567.48 L435.50,565.32 L436.72,563.44 L437.94,561.69 L439.16,560.07 L440.25,557.51 L441.20,555.09 L442.15,553.61 L443.23,553.07 L444.18,552.53 L445.00,551.86 L445.68,551.05 L446.49,549.84 L447.17,548.09 L447.71,545.80 L448.12,543.24 L448.66,539.21 L449.21,543.24 L449.75,544.86 L450.16,545.13 L450.70,544.32 L451.11,544.19 L451.92,541.90 L452.60,539.21 L453.14,536.51 L453.68,534.22 L454.09,535.71 L454.63,535.30 L455.18,533.28 L455.72,533.82 L456.40,531.94 L457.21,530.86 L457.89,529.78 L458.71,528.30 L459.25,526.82 L459.79,525.74 L460.20,524.80 L460.74,526.55 L461.15,527.36 L461.69,528.57 L462.10,528.84 L462.64,527.49 L463.19,527.90 L463.73,530.99 L464.14,533.28 L464.68,536.38 L465.09,537.72 L465.63,538.80 L466.17,539.21 L466.58,543.11 L467.12,547.15 L467.67,550.51 L468.21,553.07 L468.75,555.90 L469.16,558.05 L470.11,563.03 L471.19,566.94 L472.14,568.42 L473.23,569.09 L473.23,573.40 Z" fill="#c84f3b" fill-opacity="0.65" stroke="none"/>
<path d="M427.35,573.40 L429.25,571.92 L431.15,570.44 L432.78,569.09 L434.14,567.48 L435.50,565.32 L436.72,563.44 L437.94,561.69 L439.16,560.07 L440.25,557.51 L441.20,555.09 L442.15,553.61 L443.23,553.07 L444.18,552.53 L445.00,551.86 L445.68,551.05 L446.49,549.84 L447.17,548.09 L447.71,545.80 L448.12,543.24 L448.66,539.21 L449.21,543.24 L449.75,544.86 L450.16,545.13 L450.70,544.32 L451.11,544.19 L451.92,541.90 L452.60,539.21 L453.14,536.51 L453.68,534.22 L454.09,535.71 L454.63,535.30 L455.18,533.28 L455.72,533.82 L456.40,531.94 L457.21,530.86 L457.89,529.78 L458.71,528.30 L459.25,526.82 L459.79,525.74 L460.20,524.80 L460.74,526.55 L461.15,527.36 L461.69,528.57 L462.10,528.84 L462.64,527.49 L463.19,527.90 L463.73,530.99 L464.14,533.28 L464.68,536.38 L465.09,537.72 L465.63,538.80 L466.17,539.21 L466.58,543.11 L467.12,547.15 L467.67,550.51 L468.21,553.07 L468.75,555.90 L469.16,558.05 L470.11,563.03 L471.19,566.94 L472.14,568.42 L473.23,569.09" fill="none" stroke="#9a102e" stroke-width="1.35" stroke-linejoin="round"/>
</g>
<rect x="414.73" y="515.40" width="58.50" height="58.00" fill="none" stroke="#000" stroke-width="1.3"/>
<path d="M412.13,573.40H414.73M412.13,562.28H414.73M412.13,551.16H414.73M412.13,540.04H414.73M412.13,528.92H414.73M412.13,517.80H414.73" stroke="#000" stroke-width="0.9"/>
<path d="M413.43,571.18H414.73M413.43,568.95H414.73M413.43,566.73H414.73M413.43,564.50H414.73M413.43,560.06H414.73M413.43,557.83H414.73M413.43,555.61H414.73M413.43,553.38H414.73M413.43,548.94H414.73M413.43,546.71H414.73M413.43,544.49H414.73M413.43,542.26H414.73M413.43,537.82H414.73M413.43,535.59H414.73M413.43,533.37H414.73M413.43,531.14H414.73M413.43,526.70H414.73M413.43,524.47H414.73M413.43,522.25H414.73M413.43,520.02H414.73" stroke="#000" stroke-width="0.6"/>
<text x="410.53" y="575.20" font-size="5.2" text-anchor="end" fill="#555" font-weight="bold" textLength="3.00" lengthAdjust="spacingAndGlyphs" >0</text>
<text x="410.53" y="564.08" font-size="5.2" text-anchor="end" fill="#555" font-weight="bold" textLength="6.00" lengthAdjust="spacingAndGlyphs" >20</text>
<text x="410.53" y="552.96" font-size="5.2" text-anchor="end" fill="#555" font-weight="bold" textLength="6.00" lengthAdjust="spacingAndGlyphs" >40</text>
<text x="410.53" y="541.84" font-size="5.2" text-anchor="end" fill="#555" font-weight="bold" textLength="6.00" lengthAdjust="spacingAndGlyphs" >60</text>
<text x="410.53" y="530.72" font-size="5.2" text-anchor="end" fill="#555" font-weight="bold" textLength="6.00" lengthAdjust="spacingAndGlyphs" >80</text>
<text x="410.53" y="519.60" font-size="5.2" text-anchor="end" fill="#555" font-weight="bold" textLength="9.00" lengthAdjust="spacingAndGlyphs" >100</text>
<path d="M414.73,573.40v1.6M416.98,573.40v1.6M419.23,573.40v1.6M421.48,573.40v1.6M423.73,573.40v1.6M425.98,573.40v1.6M428.23,573.40v1.6M430.48,573.40v1.6M432.73,573.40v1.6M434.98,573.40v1.6M437.23,573.40v1.6M439.48,573.40v1.6M441.73,573.40v1.6M443.98,573.40v1.6M446.23,573.40v1.6M448.48,573.40v1.6M450.73,573.40v1.6M452.98,573.40v1.6M455.23,573.40v1.6M457.48,573.40v1.6M459.73,573.40v1.6M461.98,573.40v1.6M464.23,573.40v1.6M466.48,573.40v1.6M468.73,573.40v1.6M470.98,573.40v1.6M473.23,573.40v1.6" stroke="#000" stroke-width="0.6"/>
<path d="M423.29,573.40v2.6M442.66,573.40v2.6M461.90,573.40v2.6" stroke="#000" stroke-width="0.9"/>
<text x="423.79" y="584.30" font-size="5.5" text-anchor="middle" fill="#444" font-weight="bold" textLength="5.4" lengthAdjust="spacingAndGlyphs">10</text>
<text x="427.19" y="581.90" font-size="3.2" text-anchor="middle" fill="#444" font-weight="bold">3</text>
<text x="443.16" y="584.30" font-size="5.5" text-anchor="middle" fill="#444" font-weight="bold" textLength="5.4" lengthAdjust="spacingAndGlyphs">10</text>
<text x="446.56" y="581.90" font-size="3.2" text-anchor="middle" fill="#444" font-weight="bold">4</text>
<text x="462.40" y="584.30" font-size="5.5" text-anchor="middle" fill="#444" font-weight="bold" textLength="5.4" lengthAdjust="spacingAndGlyphs">10</text>
<text x="465.80" y="581.90" font-size="3.2" text-anchor="middle" fill="#444" font-weight="bold">5</text>
<text x="443.98" y="593.10" font-size="7.0" text-anchor="middle" fill="#333" font-weight="bold" textLength="14.00" lengthAdjust="spacingAndGlyphs" >CD117</text>
<text x="48.30" y="461.70" font-size="7.2" text-anchor="middle" fill="#222" font-weight="bold" textLength="42.10" lengthAdjust="spacingAndGlyphs" transform="rotate(-90 48.30 461.70)" >Relative cell count</text>
<text x="48.30" y="543.90" font-size="7.2" text-anchor="middle" fill="#222" font-weight="bold" textLength="41.60" lengthAdjust="spacingAndGlyphs" transform="rotate(-90 48.30 543.90)" >Relative cell count</text>
<line x1="42.00" y1="597.40" x2="478.50" y2="597.40" stroke="#505050" stroke-width="1.5" />
<text x="260.40" y="607.30" font-size="7.0" text-anchor="middle" fill="#222" font-weight="bold" textLength="33.00" lengthAdjust="spacingAndGlyphs" >+SR1+UM729</text>
<text x="260.40" y="618.40" font-size="7.0" text-anchor="middle" fill="#222" font-weight="bold" textLength="13.20" lengthAdjust="spacingAndGlyphs" >+SCF</text>
<rect x="0.6" y="0.6" width="518.8" height="625.8" fill="none" stroke="#000" stroke-width="1.3"/>
</svg></body></html>
